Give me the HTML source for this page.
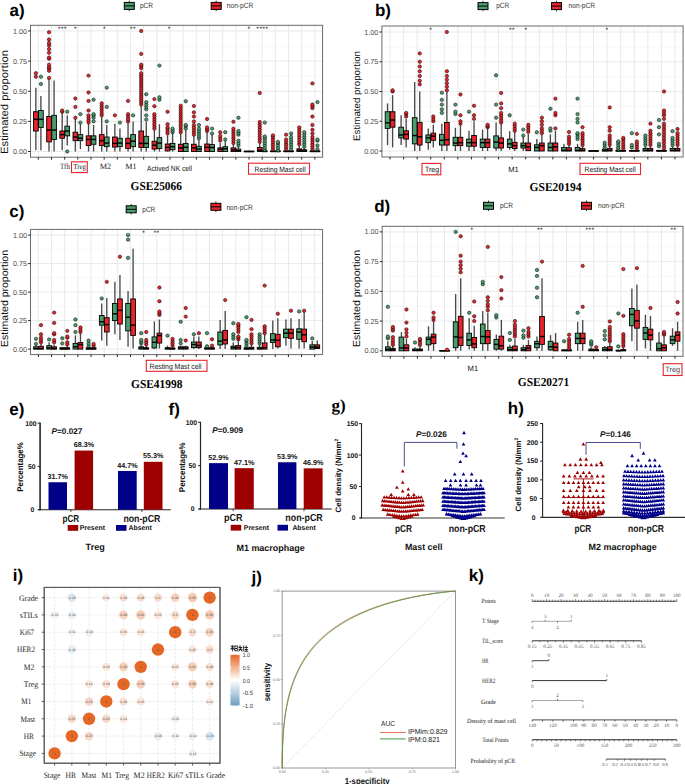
<!DOCTYPE html><html><head><meta charset="utf-8"><style>html,body{margin:0;padding:0;background:#fff;}svg{display:block;}</style></head><body><svg width="685" height="784" viewBox="0 0 685 784" text-rendering="geometricPrecision"><rect x="0" y="0" width="685" height="784" fill="#fff"/>
<rect x="30.5" y="25.3" width="292.1" height="131.9" fill="#fff"/>
<line x1="30.5" y1="136.44" x2="322.6" y2="136.44" stroke="#F2F2F2" stroke-width="0.6" />
<line x1="30.5" y1="106.31" x2="322.6" y2="106.31" stroke="#F2F2F2" stroke-width="0.6" />
<line x1="30.5" y1="76.19" x2="322.6" y2="76.19" stroke="#F2F2F2" stroke-width="0.6" />
<line x1="30.5" y1="46.06" x2="322.6" y2="46.06" stroke="#F2F2F2" stroke-width="0.6" />
<line x1="30.5" y1="151.5" x2="322.6" y2="151.5" stroke="#E6E6E6" stroke-width="0.9" />
<line x1="30.5" y1="121.38" x2="322.6" y2="121.38" stroke="#E6E6E6" stroke-width="0.9" />
<line x1="30.5" y1="91.25" x2="322.6" y2="91.25" stroke="#E6E6E6" stroke-width="0.9" />
<line x1="30.5" y1="61.12" x2="322.6" y2="61.12" stroke="#E6E6E6" stroke-width="0.9" />
<line x1="30.5" y1="31" x2="322.6" y2="31" stroke="#E6E6E6" stroke-width="0.9" />
<line x1="38.3" y1="25.3" x2="38.3" y2="157.2" stroke="#E6E6E6" stroke-width="0.9" />
<line x1="51.47" y1="25.3" x2="51.47" y2="157.2" stroke="#E6E6E6" stroke-width="0.9" />
<line x1="64.64" y1="25.3" x2="64.64" y2="157.2" stroke="#E6E6E6" stroke-width="0.9" />
<line x1="77.81" y1="25.3" x2="77.81" y2="157.2" stroke="#E6E6E6" stroke-width="0.9" />
<line x1="90.98" y1="25.3" x2="90.98" y2="157.2" stroke="#E6E6E6" stroke-width="0.9" />
<line x1="104.15" y1="25.3" x2="104.15" y2="157.2" stroke="#E6E6E6" stroke-width="0.9" />
<line x1="117.32" y1="25.3" x2="117.32" y2="157.2" stroke="#E6E6E6" stroke-width="0.9" />
<line x1="130.49" y1="25.3" x2="130.49" y2="157.2" stroke="#E6E6E6" stroke-width="0.9" />
<line x1="143.66" y1="25.3" x2="143.66" y2="157.2" stroke="#E6E6E6" stroke-width="0.9" />
<line x1="156.83" y1="25.3" x2="156.83" y2="157.2" stroke="#E6E6E6" stroke-width="0.9" />
<line x1="170" y1="25.3" x2="170" y2="157.2" stroke="#E6E6E6" stroke-width="0.9" />
<line x1="183.17" y1="25.3" x2="183.17" y2="157.2" stroke="#E6E6E6" stroke-width="0.9" />
<line x1="196.34" y1="25.3" x2="196.34" y2="157.2" stroke="#E6E6E6" stroke-width="0.9" />
<line x1="209.51" y1="25.3" x2="209.51" y2="157.2" stroke="#E6E6E6" stroke-width="0.9" />
<line x1="222.68" y1="25.3" x2="222.68" y2="157.2" stroke="#E6E6E6" stroke-width="0.9" />
<line x1="235.85" y1="25.3" x2="235.85" y2="157.2" stroke="#E6E6E6" stroke-width="0.9" />
<line x1="249.02" y1="25.3" x2="249.02" y2="157.2" stroke="#E6E6E6" stroke-width="0.9" />
<line x1="262.19" y1="25.3" x2="262.19" y2="157.2" stroke="#E6E6E6" stroke-width="0.9" />
<line x1="275.36" y1="25.3" x2="275.36" y2="157.2" stroke="#E6E6E6" stroke-width="0.9" />
<line x1="288.53" y1="25.3" x2="288.53" y2="157.2" stroke="#E6E6E6" stroke-width="0.9" />
<line x1="301.7" y1="25.3" x2="301.7" y2="157.2" stroke="#E6E6E6" stroke-width="0.9" />
<line x1="314.87" y1="25.3" x2="314.87" y2="157.2" stroke="#E6E6E6" stroke-width="0.9" />
<line x1="35.85" y1="87.63" x2="35.85" y2="111.73" stroke="#484848" stroke-width="1.35" />
<line x1="35.85" y1="131.01" x2="35.85" y2="150.29" stroke="#484848" stroke-width="1.35" />
<rect x="33.5" y="111.73" width="4.7" height="19.28" fill="#E8232A" stroke="#000" stroke-width="0.9" />
<line x1="33.5" y1="119.33" x2="38.2" y2="119.33" stroke="#000" stroke-width="1.45" />
<circle cx="35.85" cy="76.79" r="1.7" fill="#E8232A" stroke="#000" stroke-width="0.5"/>
<circle cx="35.85" cy="73.17" r="1.7" fill="#E8232A" stroke="#000" stroke-width="0.5"/>
<line x1="40.9" y1="96.07" x2="40.9" y2="110.53" stroke="#484848" stroke-width="1.35" />
<line x1="40.9" y1="127.4" x2="40.9" y2="150.29" stroke="#484848" stroke-width="1.35" />
<rect x="38.55" y="110.53" width="4.7" height="16.87" fill="#4A9D6C" stroke="#000" stroke-width="0.9" />
<line x1="38.55" y1="119.33" x2="43.25" y2="119.33" stroke="#000" stroke-width="1.45" />
<circle cx="40.9" cy="84.02" r="1.7" fill="#4A9D6C" stroke="#000" stroke-width="0.5"/>
<circle cx="40.9" cy="76.79" r="1.7" fill="#4A9D6C" stroke="#000" stroke-width="0.5"/>
<line x1="49.02" y1="79.2" x2="49.02" y2="116.56" stroke="#484848" stroke-width="1.35" />
<line x1="49.02" y1="141.86" x2="49.02" y2="151.5" stroke="#484848" stroke-width="1.35" />
<rect x="46.67" y="116.56" width="4.7" height="25.31" fill="#E8232A" stroke="#000" stroke-width="0.9" />
<line x1="46.67" y1="130.05" x2="51.37" y2="130.05" stroke="#000" stroke-width="1.45" />
<circle cx="49.02" cy="78" r="1.7" fill="#E8232A" stroke="#000" stroke-width="0.5"/>
<circle cx="49.02" cy="70.77" r="1.7" fill="#E8232A" stroke="#000" stroke-width="0.5"/>
<circle cx="49.02" cy="68.36" r="1.7" fill="#E8232A" stroke="#000" stroke-width="0.5"/>
<circle cx="49.02" cy="67.15" r="1.7" fill="#E8232A" stroke="#000" stroke-width="0.5"/>
<circle cx="49.02" cy="64.74" r="1.7" fill="#E8232A" stroke="#000" stroke-width="0.5"/>
<circle cx="49.02" cy="58.72" r="1.7" fill="#E8232A" stroke="#000" stroke-width="0.5"/>
<circle cx="49.02" cy="57.51" r="1.7" fill="#E8232A" stroke="#000" stroke-width="0.5"/>
<circle cx="49.02" cy="52.69" r="1.7" fill="#E8232A" stroke="#000" stroke-width="0.5"/>
<circle cx="49.02" cy="49.08" r="1.7" fill="#E8232A" stroke="#000" stroke-width="0.5"/>
<circle cx="49.02" cy="45.46" r="1.7" fill="#E8232A" stroke="#000" stroke-width="0.5"/>
<circle cx="49.02" cy="43.05" r="1.7" fill="#E8232A" stroke="#000" stroke-width="0.5"/>
<circle cx="49.02" cy="39.43" r="1.7" fill="#E8232A" stroke="#000" stroke-width="0.5"/>
<circle cx="49.02" cy="32.2" r="1.7" fill="#E8232A" stroke="#000" stroke-width="0.5"/>
<line x1="54.07" y1="80.41" x2="54.07" y2="115.35" stroke="#484848" stroke-width="1.35" />
<line x1="54.07" y1="139.45" x2="54.07" y2="151.5" stroke="#484848" stroke-width="1.35" />
<rect x="51.72" y="115.35" width="4.7" height="24.1" fill="#4A9D6C" stroke="#000" stroke-width="0.9" />
<line x1="51.72" y1="130.05" x2="56.42" y2="130.05" stroke="#000" stroke-width="1.45" />
<line x1="62.19" y1="112.94" x2="62.19" y2="131.01" stroke="#484848" stroke-width="1.35" />
<line x1="62.19" y1="138.25" x2="62.19" y2="150.29" stroke="#484848" stroke-width="1.35" />
<rect x="59.84" y="131.01" width="4.7" height="7.23" fill="#E8232A" stroke="#000" stroke-width="0.9" />
<line x1="59.84" y1="134.63" x2="64.54" y2="134.63" stroke="#000" stroke-width="1.45" />
<circle cx="62.19" cy="111.73" r="1.7" fill="#E8232A" stroke="#000" stroke-width="0.5"/>
<circle cx="62.19" cy="110.53" r="1.7" fill="#E8232A" stroke="#000" stroke-width="0.5"/>
<line x1="67.24" y1="115.35" x2="67.24" y2="126.19" stroke="#484848" stroke-width="1.35" />
<line x1="67.24" y1="135.84" x2="67.24" y2="145.47" stroke="#484848" stroke-width="1.35" />
<rect x="64.89" y="126.19" width="4.7" height="9.64" fill="#4A9D6C" stroke="#000" stroke-width="0.9" />
<line x1="64.89" y1="131.01" x2="69.59" y2="131.01" stroke="#000" stroke-width="1.45" />
<circle cx="67.24" cy="151.5" r="1.7" fill="#4A9D6C" stroke="#000" stroke-width="0.5"/>
<circle cx="67.24" cy="111.73" r="1.7" fill="#4A9D6C" stroke="#000" stroke-width="0.5"/>
<line x1="75.36" y1="118.97" x2="75.36" y2="132.22" stroke="#484848" stroke-width="1.35" />
<line x1="75.36" y1="140.66" x2="75.36" y2="151.5" stroke="#484848" stroke-width="1.35" />
<rect x="73.01" y="132.22" width="4.7" height="8.44" fill="#E8232A" stroke="#000" stroke-width="0.9" />
<line x1="73.01" y1="137.04" x2="77.71" y2="137.04" stroke="#000" stroke-width="1.45" />
<circle cx="75.36" cy="117.76" r="1.7" fill="#E8232A" stroke="#000" stroke-width="0.5"/>
<circle cx="75.36" cy="106.91" r="1.7" fill="#E8232A" stroke="#000" stroke-width="0.5"/>
<circle cx="75.36" cy="98.48" r="1.7" fill="#E8232A" stroke="#000" stroke-width="0.5"/>
<line x1="80.41" y1="123.78" x2="80.41" y2="134.63" stroke="#484848" stroke-width="1.35" />
<line x1="80.41" y1="140.66" x2="80.41" y2="149.09" stroke="#484848" stroke-width="1.35" />
<rect x="78.06" y="134.63" width="4.7" height="6.03" fill="#4A9D6C" stroke="#000" stroke-width="0.9" />
<line x1="78.06" y1="138.25" x2="82.76" y2="138.25" stroke="#000" stroke-width="1.45" />
<circle cx="80.41" cy="122.58" r="1.7" fill="#4A9D6C" stroke="#000" stroke-width="0.5"/>
<circle cx="80.41" cy="114.15" r="1.7" fill="#4A9D6C" stroke="#000" stroke-width="0.5"/>
<line x1="88.53" y1="123.78" x2="88.53" y2="135.84" stroke="#484848" stroke-width="1.35" />
<line x1="88.53" y1="145.47" x2="88.53" y2="151.5" stroke="#484848" stroke-width="1.35" />
<rect x="86.18" y="135.84" width="4.7" height="9.64" fill="#E8232A" stroke="#000" stroke-width="0.9" />
<line x1="86.18" y1="139.45" x2="90.88" y2="139.45" stroke="#000" stroke-width="1.45" />
<circle cx="88.53" cy="122.58" r="1.7" fill="#E8232A" stroke="#000" stroke-width="0.5"/>
<circle cx="88.53" cy="120.17" r="1.7" fill="#E8232A" stroke="#000" stroke-width="0.5"/>
<circle cx="88.53" cy="117.76" r="1.7" fill="#E8232A" stroke="#000" stroke-width="0.5"/>
<circle cx="88.53" cy="115.35" r="1.7" fill="#E8232A" stroke="#000" stroke-width="0.5"/>
<circle cx="88.53" cy="110.53" r="1.7" fill="#E8232A" stroke="#000" stroke-width="0.5"/>
<circle cx="88.53" cy="100.89" r="1.7" fill="#E8232A" stroke="#000" stroke-width="0.5"/>
<circle cx="88.53" cy="92.45" r="1.7" fill="#E8232A" stroke="#000" stroke-width="0.5"/>
<circle cx="88.53" cy="75.58" r="1.7" fill="#E8232A" stroke="#000" stroke-width="0.5"/>
<line x1="93.58" y1="124.99" x2="93.58" y2="135.84" stroke="#484848" stroke-width="1.35" />
<line x1="93.58" y1="144.27" x2="93.58" y2="151.5" stroke="#484848" stroke-width="1.35" />
<rect x="91.23" y="135.84" width="4.7" height="8.44" fill="#4A9D6C" stroke="#000" stroke-width="0.9" />
<line x1="91.23" y1="139.45" x2="95.93" y2="139.45" stroke="#000" stroke-width="1.45" />
<circle cx="93.58" cy="121.38" r="1.7" fill="#4A9D6C" stroke="#000" stroke-width="0.5"/>
<circle cx="93.58" cy="117.76" r="1.7" fill="#4A9D6C" stroke="#000" stroke-width="0.5"/>
<circle cx="93.58" cy="115.35" r="1.7" fill="#4A9D6C" stroke="#000" stroke-width="0.5"/>
<circle cx="93.58" cy="114.15" r="1.7" fill="#4A9D6C" stroke="#000" stroke-width="0.5"/>
<circle cx="93.58" cy="99.69" r="1.7" fill="#4A9D6C" stroke="#000" stroke-width="0.5"/>
<line x1="101.7" y1="116.56" x2="101.7" y2="134.63" stroke="#484848" stroke-width="1.35" />
<line x1="101.7" y1="145.47" x2="101.7" y2="151.5" stroke="#484848" stroke-width="1.35" />
<rect x="99.35" y="134.63" width="4.7" height="10.84" fill="#E8232A" stroke="#000" stroke-width="0.9" />
<line x1="99.35" y1="140.66" x2="104.05" y2="140.66" stroke="#000" stroke-width="1.45" />
<circle cx="101.7" cy="115.35" r="1.7" fill="#E8232A" stroke="#000" stroke-width="0.5"/>
<circle cx="101.7" cy="112.94" r="1.7" fill="#E8232A" stroke="#000" stroke-width="0.5"/>
<circle cx="101.7" cy="110.53" r="1.7" fill="#E8232A" stroke="#000" stroke-width="0.5"/>
<circle cx="101.7" cy="108.12" r="1.7" fill="#E8232A" stroke="#000" stroke-width="0.5"/>
<circle cx="101.7" cy="105.71" r="1.7" fill="#E8232A" stroke="#000" stroke-width="0.5"/>
<circle cx="101.7" cy="103.3" r="1.7" fill="#E8232A" stroke="#000" stroke-width="0.5"/>
<line x1="106.75" y1="124.99" x2="106.75" y2="137.04" stroke="#484848" stroke-width="1.35" />
<line x1="106.75" y1="146.68" x2="106.75" y2="151.5" stroke="#484848" stroke-width="1.35" />
<rect x="104.4" y="137.04" width="4.7" height="9.64" fill="#4A9D6C" stroke="#000" stroke-width="0.9" />
<line x1="104.4" y1="143.06" x2="109.1" y2="143.06" stroke="#000" stroke-width="1.45" />
<circle cx="106.75" cy="121.38" r="1.7" fill="#4A9D6C" stroke="#000" stroke-width="0.5"/>
<circle cx="106.75" cy="106.91" r="1.7" fill="#4A9D6C" stroke="#000" stroke-width="0.5"/>
<circle cx="106.75" cy="87.63" r="1.7" fill="#4A9D6C" stroke="#000" stroke-width="0.5"/>
<line x1="114.87" y1="123.78" x2="114.87" y2="137.04" stroke="#484848" stroke-width="1.35" />
<line x1="114.87" y1="147.04" x2="114.87" y2="151.5" stroke="#484848" stroke-width="1.35" />
<rect x="112.52" y="137.04" width="4.7" height="10" fill="#E8232A" stroke="#000" stroke-width="0.9" />
<line x1="112.52" y1="143.43" x2="117.22" y2="143.43" stroke="#000" stroke-width="1.45" />
<circle cx="114.87" cy="115.35" r="1.7" fill="#E8232A" stroke="#000" stroke-width="0.5"/>
<line x1="119.92" y1="128.6" x2="119.92" y2="138.25" stroke="#484848" stroke-width="1.35" />
<line x1="119.92" y1="146.68" x2="119.92" y2="151.5" stroke="#484848" stroke-width="1.35" />
<rect x="117.57" y="138.25" width="4.7" height="8.44" fill="#4A9D6C" stroke="#000" stroke-width="0.9" />
<line x1="117.57" y1="143.06" x2="122.27" y2="143.06" stroke="#000" stroke-width="1.45" />
<circle cx="119.92" cy="122.58" r="1.7" fill="#4A9D6C" stroke="#000" stroke-width="0.5"/>
<line x1="128.04" y1="121.98" x2="128.04" y2="138.25" stroke="#484848" stroke-width="1.35" />
<line x1="128.04" y1="148.49" x2="128.04" y2="151.5" stroke="#484848" stroke-width="1.35" />
<rect x="125.69" y="138.25" width="4.7" height="10.24" fill="#E8232A" stroke="#000" stroke-width="0.9" />
<line x1="125.69" y1="143.43" x2="130.39" y2="143.43" stroke="#000" stroke-width="1.45" />
<circle cx="128.04" cy="121.38" r="1.7" fill="#E8232A" stroke="#000" stroke-width="0.5"/>
<circle cx="128.04" cy="118.97" r="1.7" fill="#E8232A" stroke="#000" stroke-width="0.5"/>
<circle cx="128.04" cy="116.56" r="1.7" fill="#E8232A" stroke="#000" stroke-width="0.5"/>
<circle cx="128.04" cy="114.15" r="1.7" fill="#E8232A" stroke="#000" stroke-width="0.5"/>
<circle cx="128.04" cy="100.89" r="1.7" fill="#E8232A" stroke="#000" stroke-width="0.5"/>
<line x1="133.09" y1="121.38" x2="133.09" y2="134.63" stroke="#484848" stroke-width="1.35" />
<line x1="133.09" y1="146.68" x2="133.09" y2="151.5" stroke="#484848" stroke-width="1.35" />
<rect x="130.74" y="134.63" width="4.7" height="12.05" fill="#4A9D6C" stroke="#000" stroke-width="0.9" />
<line x1="130.74" y1="141.26" x2="135.44" y2="141.26" stroke="#000" stroke-width="1.45" />
<circle cx="133.09" cy="115.35" r="1.7" fill="#4A9D6C" stroke="#000" stroke-width="0.5"/>
<line x1="141.21" y1="105.71" x2="141.21" y2="131.01" stroke="#484848" stroke-width="1.35" />
<line x1="141.21" y1="147.4" x2="141.21" y2="151.5" stroke="#484848" stroke-width="1.35" />
<rect x="138.86" y="131.01" width="4.7" height="16.39" fill="#E8232A" stroke="#000" stroke-width="0.9" />
<line x1="138.86" y1="143.43" x2="143.56" y2="143.43" stroke="#000" stroke-width="1.45" />
<circle cx="141.21" cy="104.5" r="1.7" fill="#E8232A" stroke="#000" stroke-width="0.5"/>
<circle cx="141.21" cy="102.42" r="1.7" fill="#E8232A" stroke="#000" stroke-width="0.5"/>
<circle cx="141.21" cy="100.33" r="1.7" fill="#E8232A" stroke="#000" stroke-width="0.5"/>
<circle cx="141.21" cy="98.24" r="1.7" fill="#E8232A" stroke="#000" stroke-width="0.5"/>
<circle cx="141.21" cy="96.15" r="1.7" fill="#E8232A" stroke="#000" stroke-width="0.5"/>
<circle cx="141.21" cy="94.06" r="1.7" fill="#E8232A" stroke="#000" stroke-width="0.5"/>
<circle cx="141.21" cy="91.97" r="1.7" fill="#E8232A" stroke="#000" stroke-width="0.5"/>
<circle cx="141.21" cy="89.88" r="1.7" fill="#E8232A" stroke="#000" stroke-width="0.5"/>
<circle cx="141.21" cy="87.8" r="1.7" fill="#E8232A" stroke="#000" stroke-width="0.5"/>
<circle cx="141.21" cy="85.71" r="1.7" fill="#E8232A" stroke="#000" stroke-width="0.5"/>
<circle cx="141.21" cy="83.62" r="1.7" fill="#E8232A" stroke="#000" stroke-width="0.5"/>
<circle cx="141.21" cy="81.53" r="1.7" fill="#E8232A" stroke="#000" stroke-width="0.5"/>
<circle cx="141.21" cy="79.44" r="1.7" fill="#E8232A" stroke="#000" stroke-width="0.5"/>
<circle cx="141.21" cy="77.35" r="1.7" fill="#E8232A" stroke="#000" stroke-width="0.5"/>
<circle cx="141.21" cy="75.26" r="1.7" fill="#E8232A" stroke="#000" stroke-width="0.5"/>
<circle cx="141.21" cy="73.17" r="1.7" fill="#E8232A" stroke="#000" stroke-width="0.5"/>
<circle cx="141.21" cy="68.36" r="1.7" fill="#E8232A" stroke="#000" stroke-width="0.5"/>
<circle cx="141.21" cy="65.95" r="1.7" fill="#E8232A" stroke="#000" stroke-width="0.5"/>
<circle cx="141.21" cy="64.74" r="1.7" fill="#E8232A" stroke="#000" stroke-width="0.5"/>
<circle cx="141.21" cy="53.89" r="1.7" fill="#E8232A" stroke="#000" stroke-width="0.5"/>
<circle cx="141.21" cy="31" r="1.7" fill="#E8232A" stroke="#000" stroke-width="0.5"/>
<line x1="146.26" y1="121.98" x2="146.26" y2="136.32" stroke="#484848" stroke-width="1.35" />
<line x1="146.26" y1="147.4" x2="146.26" y2="151.5" stroke="#484848" stroke-width="1.35" />
<rect x="143.91" y="136.32" width="4.7" height="11.09" fill="#4A9D6C" stroke="#000" stroke-width="0.9" />
<line x1="143.91" y1="143.43" x2="148.61" y2="143.43" stroke="#000" stroke-width="1.45" />
<circle cx="146.26" cy="119.57" r="1.7" fill="#4A9D6C" stroke="#000" stroke-width="0.5"/>
<circle cx="146.26" cy="115.35" r="1.7" fill="#4A9D6C" stroke="#000" stroke-width="0.5"/>
<circle cx="146.26" cy="109.33" r="1.7" fill="#4A9D6C" stroke="#000" stroke-width="0.5"/>
<circle cx="146.26" cy="106.91" r="1.7" fill="#4A9D6C" stroke="#000" stroke-width="0.5"/>
<circle cx="146.26" cy="104.5" r="1.7" fill="#4A9D6C" stroke="#000" stroke-width="0.5"/>
<circle cx="146.26" cy="102.09" r="1.7" fill="#4A9D6C" stroke="#000" stroke-width="0.5"/>
<circle cx="146.26" cy="94.26" r="1.7" fill="#4A9D6C" stroke="#000" stroke-width="0.5"/>
<line x1="154.38" y1="129.09" x2="154.38" y2="141.26" stroke="#484848" stroke-width="1.35" />
<line x1="154.38" y1="149.09" x2="154.38" y2="151.5" stroke="#484848" stroke-width="1.35" />
<rect x="152.03" y="141.26" width="4.7" height="7.83" fill="#E8232A" stroke="#000" stroke-width="0.9" />
<line x1="152.03" y1="145.23" x2="156.73" y2="145.23" stroke="#000" stroke-width="1.45" />
<circle cx="154.38" cy="128.6" r="1.7" fill="#E8232A" stroke="#000" stroke-width="0.5"/>
<circle cx="154.38" cy="126.19" r="1.7" fill="#E8232A" stroke="#000" stroke-width="0.5"/>
<circle cx="154.38" cy="123.78" r="1.7" fill="#E8232A" stroke="#000" stroke-width="0.5"/>
<circle cx="154.38" cy="121.38" r="1.7" fill="#E8232A" stroke="#000" stroke-width="0.5"/>
<circle cx="154.38" cy="118.97" r="1.7" fill="#E8232A" stroke="#000" stroke-width="0.5"/>
<circle cx="154.38" cy="116.56" r="1.7" fill="#E8232A" stroke="#000" stroke-width="0.5"/>
<circle cx="154.38" cy="114.15" r="1.7" fill="#E8232A" stroke="#000" stroke-width="0.5"/>
<circle cx="154.38" cy="106.19" r="1.7" fill="#E8232A" stroke="#000" stroke-width="0.5"/>
<circle cx="154.38" cy="99.08" r="1.7" fill="#E8232A" stroke="#000" stroke-width="0.5"/>
<line x1="159.43" y1="124.15" x2="159.43" y2="137.64" stroke="#484848" stroke-width="1.35" />
<line x1="159.43" y1="148.49" x2="159.43" y2="151.5" stroke="#484848" stroke-width="1.35" />
<rect x="157.08" y="137.64" width="4.7" height="10.84" fill="#4A9D6C" stroke="#000" stroke-width="0.9" />
<line x1="157.08" y1="143.06" x2="161.78" y2="143.06" stroke="#000" stroke-width="1.45" />
<circle cx="159.43" cy="99.69" r="1.7" fill="#4A9D6C" stroke="#000" stroke-width="0.5"/>
<circle cx="159.43" cy="97.28" r="1.7" fill="#4A9D6C" stroke="#000" stroke-width="0.5"/>
<circle cx="159.43" cy="65.58" r="1.7" fill="#4A9D6C" stroke="#000" stroke-width="0.5"/>
<line x1="167.55" y1="135.35" x2="167.55" y2="144.03" stroke="#484848" stroke-width="1.35" />
<line x1="167.55" y1="150.9" x2="167.55" y2="151.5" stroke="#484848" stroke-width="1.35" />
<rect x="165.2" y="144.03" width="4.7" height="6.87" fill="#E8232A" stroke="#000" stroke-width="0.9" />
<line x1="165.2" y1="147.4" x2="169.9" y2="147.4" stroke="#000" stroke-width="1.45" />
<circle cx="167.55" cy="133.43" r="1.7" fill="#E8232A" stroke="#000" stroke-width="0.5"/>
<circle cx="167.55" cy="131.01" r="1.7" fill="#E8232A" stroke="#000" stroke-width="0.5"/>
<circle cx="167.55" cy="128.6" r="1.7" fill="#E8232A" stroke="#000" stroke-width="0.5"/>
<circle cx="167.55" cy="127.4" r="1.7" fill="#E8232A" stroke="#000" stroke-width="0.5"/>
<circle cx="167.55" cy="124.15" r="1.7" fill="#E8232A" stroke="#000" stroke-width="0.5"/>
<circle cx="167.55" cy="111.73" r="1.7" fill="#E8232A" stroke="#000" stroke-width="0.5"/>
<line x1="172.6" y1="132.7" x2="172.6" y2="143.43" stroke="#484848" stroke-width="1.35" />
<line x1="172.6" y1="149.69" x2="172.6" y2="151.5" stroke="#484848" stroke-width="1.35" />
<rect x="170.25" y="143.43" width="4.7" height="6.27" fill="#4A9D6C" stroke="#000" stroke-width="0.9" />
<line x1="170.25" y1="146.68" x2="174.95" y2="146.68" stroke="#000" stroke-width="1.45" />
<circle cx="172.6" cy="132.22" r="1.7" fill="#4A9D6C" stroke="#000" stroke-width="0.5"/>
<circle cx="172.6" cy="130.41" r="1.7" fill="#4A9D6C" stroke="#000" stroke-width="0.5"/>
<circle cx="172.6" cy="128.6" r="1.7" fill="#4A9D6C" stroke="#000" stroke-width="0.5"/>
<line x1="180.72" y1="133.43" x2="180.72" y2="144.27" stroke="#484848" stroke-width="1.35" />
<line x1="180.72" y1="151.5" x2="180.72" y2="151.5" stroke="#484848" stroke-width="1.35" />
<rect x="178.37" y="144.27" width="4.7" height="7.23" fill="#E8232A" stroke="#000" stroke-width="0.9" />
<line x1="178.37" y1="147.88" x2="183.07" y2="147.88" stroke="#000" stroke-width="1.45" />
<circle cx="180.72" cy="132.22" r="1.7" fill="#E8232A" stroke="#000" stroke-width="0.5"/>
<circle cx="180.72" cy="129.81" r="1.7" fill="#E8232A" stroke="#000" stroke-width="0.5"/>
<circle cx="180.72" cy="127.4" r="1.7" fill="#E8232A" stroke="#000" stroke-width="0.5"/>
<circle cx="180.72" cy="124.99" r="1.7" fill="#E8232A" stroke="#000" stroke-width="0.5"/>
<circle cx="180.72" cy="122.58" r="1.7" fill="#E8232A" stroke="#000" stroke-width="0.5"/>
<circle cx="180.72" cy="120.17" r="1.7" fill="#E8232A" stroke="#000" stroke-width="0.5"/>
<circle cx="180.72" cy="117.76" r="1.7" fill="#E8232A" stroke="#000" stroke-width="0.5"/>
<circle cx="180.72" cy="115.35" r="1.7" fill="#E8232A" stroke="#000" stroke-width="0.5"/>
<circle cx="180.72" cy="112.94" r="1.7" fill="#E8232A" stroke="#000" stroke-width="0.5"/>
<circle cx="180.72" cy="110.53" r="1.7" fill="#E8232A" stroke="#000" stroke-width="0.5"/>
<circle cx="180.72" cy="108.12" r="1.7" fill="#E8232A" stroke="#000" stroke-width="0.5"/>
<circle cx="180.72" cy="105.71" r="1.7" fill="#E8232A" stroke="#000" stroke-width="0.5"/>
<line x1="185.77" y1="129.81" x2="185.77" y2="143.43" stroke="#484848" stroke-width="1.35" />
<line x1="185.77" y1="151.5" x2="185.77" y2="151.5" stroke="#484848" stroke-width="1.35" />
<rect x="183.42" y="143.43" width="4.7" height="8.07" fill="#4A9D6C" stroke="#000" stroke-width="0.9" />
<line x1="183.42" y1="147.28" x2="188.12" y2="147.28" stroke="#000" stroke-width="1.45" />
<circle cx="185.77" cy="128.6" r="1.7" fill="#4A9D6C" stroke="#000" stroke-width="0.5"/>
<circle cx="185.77" cy="126.19" r="1.7" fill="#4A9D6C" stroke="#000" stroke-width="0.5"/>
<circle cx="185.77" cy="124.99" r="1.7" fill="#4A9D6C" stroke="#000" stroke-width="0.5"/>
<circle cx="185.77" cy="101.25" r="1.7" fill="#4A9D6C" stroke="#000" stroke-width="0.5"/>
<line x1="193.89" y1="135.84" x2="193.89" y2="144.27" stroke="#484848" stroke-width="1.35" />
<line x1="193.89" y1="151.5" x2="193.89" y2="151.5" stroke="#484848" stroke-width="1.35" />
<rect x="191.54" y="144.27" width="4.7" height="7.23" fill="#E8232A" stroke="#000" stroke-width="0.9" />
<line x1="191.54" y1="147.88" x2="196.24" y2="147.88" stroke="#000" stroke-width="1.45" />
<circle cx="193.89" cy="134.63" r="1.7" fill="#E8232A" stroke="#000" stroke-width="0.5"/>
<circle cx="193.89" cy="132.22" r="1.7" fill="#E8232A" stroke="#000" stroke-width="0.5"/>
<circle cx="193.89" cy="129.81" r="1.7" fill="#E8232A" stroke="#000" stroke-width="0.5"/>
<circle cx="193.89" cy="127.4" r="1.7" fill="#E8232A" stroke="#000" stroke-width="0.5"/>
<circle cx="193.89" cy="124.99" r="1.7" fill="#E8232A" stroke="#000" stroke-width="0.5"/>
<circle cx="193.89" cy="121.38" r="1.7" fill="#E8232A" stroke="#000" stroke-width="0.5"/>
<circle cx="193.89" cy="116.56" r="1.7" fill="#E8232A" stroke="#000" stroke-width="0.5"/>
<circle cx="193.89" cy="112.34" r="1.7" fill="#E8232A" stroke="#000" stroke-width="0.5"/>
<circle cx="193.89" cy="105.95" r="1.7" fill="#E8232A" stroke="#000" stroke-width="0.5"/>
<line x1="198.94" y1="139.45" x2="198.94" y2="146.32" stroke="#484848" stroke-width="1.35" />
<line x1="198.94" y1="151.5" x2="198.94" y2="151.5" stroke="#484848" stroke-width="1.35" />
<rect x="196.59" y="146.32" width="4.7" height="5.18" fill="#4A9D6C" stroke="#000" stroke-width="0.9" />
<line x1="196.59" y1="149.09" x2="201.29" y2="149.09" stroke="#000" stroke-width="1.45" />
<circle cx="198.94" cy="138.25" r="1.7" fill="#4A9D6C" stroke="#000" stroke-width="0.5"/>
<circle cx="198.94" cy="135.84" r="1.7" fill="#4A9D6C" stroke="#000" stroke-width="0.5"/>
<circle cx="198.94" cy="133.43" r="1.7" fill="#4A9D6C" stroke="#000" stroke-width="0.5"/>
<circle cx="198.94" cy="131.01" r="1.7" fill="#4A9D6C" stroke="#000" stroke-width="0.5"/>
<circle cx="198.94" cy="128.6" r="1.7" fill="#4A9D6C" stroke="#000" stroke-width="0.5"/>
<circle cx="198.94" cy="124.99" r="1.7" fill="#4A9D6C" stroke="#000" stroke-width="0.5"/>
<line x1="207.06" y1="132.22" x2="207.06" y2="144.03" stroke="#484848" stroke-width="1.35" />
<line x1="207.06" y1="151.5" x2="207.06" y2="151.5" stroke="#484848" stroke-width="1.35" />
<rect x="204.71" y="144.03" width="4.7" height="7.47" fill="#E8232A" stroke="#000" stroke-width="0.9" />
<line x1="204.71" y1="147.28" x2="209.41" y2="147.28" stroke="#000" stroke-width="1.45" />
<circle cx="207.06" cy="131.01" r="1.7" fill="#E8232A" stroke="#000" stroke-width="0.5"/>
<circle cx="207.06" cy="129.21" r="1.7" fill="#E8232A" stroke="#000" stroke-width="0.5"/>
<circle cx="207.06" cy="127.4" r="1.7" fill="#E8232A" stroke="#000" stroke-width="0.5"/>
<circle cx="207.06" cy="118.97" r="1.7" fill="#E8232A" stroke="#000" stroke-width="0.5"/>
<line x1="212.11" y1="134.63" x2="212.11" y2="144.63" stroke="#484848" stroke-width="1.35" />
<line x1="212.11" y1="151.5" x2="212.11" y2="151.5" stroke="#484848" stroke-width="1.35" />
<rect x="209.76" y="144.63" width="4.7" height="6.87" fill="#4A9D6C" stroke="#000" stroke-width="0.9" />
<line x1="209.76" y1="147.52" x2="214.46" y2="147.52" stroke="#000" stroke-width="1.45" />
<circle cx="212.11" cy="133.43" r="1.7" fill="#4A9D6C" stroke="#000" stroke-width="0.5"/>
<circle cx="212.11" cy="128.6" r="1.7" fill="#4A9D6C" stroke="#000" stroke-width="0.5"/>
<line x1="220.23" y1="143.06" x2="220.23" y2="147.88" stroke="#484848" stroke-width="1.35" />
<line x1="220.23" y1="151.5" x2="220.23" y2="151.5" stroke="#484848" stroke-width="1.35" />
<rect x="217.88" y="147.88" width="4.7" height="3.62" fill="#E8232A" stroke="#000" stroke-width="0.9" />
<line x1="217.88" y1="149.33" x2="222.58" y2="149.33" stroke="#000" stroke-width="1.45" />
<circle cx="220.23" cy="140.66" r="1.7" fill="#E8232A" stroke="#000" stroke-width="0.5"/>
<circle cx="220.23" cy="138.25" r="1.7" fill="#E8232A" stroke="#000" stroke-width="0.5"/>
<circle cx="220.23" cy="135.84" r="1.7" fill="#E8232A" stroke="#000" stroke-width="0.5"/>
<circle cx="220.23" cy="132.22" r="1.7" fill="#E8232A" stroke="#000" stroke-width="0.5"/>
<line x1="225.28" y1="140.66" x2="225.28" y2="146.68" stroke="#484848" stroke-width="1.35" />
<line x1="225.28" y1="151.5" x2="225.28" y2="151.5" stroke="#484848" stroke-width="1.35" />
<rect x="222.93" y="146.68" width="4.7" height="4.82" fill="#4A9D6C" stroke="#000" stroke-width="0.9" />
<line x1="222.93" y1="148.73" x2="227.63" y2="148.73" stroke="#000" stroke-width="1.45" />
<circle cx="225.28" cy="139.45" r="1.7" fill="#4A9D6C" stroke="#000" stroke-width="0.5"/>
<circle cx="225.28" cy="132.22" r="1.7" fill="#4A9D6C" stroke="#000" stroke-width="0.5"/>
<line x1="233.4" y1="144.27" x2="233.4" y2="147.88" stroke="#484848" stroke-width="1.35" />
<line x1="233.4" y1="151.5" x2="233.4" y2="151.5" stroke="#484848" stroke-width="1.35" />
<rect x="231.05" y="147.88" width="4.7" height="3.62" fill="#E8232A" stroke="#000" stroke-width="0.9" />
<line x1="231.05" y1="149.93" x2="235.75" y2="149.93" stroke="#000" stroke-width="1.45" />
<circle cx="233.4" cy="143.06" r="1.7" fill="#E8232A" stroke="#000" stroke-width="0.5"/>
<circle cx="233.4" cy="140.66" r="1.7" fill="#E8232A" stroke="#000" stroke-width="0.5"/>
<circle cx="233.4" cy="138.25" r="1.7" fill="#E8232A" stroke="#000" stroke-width="0.5"/>
<circle cx="233.4" cy="135.84" r="1.7" fill="#E8232A" stroke="#000" stroke-width="0.5"/>
<circle cx="233.4" cy="133.43" r="1.7" fill="#E8232A" stroke="#000" stroke-width="0.5"/>
<circle cx="233.4" cy="131.01" r="1.7" fill="#E8232A" stroke="#000" stroke-width="0.5"/>
<circle cx="233.4" cy="128.6" r="1.7" fill="#E8232A" stroke="#000" stroke-width="0.5"/>
<circle cx="233.4" cy="121.74" r="1.7" fill="#E8232A" stroke="#000" stroke-width="0.5"/>
<line x1="238.45" y1="146.68" x2="238.45" y2="149.09" stroke="#484848" stroke-width="1.35" />
<line x1="238.45" y1="151.5" x2="238.45" y2="151.5" stroke="#484848" stroke-width="1.35" />
<rect x="236.1" y="149.09" width="4.7" height="2.41" fill="#4A9D6C" stroke="#000" stroke-width="0.9" />
<line x1="236.1" y1="150.66" x2="240.8" y2="150.66" stroke="#000" stroke-width="1.45" />
<circle cx="238.45" cy="145.47" r="1.7" fill="#4A9D6C" stroke="#000" stroke-width="0.5"/>
<circle cx="238.45" cy="143.06" r="1.7" fill="#4A9D6C" stroke="#000" stroke-width="0.5"/>
<circle cx="238.45" cy="140.66" r="1.7" fill="#4A9D6C" stroke="#000" stroke-width="0.5"/>
<circle cx="238.45" cy="134.63" r="1.7" fill="#4A9D6C" stroke="#000" stroke-width="0.5"/>
<circle cx="238.45" cy="132.82" r="1.7" fill="#4A9D6C" stroke="#000" stroke-width="0.5"/>
<circle cx="238.45" cy="131.01" r="1.7" fill="#4A9D6C" stroke="#000" stroke-width="0.5"/>
<circle cx="238.45" cy="117.76" r="1.7" fill="#4A9D6C" stroke="#000" stroke-width="0.5"/>
<line x1="246.57" y1="151.14" x2="246.57" y2="151.14" stroke="#484848" stroke-width="1.35" />
<line x1="246.57" y1="151.5" x2="246.57" y2="151.5" stroke="#484848" stroke-width="1.35" />
<rect x="244.22" y="151.14" width="4.7" height="0.6" fill="#E8232A" stroke="#000" stroke-width="0.9" />
<line x1="244.22" y1="151.5" x2="248.92" y2="151.5" stroke="#000" stroke-width="1.45" />
<line x1="251.62" y1="150.9" x2="251.62" y2="151.14" stroke="#484848" stroke-width="1.35" />
<line x1="251.62" y1="151.5" x2="251.62" y2="151.5" stroke="#484848" stroke-width="1.35" />
<rect x="249.27" y="151.14" width="4.7" height="0.6" fill="#4A9D6C" stroke="#000" stroke-width="0.9" />
<line x1="249.27" y1="151.5" x2="253.97" y2="151.5" stroke="#000" stroke-width="1.45" />
<line x1="259.74" y1="143.06" x2="259.74" y2="147.4" stroke="#484848" stroke-width="1.35" />
<line x1="259.74" y1="151.5" x2="259.74" y2="151.5" stroke="#484848" stroke-width="1.35" />
<rect x="257.39" y="147.4" width="4.7" height="4.1" fill="#E8232A" stroke="#000" stroke-width="0.9" />
<line x1="257.39" y1="150.29" x2="262.09" y2="150.29" stroke="#000" stroke-width="1.45" />
<circle cx="259.74" cy="141.86" r="1.7" fill="#E8232A" stroke="#000" stroke-width="0.5"/>
<circle cx="259.74" cy="139.37" r="1.7" fill="#E8232A" stroke="#000" stroke-width="0.5"/>
<circle cx="259.74" cy="136.89" r="1.7" fill="#E8232A" stroke="#000" stroke-width="0.5"/>
<circle cx="259.74" cy="134.4" r="1.7" fill="#E8232A" stroke="#000" stroke-width="0.5"/>
<circle cx="259.74" cy="131.92" r="1.7" fill="#E8232A" stroke="#000" stroke-width="0.5"/>
<circle cx="259.74" cy="129.43" r="1.7" fill="#E8232A" stroke="#000" stroke-width="0.5"/>
<circle cx="259.74" cy="126.95" r="1.7" fill="#E8232A" stroke="#000" stroke-width="0.5"/>
<circle cx="259.74" cy="124.46" r="1.7" fill="#E8232A" stroke="#000" stroke-width="0.5"/>
<circle cx="259.74" cy="121.98" r="1.7" fill="#E8232A" stroke="#000" stroke-width="0.5"/>
<circle cx="259.74" cy="92.94" r="1.7" fill="#E8232A" stroke="#000" stroke-width="0.5"/>
<line x1="264.79" y1="150.29" x2="264.79" y2="150.9" stroke="#484848" stroke-width="1.35" />
<line x1="264.79" y1="151.5" x2="264.79" y2="151.5" stroke="#484848" stroke-width="1.35" />
<rect x="262.44" y="150.9" width="4.7" height="0.6" fill="#4A9D6C" stroke="#000" stroke-width="0.9" />
<line x1="262.44" y1="151.5" x2="267.14" y2="151.5" stroke="#000" stroke-width="1.45" />
<circle cx="264.79" cy="149.69" r="1.7" fill="#4A9D6C" stroke="#000" stroke-width="0.5"/>
<circle cx="264.79" cy="147.88" r="1.7" fill="#4A9D6C" stroke="#000" stroke-width="0.5"/>
<circle cx="264.79" cy="145.47" r="1.7" fill="#4A9D6C" stroke="#000" stroke-width="0.5"/>
<circle cx="264.79" cy="143.06" r="1.7" fill="#4A9D6C" stroke="#000" stroke-width="0.5"/>
<circle cx="264.79" cy="140.66" r="1.7" fill="#4A9D6C" stroke="#000" stroke-width="0.5"/>
<circle cx="264.79" cy="138.25" r="1.7" fill="#4A9D6C" stroke="#000" stroke-width="0.5"/>
<circle cx="264.79" cy="136.44" r="1.7" fill="#4A9D6C" stroke="#000" stroke-width="0.5"/>
<circle cx="264.79" cy="122.58" r="1.7" fill="#4A9D6C" stroke="#000" stroke-width="0.5"/>
<line x1="272.91" y1="150.29" x2="272.91" y2="150.9" stroke="#484848" stroke-width="1.35" />
<line x1="272.91" y1="151.5" x2="272.91" y2="151.5" stroke="#484848" stroke-width="1.35" />
<rect x="270.56" y="150.9" width="4.7" height="0.6" fill="#E8232A" stroke="#000" stroke-width="0.9" />
<line x1="270.56" y1="151.5" x2="275.26" y2="151.5" stroke="#000" stroke-width="1.45" />
<circle cx="272.91" cy="149.09" r="1.7" fill="#E8232A" stroke="#000" stroke-width="0.5"/>
<circle cx="272.91" cy="146.68" r="1.7" fill="#E8232A" stroke="#000" stroke-width="0.5"/>
<circle cx="272.91" cy="144.27" r="1.7" fill="#E8232A" stroke="#000" stroke-width="0.5"/>
<circle cx="272.91" cy="141.86" r="1.7" fill="#E8232A" stroke="#000" stroke-width="0.5"/>
<circle cx="272.91" cy="139.45" r="1.7" fill="#E8232A" stroke="#000" stroke-width="0.5"/>
<circle cx="272.91" cy="137.04" r="1.7" fill="#E8232A" stroke="#000" stroke-width="0.5"/>
<circle cx="272.91" cy="135.35" r="1.7" fill="#E8232A" stroke="#000" stroke-width="0.5"/>
<line x1="277.96" y1="150.29" x2="277.96" y2="150.9" stroke="#484848" stroke-width="1.35" />
<line x1="277.96" y1="151.5" x2="277.96" y2="151.5" stroke="#484848" stroke-width="1.35" />
<rect x="275.61" y="150.9" width="4.7" height="0.6" fill="#4A9D6C" stroke="#000" stroke-width="0.9" />
<line x1="275.61" y1="151.5" x2="280.31" y2="151.5" stroke="#000" stroke-width="1.45" />
<circle cx="277.96" cy="150.29" r="1.7" fill="#4A9D6C" stroke="#000" stroke-width="0.5"/>
<circle cx="277.96" cy="147.88" r="1.7" fill="#4A9D6C" stroke="#000" stroke-width="0.5"/>
<circle cx="277.96" cy="145.47" r="1.7" fill="#4A9D6C" stroke="#000" stroke-width="0.5"/>
<circle cx="277.96" cy="143.06" r="1.7" fill="#4A9D6C" stroke="#000" stroke-width="0.5"/>
<circle cx="277.96" cy="141.86" r="1.7" fill="#4A9D6C" stroke="#000" stroke-width="0.5"/>
<line x1="286.08" y1="150.29" x2="286.08" y2="150.9" stroke="#484848" stroke-width="1.35" />
<line x1="286.08" y1="151.5" x2="286.08" y2="151.5" stroke="#484848" stroke-width="1.35" />
<rect x="283.73" y="150.9" width="4.7" height="0.6" fill="#E8232A" stroke="#000" stroke-width="0.9" />
<line x1="283.73" y1="151.5" x2="288.43" y2="151.5" stroke="#000" stroke-width="1.45" />
<circle cx="286.08" cy="149.09" r="1.7" fill="#E8232A" stroke="#000" stroke-width="0.5"/>
<circle cx="286.08" cy="146.68" r="1.7" fill="#E8232A" stroke="#000" stroke-width="0.5"/>
<circle cx="286.08" cy="144.27" r="1.7" fill="#E8232A" stroke="#000" stroke-width="0.5"/>
<circle cx="286.08" cy="141.86" r="1.7" fill="#E8232A" stroke="#000" stroke-width="0.5"/>
<circle cx="286.08" cy="139.45" r="1.7" fill="#E8232A" stroke="#000" stroke-width="0.5"/>
<circle cx="286.08" cy="134.63" r="1.7" fill="#E8232A" stroke="#000" stroke-width="0.5"/>
<line x1="291.13" y1="150.29" x2="291.13" y2="150.9" stroke="#484848" stroke-width="1.35" />
<line x1="291.13" y1="151.5" x2="291.13" y2="151.5" stroke="#484848" stroke-width="1.35" />
<rect x="288.78" y="150.9" width="4.7" height="0.6" fill="#4A9D6C" stroke="#000" stroke-width="0.9" />
<line x1="288.78" y1="151.5" x2="293.48" y2="151.5" stroke="#000" stroke-width="1.45" />
<circle cx="291.13" cy="149.09" r="1.7" fill="#4A9D6C" stroke="#000" stroke-width="0.5"/>
<circle cx="291.13" cy="146.68" r="1.7" fill="#4A9D6C" stroke="#000" stroke-width="0.5"/>
<circle cx="291.13" cy="144.27" r="1.7" fill="#4A9D6C" stroke="#000" stroke-width="0.5"/>
<circle cx="291.13" cy="141.86" r="1.7" fill="#4A9D6C" stroke="#000" stroke-width="0.5"/>
<circle cx="291.13" cy="139.45" r="1.7" fill="#4A9D6C" stroke="#000" stroke-width="0.5"/>
<circle cx="291.13" cy="137.04" r="1.7" fill="#4A9D6C" stroke="#000" stroke-width="0.5"/>
<circle cx="291.13" cy="133.43" r="1.7" fill="#4A9D6C" stroke="#000" stroke-width="0.5"/>
<line x1="299.25" y1="145.47" x2="299.25" y2="148.85" stroke="#484848" stroke-width="1.35" />
<line x1="299.25" y1="151.5" x2="299.25" y2="151.5" stroke="#484848" stroke-width="1.35" />
<rect x="296.9" y="148.85" width="4.7" height="2.65" fill="#E8232A" stroke="#000" stroke-width="0.9" />
<line x1="296.9" y1="150.29" x2="301.6" y2="150.29" stroke="#000" stroke-width="1.45" />
<circle cx="299.25" cy="144.27" r="1.7" fill="#E8232A" stroke="#000" stroke-width="0.5"/>
<circle cx="299.25" cy="141.86" r="1.7" fill="#E8232A" stroke="#000" stroke-width="0.5"/>
<circle cx="299.25" cy="139.45" r="1.7" fill="#E8232A" stroke="#000" stroke-width="0.5"/>
<circle cx="299.25" cy="137.04" r="1.7" fill="#E8232A" stroke="#000" stroke-width="0.5"/>
<circle cx="299.25" cy="134.63" r="1.7" fill="#E8232A" stroke="#000" stroke-width="0.5"/>
<circle cx="299.25" cy="132.22" r="1.7" fill="#E8232A" stroke="#000" stroke-width="0.5"/>
<circle cx="299.25" cy="129.81" r="1.7" fill="#E8232A" stroke="#000" stroke-width="0.5"/>
<circle cx="299.25" cy="127.4" r="1.7" fill="#E8232A" stroke="#000" stroke-width="0.5"/>
<line x1="304.3" y1="147.88" x2="304.3" y2="149.69" stroke="#484848" stroke-width="1.35" />
<line x1="304.3" y1="151.5" x2="304.3" y2="151.5" stroke="#484848" stroke-width="1.35" />
<rect x="301.95" y="149.69" width="4.7" height="1.81" fill="#4A9D6C" stroke="#000" stroke-width="0.9" />
<line x1="301.95" y1="150.9" x2="306.65" y2="150.9" stroke="#000" stroke-width="1.45" />
<circle cx="304.3" cy="146.68" r="1.7" fill="#4A9D6C" stroke="#000" stroke-width="0.5"/>
<circle cx="304.3" cy="144.27" r="1.7" fill="#4A9D6C" stroke="#000" stroke-width="0.5"/>
<circle cx="304.3" cy="141.86" r="1.7" fill="#4A9D6C" stroke="#000" stroke-width="0.5"/>
<circle cx="304.3" cy="139.45" r="1.7" fill="#4A9D6C" stroke="#000" stroke-width="0.5"/>
<circle cx="304.3" cy="137.04" r="1.7" fill="#4A9D6C" stroke="#000" stroke-width="0.5"/>
<circle cx="304.3" cy="134.63" r="1.7" fill="#4A9D6C" stroke="#000" stroke-width="0.5"/>
<circle cx="304.3" cy="132.22" r="1.7" fill="#4A9D6C" stroke="#000" stroke-width="0.5"/>
<line x1="312.42" y1="150.29" x2="312.42" y2="150.9" stroke="#484848" stroke-width="1.35" />
<line x1="312.42" y1="151.5" x2="312.42" y2="151.5" stroke="#484848" stroke-width="1.35" />
<rect x="310.07" y="150.9" width="4.7" height="0.6" fill="#E8232A" stroke="#000" stroke-width="0.9" />
<line x1="310.07" y1="151.5" x2="314.77" y2="151.5" stroke="#000" stroke-width="1.45" />
<circle cx="312.42" cy="149.09" r="1.7" fill="#E8232A" stroke="#000" stroke-width="0.5"/>
<circle cx="312.42" cy="146.68" r="1.7" fill="#E8232A" stroke="#000" stroke-width="0.5"/>
<circle cx="312.42" cy="144.27" r="1.7" fill="#E8232A" stroke="#000" stroke-width="0.5"/>
<circle cx="312.42" cy="141.86" r="1.7" fill="#E8232A" stroke="#000" stroke-width="0.5"/>
<circle cx="312.42" cy="139.45" r="1.7" fill="#E8232A" stroke="#000" stroke-width="0.5"/>
<circle cx="312.42" cy="137.04" r="1.7" fill="#E8232A" stroke="#000" stroke-width="0.5"/>
<circle cx="312.42" cy="133.43" r="1.7" fill="#E8232A" stroke="#000" stroke-width="0.5"/>
<circle cx="312.42" cy="129.81" r="1.7" fill="#E8232A" stroke="#000" stroke-width="0.5"/>
<circle cx="312.42" cy="124.99" r="1.7" fill="#E8232A" stroke="#000" stroke-width="0.5"/>
<circle cx="312.42" cy="116.56" r="1.7" fill="#E8232A" stroke="#000" stroke-width="0.5"/>
<circle cx="312.42" cy="108.12" r="1.7" fill="#E8232A" stroke="#000" stroke-width="0.5"/>
<circle cx="312.42" cy="106.31" r="1.7" fill="#E8232A" stroke="#000" stroke-width="0.5"/>
<circle cx="312.42" cy="104.5" r="1.7" fill="#E8232A" stroke="#000" stroke-width="0.5"/>
<circle cx="312.42" cy="83.42" r="1.7" fill="#E8232A" stroke="#000" stroke-width="0.5"/>
<line x1="317.47" y1="150.29" x2="317.47" y2="150.9" stroke="#484848" stroke-width="1.35" />
<line x1="317.47" y1="151.5" x2="317.47" y2="151.5" stroke="#484848" stroke-width="1.35" />
<rect x="315.12" y="150.9" width="4.7" height="0.6" fill="#4A9D6C" stroke="#000" stroke-width="0.9" />
<line x1="315.12" y1="151.5" x2="319.82" y2="151.5" stroke="#000" stroke-width="1.45" />
<circle cx="317.47" cy="149.09" r="1.7" fill="#4A9D6C" stroke="#000" stroke-width="0.5"/>
<circle cx="317.47" cy="145.47" r="1.7" fill="#4A9D6C" stroke="#000" stroke-width="0.5"/>
<circle cx="317.47" cy="140.66" r="1.7" fill="#4A9D6C" stroke="#000" stroke-width="0.5"/>
<circle cx="317.47" cy="139.45" r="1.7" fill="#4A9D6C" stroke="#000" stroke-width="0.5"/>
<circle cx="317.47" cy="102.09" r="1.7" fill="#4A9D6C" stroke="#000" stroke-width="0.5"/>
<rect x="30.5" y="25.3" width="292.1" height="131.9" fill="none" stroke="#6A6A6A" stroke-width="1" />
<line x1="28.1" y1="151.5" x2="30.5" y2="151.5" stroke="#222" stroke-width="1" />
<text x="26.9" y="154" font-family="'Liberation Sans', sans-serif" font-size="7.2" fill="#4D4D4D" text-anchor="end">0.00</text>
<line x1="28.1" y1="121.38" x2="30.5" y2="121.38" stroke="#222" stroke-width="1" />
<text x="26.9" y="123.88" font-family="'Liberation Sans', sans-serif" font-size="7.2" fill="#4D4D4D" text-anchor="end">0.25</text>
<line x1="28.1" y1="91.25" x2="30.5" y2="91.25" stroke="#222" stroke-width="1" />
<text x="26.9" y="93.75" font-family="'Liberation Sans', sans-serif" font-size="7.2" fill="#4D4D4D" text-anchor="end">0.50</text>
<line x1="28.1" y1="61.12" x2="30.5" y2="61.12" stroke="#222" stroke-width="1" />
<text x="26.9" y="63.62" font-family="'Liberation Sans', sans-serif" font-size="7.2" fill="#4D4D4D" text-anchor="end">0.75</text>
<line x1="28.1" y1="31" x2="30.5" y2="31" stroke="#222" stroke-width="1" />
<text x="26.9" y="33.5" font-family="'Liberation Sans', sans-serif" font-size="7.2" fill="#4D4D4D" text-anchor="end">1.00</text>
<line x1="38.3" y1="157.2" x2="38.3" y2="159.6" stroke="#222" stroke-width="1" />
<line x1="51.47" y1="157.2" x2="51.47" y2="159.6" stroke="#222" stroke-width="1" />
<line x1="64.64" y1="157.2" x2="64.64" y2="159.6" stroke="#222" stroke-width="1" />
<line x1="77.81" y1="157.2" x2="77.81" y2="159.6" stroke="#222" stroke-width="1" />
<line x1="90.98" y1="157.2" x2="90.98" y2="159.6" stroke="#222" stroke-width="1" />
<line x1="104.15" y1="157.2" x2="104.15" y2="159.6" stroke="#222" stroke-width="1" />
<line x1="117.32" y1="157.2" x2="117.32" y2="159.6" stroke="#222" stroke-width="1" />
<line x1="130.49" y1="157.2" x2="130.49" y2="159.6" stroke="#222" stroke-width="1" />
<line x1="143.66" y1="157.2" x2="143.66" y2="159.6" stroke="#222" stroke-width="1" />
<line x1="156.83" y1="157.2" x2="156.83" y2="159.6" stroke="#222" stroke-width="1" />
<line x1="170" y1="157.2" x2="170" y2="159.6" stroke="#222" stroke-width="1" />
<line x1="183.17" y1="157.2" x2="183.17" y2="159.6" stroke="#222" stroke-width="1" />
<line x1="196.34" y1="157.2" x2="196.34" y2="159.6" stroke="#222" stroke-width="1" />
<line x1="209.51" y1="157.2" x2="209.51" y2="159.6" stroke="#222" stroke-width="1" />
<line x1="222.68" y1="157.2" x2="222.68" y2="159.6" stroke="#222" stroke-width="1" />
<line x1="235.85" y1="157.2" x2="235.85" y2="159.6" stroke="#222" stroke-width="1" />
<line x1="249.02" y1="157.2" x2="249.02" y2="159.6" stroke="#222" stroke-width="1" />
<line x1="262.19" y1="157.2" x2="262.19" y2="159.6" stroke="#222" stroke-width="1" />
<line x1="275.36" y1="157.2" x2="275.36" y2="159.6" stroke="#222" stroke-width="1" />
<line x1="288.53" y1="157.2" x2="288.53" y2="159.6" stroke="#222" stroke-width="1" />
<line x1="301.7" y1="157.2" x2="301.7" y2="159.6" stroke="#222" stroke-width="1" />
<line x1="314.87" y1="157.2" x2="314.87" y2="159.6" stroke="#222" stroke-width="1" />
<text x="62.5" y="30.9" font-family="'Liberation Sans', sans-serif" font-size="6.6" fill="#111" text-anchor="middle" letter-spacing="0.5">***</text>
<text x="75.6" y="30.9" font-family="'Liberation Sans', sans-serif" font-size="6.6" fill="#111" text-anchor="middle" letter-spacing="0.5">*</text>
<text x="104.5" y="30.9" font-family="'Liberation Sans', sans-serif" font-size="6.6" fill="#111" text-anchor="middle" letter-spacing="0.5">*</text>
<text x="133" y="30.9" font-family="'Liberation Sans', sans-serif" font-size="6.6" fill="#111" text-anchor="middle" letter-spacing="0.5">**</text>
<text x="169.2" y="30.9" font-family="'Liberation Sans', sans-serif" font-size="6.6" fill="#111" text-anchor="middle" letter-spacing="0.5">*</text>
<text x="249" y="30.9" font-family="'Liberation Sans', sans-serif" font-size="6.6" fill="#111" text-anchor="middle" letter-spacing="0.5">*</text>
<text x="262.5" y="30.9" font-family="'Liberation Sans', sans-serif" font-size="6.6" fill="#111" text-anchor="middle" letter-spacing="0.5">****</text>
<text x="8.2" y="102" font-family="'Liberation Sans', sans-serif" font-size="10.6" fill="#111" text-anchor="middle" transform="rotate(-90 8.2 102)" textLength="104" lengthAdjust="spacingAndGlyphs">Estimated proportion</text>
<rect x="381.9" y="26" width="301.2" height="131" fill="#fff"/>
<line x1="381.9" y1="136.12" x2="683.1" y2="136.12" stroke="#F2F2F2" stroke-width="0.6" />
<line x1="381.9" y1="106.38" x2="683.1" y2="106.38" stroke="#F2F2F2" stroke-width="0.6" />
<line x1="381.9" y1="76.62" x2="683.1" y2="76.62" stroke="#F2F2F2" stroke-width="0.6" />
<line x1="381.9" y1="46.88" x2="683.1" y2="46.88" stroke="#F2F2F2" stroke-width="0.6" />
<line x1="381.9" y1="151" x2="683.1" y2="151" stroke="#E6E6E6" stroke-width="0.9" />
<line x1="381.9" y1="121.25" x2="683.1" y2="121.25" stroke="#E6E6E6" stroke-width="0.9" />
<line x1="381.9" y1="91.5" x2="683.1" y2="91.5" stroke="#E6E6E6" stroke-width="0.9" />
<line x1="381.9" y1="61.75" x2="683.1" y2="61.75" stroke="#E6E6E6" stroke-width="0.9" />
<line x1="381.9" y1="32" x2="683.1" y2="32" stroke="#E6E6E6" stroke-width="0.9" />
<line x1="390" y1="26" x2="390" y2="157" stroke="#E6E6E6" stroke-width="0.9" />
<line x1="403.57" y1="26" x2="403.57" y2="157" stroke="#E6E6E6" stroke-width="0.9" />
<line x1="417.14" y1="26" x2="417.14" y2="157" stroke="#E6E6E6" stroke-width="0.9" />
<line x1="430.71" y1="26" x2="430.71" y2="157" stroke="#E6E6E6" stroke-width="0.9" />
<line x1="444.28" y1="26" x2="444.28" y2="157" stroke="#E6E6E6" stroke-width="0.9" />
<line x1="457.85" y1="26" x2="457.85" y2="157" stroke="#E6E6E6" stroke-width="0.9" />
<line x1="471.42" y1="26" x2="471.42" y2="157" stroke="#E6E6E6" stroke-width="0.9" />
<line x1="484.99" y1="26" x2="484.99" y2="157" stroke="#E6E6E6" stroke-width="0.9" />
<line x1="498.56" y1="26" x2="498.56" y2="157" stroke="#E6E6E6" stroke-width="0.9" />
<line x1="512.13" y1="26" x2="512.13" y2="157" stroke="#E6E6E6" stroke-width="0.9" />
<line x1="525.7" y1="26" x2="525.7" y2="157" stroke="#E6E6E6" stroke-width="0.9" />
<line x1="539.27" y1="26" x2="539.27" y2="157" stroke="#E6E6E6" stroke-width="0.9" />
<line x1="552.84" y1="26" x2="552.84" y2="157" stroke="#E6E6E6" stroke-width="0.9" />
<line x1="566.41" y1="26" x2="566.41" y2="157" stroke="#E6E6E6" stroke-width="0.9" />
<line x1="579.98" y1="26" x2="579.98" y2="157" stroke="#E6E6E6" stroke-width="0.9" />
<line x1="593.55" y1="26" x2="593.55" y2="157" stroke="#E6E6E6" stroke-width="0.9" />
<line x1="607.12" y1="26" x2="607.12" y2="157" stroke="#E6E6E6" stroke-width="0.9" />
<line x1="620.69" y1="26" x2="620.69" y2="157" stroke="#E6E6E6" stroke-width="0.9" />
<line x1="634.26" y1="26" x2="634.26" y2="157" stroke="#E6E6E6" stroke-width="0.9" />
<line x1="647.83" y1="26" x2="647.83" y2="157" stroke="#E6E6E6" stroke-width="0.9" />
<line x1="661.4" y1="26" x2="661.4" y2="157" stroke="#E6E6E6" stroke-width="0.9" />
<line x1="674.97" y1="26" x2="674.97" y2="157" stroke="#E6E6E6" stroke-width="0.9" />
<line x1="387.55" y1="103.4" x2="387.55" y2="111.73" stroke="#484848" stroke-width="1.35" />
<line x1="387.55" y1="128.39" x2="387.55" y2="145.05" stroke="#484848" stroke-width="1.35" />
<rect x="385.2" y="111.73" width="4.7" height="16.66" fill="#4A9D6C" stroke="#000" stroke-width="0.9" />
<line x1="385.2" y1="122.8" x2="389.9" y2="122.8" stroke="#000" stroke-width="1.45" />
<line x1="392.6" y1="95.07" x2="392.6" y2="111.73" stroke="#484848" stroke-width="1.35" />
<line x1="392.6" y1="127.2" x2="392.6" y2="147.43" stroke="#484848" stroke-width="1.35" />
<rect x="390.25" y="111.73" width="4.7" height="15.47" fill="#E8232A" stroke="#000" stroke-width="0.9" />
<line x1="390.25" y1="120.06" x2="394.95" y2="120.06" stroke="#000" stroke-width="1.45" />
<circle cx="392.6" cy="91.5" r="1.7" fill="#E8232A" stroke="#000" stroke-width="0.5"/>
<circle cx="392.6" cy="90.31" r="1.7" fill="#E8232A" stroke="#000" stroke-width="0.5"/>
<line x1="401.12" y1="115.3" x2="401.12" y2="127.2" stroke="#484848" stroke-width="1.35" />
<line x1="401.12" y1="137.91" x2="401.12" y2="145.05" stroke="#484848" stroke-width="1.35" />
<rect x="398.77" y="127.2" width="4.7" height="10.71" fill="#4A9D6C" stroke="#000" stroke-width="0.9" />
<line x1="398.77" y1="134.94" x2="403.47" y2="134.94" stroke="#000" stroke-width="1.45" />
<line x1="406.17" y1="118.87" x2="406.17" y2="130.77" stroke="#484848" stroke-width="1.35" />
<line x1="406.17" y1="139.1" x2="406.17" y2="147.43" stroke="#484848" stroke-width="1.35" />
<rect x="403.82" y="130.77" width="4.7" height="8.33" fill="#E8232A" stroke="#000" stroke-width="0.9" />
<line x1="403.82" y1="134.34" x2="408.52" y2="134.34" stroke="#000" stroke-width="1.45" />
<circle cx="406.17" cy="116.49" r="1.7" fill="#E8232A" stroke="#000" stroke-width="0.5"/>
<circle cx="406.17" cy="114.11" r="1.7" fill="#E8232A" stroke="#000" stroke-width="0.5"/>
<circle cx="406.17" cy="112.92" r="1.7" fill="#E8232A" stroke="#000" stroke-width="0.5"/>
<line x1="414.69" y1="81.98" x2="414.69" y2="117.68" stroke="#484848" stroke-width="1.35" />
<line x1="414.69" y1="143.86" x2="414.69" y2="151" stroke="#484848" stroke-width="1.35" />
<rect x="412.34" y="117.68" width="4.7" height="26.18" fill="#4A9D6C" stroke="#000" stroke-width="0.9" />
<line x1="412.34" y1="135.53" x2="417.04" y2="135.53" stroke="#000" stroke-width="1.45" />
<line x1="419.74" y1="91.5" x2="419.74" y2="122.44" stroke="#484848" stroke-width="1.35" />
<line x1="419.74" y1="145.05" x2="419.74" y2="151" stroke="#484848" stroke-width="1.35" />
<rect x="417.39" y="122.44" width="4.7" height="22.61" fill="#E8232A" stroke="#000" stroke-width="0.9" />
<line x1="417.39" y1="136.72" x2="422.09" y2="136.72" stroke="#000" stroke-width="1.45" />
<circle cx="419.74" cy="84.36" r="1.7" fill="#E8232A" stroke="#000" stroke-width="0.5"/>
<circle cx="419.74" cy="80.79" r="1.7" fill="#E8232A" stroke="#000" stroke-width="0.5"/>
<circle cx="419.74" cy="76.03" r="1.7" fill="#E8232A" stroke="#000" stroke-width="0.5"/>
<circle cx="419.74" cy="71.27" r="1.7" fill="#E8232A" stroke="#000" stroke-width="0.5"/>
<circle cx="419.74" cy="66.51" r="1.7" fill="#E8232A" stroke="#000" stroke-width="0.5"/>
<circle cx="419.74" cy="61.75" r="1.7" fill="#E8232A" stroke="#000" stroke-width="0.5"/>
<circle cx="419.74" cy="53.42" r="1.7" fill="#E8232A" stroke="#000" stroke-width="0.5"/>
<line x1="428.26" y1="128.39" x2="428.26" y2="134.94" stroke="#484848" stroke-width="1.35" />
<line x1="428.26" y1="142.67" x2="428.26" y2="149.81" stroke="#484848" stroke-width="1.35" />
<rect x="425.91" y="134.94" width="4.7" height="7.73" fill="#4A9D6C" stroke="#000" stroke-width="0.9" />
<line x1="425.91" y1="137.91" x2="430.61" y2="137.91" stroke="#000" stroke-width="1.45" />
<line x1="433.31" y1="124.82" x2="433.31" y2="133.15" stroke="#484848" stroke-width="1.35" />
<line x1="433.31" y1="140.29" x2="433.31" y2="147.43" stroke="#484848" stroke-width="1.35" />
<rect x="430.96" y="133.15" width="4.7" height="7.14" fill="#E8232A" stroke="#000" stroke-width="0.9" />
<line x1="430.96" y1="136.12" x2="435.66" y2="136.12" stroke="#000" stroke-width="1.45" />
<circle cx="433.31" cy="121.25" r="1.7" fill="#E8232A" stroke="#000" stroke-width="0.5"/>
<circle cx="433.31" cy="118.87" r="1.7" fill="#E8232A" stroke="#000" stroke-width="0.5"/>
<circle cx="433.31" cy="116.49" r="1.7" fill="#E8232A" stroke="#000" stroke-width="0.5"/>
<line x1="441.83" y1="123.63" x2="441.83" y2="134.34" stroke="#484848" stroke-width="1.35" />
<line x1="441.83" y1="145.05" x2="441.83" y2="151" stroke="#484848" stroke-width="1.35" />
<rect x="439.48" y="134.34" width="4.7" height="10.71" fill="#4A9D6C" stroke="#000" stroke-width="0.9" />
<line x1="439.48" y1="140.29" x2="444.18" y2="140.29" stroke="#000" stroke-width="1.45" />
<circle cx="441.83" cy="112.92" r="1.7" fill="#4A9D6C" stroke="#000" stroke-width="0.5"/>
<circle cx="441.83" cy="109.35" r="1.7" fill="#4A9D6C" stroke="#000" stroke-width="0.5"/>
<circle cx="441.83" cy="104.59" r="1.7" fill="#4A9D6C" stroke="#000" stroke-width="0.5"/>
<circle cx="441.83" cy="99.83" r="1.7" fill="#4A9D6C" stroke="#000" stroke-width="0.5"/>
<circle cx="441.83" cy="92.69" r="1.7" fill="#4A9D6C" stroke="#000" stroke-width="0.5"/>
<line x1="446.88" y1="91.5" x2="446.88" y2="122.44" stroke="#484848" stroke-width="1.35" />
<line x1="446.88" y1="145.05" x2="446.88" y2="151" stroke="#484848" stroke-width="1.35" />
<rect x="444.53" y="122.44" width="4.7" height="22.61" fill="#E8232A" stroke="#000" stroke-width="0.9" />
<line x1="444.53" y1="139.69" x2="449.23" y2="139.69" stroke="#000" stroke-width="1.45" />
<circle cx="446.88" cy="90.31" r="1.7" fill="#E8232A" stroke="#000" stroke-width="0.5"/>
<circle cx="446.88" cy="86.74" r="1.7" fill="#E8232A" stroke="#000" stroke-width="0.5"/>
<circle cx="446.88" cy="83.17" r="1.7" fill="#E8232A" stroke="#000" stroke-width="0.5"/>
<circle cx="446.88" cy="79.6" r="1.7" fill="#E8232A" stroke="#000" stroke-width="0.5"/>
<circle cx="446.88" cy="76.03" r="1.7" fill="#E8232A" stroke="#000" stroke-width="0.5"/>
<circle cx="446.88" cy="71.27" r="1.7" fill="#E8232A" stroke="#000" stroke-width="0.5"/>
<circle cx="446.88" cy="32" r="1.7" fill="#E8232A" stroke="#000" stroke-width="0.5"/>
<line x1="455.4" y1="127.8" x2="455.4" y2="137.31" stroke="#484848" stroke-width="1.35" />
<line x1="455.4" y1="145.65" x2="455.4" y2="151" stroke="#484848" stroke-width="1.35" />
<rect x="453.05" y="137.31" width="4.7" height="8.33" fill="#4A9D6C" stroke="#000" stroke-width="0.9" />
<line x1="453.05" y1="143.03" x2="457.75" y2="143.03" stroke="#000" stroke-width="1.45" />
<circle cx="455.4" cy="114.11" r="1.7" fill="#4A9D6C" stroke="#000" stroke-width="0.5"/>
<circle cx="455.4" cy="111.73" r="1.7" fill="#4A9D6C" stroke="#000" stroke-width="0.5"/>
<circle cx="455.4" cy="104.59" r="1.7" fill="#4A9D6C" stroke="#000" stroke-width="0.5"/>
<line x1="460.45" y1="124.82" x2="460.45" y2="137.31" stroke="#484848" stroke-width="1.35" />
<line x1="460.45" y1="145.65" x2="460.45" y2="151" stroke="#484848" stroke-width="1.35" />
<rect x="458.1" y="137.31" width="4.7" height="8.33" fill="#E8232A" stroke="#000" stroke-width="0.9" />
<line x1="458.1" y1="142.67" x2="462.8" y2="142.67" stroke="#000" stroke-width="1.45" />
<circle cx="460.45" cy="123.63" r="1.7" fill="#E8232A" stroke="#000" stroke-width="0.5"/>
<circle cx="460.45" cy="121.25" r="1.7" fill="#E8232A" stroke="#000" stroke-width="0.5"/>
<circle cx="460.45" cy="115.3" r="1.7" fill="#E8232A" stroke="#000" stroke-width="0.5"/>
<circle cx="460.45" cy="94.47" r="1.7" fill="#E8232A" stroke="#000" stroke-width="0.5"/>
<line x1="468.97" y1="130.77" x2="468.97" y2="139.1" stroke="#484848" stroke-width="1.35" />
<line x1="468.97" y1="146.24" x2="468.97" y2="151" stroke="#484848" stroke-width="1.35" />
<rect x="466.62" y="139.1" width="4.7" height="7.14" fill="#4A9D6C" stroke="#000" stroke-width="0.9" />
<line x1="466.62" y1="142.67" x2="471.32" y2="142.67" stroke="#000" stroke-width="1.45" />
<circle cx="468.97" cy="111.73" r="1.7" fill="#4A9D6C" stroke="#000" stroke-width="0.5"/>
<line x1="474.02" y1="121.61" x2="474.02" y2="135.53" stroke="#484848" stroke-width="1.35" />
<line x1="474.02" y1="146.24" x2="474.02" y2="151" stroke="#484848" stroke-width="1.35" />
<rect x="471.67" y="135.53" width="4.7" height="10.71" fill="#E8232A" stroke="#000" stroke-width="0.9" />
<line x1="471.67" y1="142.67" x2="476.37" y2="142.67" stroke="#000" stroke-width="1.45" />
<circle cx="474.02" cy="118.87" r="1.7" fill="#E8232A" stroke="#000" stroke-width="0.5"/>
<circle cx="474.02" cy="115.3" r="1.7" fill="#E8232A" stroke="#000" stroke-width="0.5"/>
<circle cx="474.02" cy="105.78" r="1.7" fill="#E8232A" stroke="#000" stroke-width="0.5"/>
<line x1="482.54" y1="129.58" x2="482.54" y2="139.1" stroke="#484848" stroke-width="1.35" />
<line x1="482.54" y1="147.43" x2="482.54" y2="151" stroke="#484848" stroke-width="1.35" />
<rect x="480.19" y="139.1" width="4.7" height="8.33" fill="#4A9D6C" stroke="#000" stroke-width="0.9" />
<line x1="480.19" y1="142.67" x2="484.89" y2="142.67" stroke="#000" stroke-width="1.45" />
<line x1="487.59" y1="128.39" x2="487.59" y2="139.1" stroke="#484848" stroke-width="1.35" />
<line x1="487.59" y1="147.43" x2="487.59" y2="151" stroke="#484848" stroke-width="1.35" />
<rect x="485.24" y="139.1" width="4.7" height="8.33" fill="#E8232A" stroke="#000" stroke-width="0.9" />
<line x1="485.24" y1="142.67" x2="489.94" y2="142.67" stroke="#000" stroke-width="1.45" />
<circle cx="487.59" cy="127.2" r="1.7" fill="#E8232A" stroke="#000" stroke-width="0.5"/>
<circle cx="487.59" cy="126.01" r="1.7" fill="#E8232A" stroke="#000" stroke-width="0.5"/>
<circle cx="487.59" cy="124.82" r="1.7" fill="#E8232A" stroke="#000" stroke-width="0.5"/>
<line x1="496.11" y1="122.44" x2="496.11" y2="135.89" stroke="#484848" stroke-width="1.35" />
<line x1="496.11" y1="148.03" x2="496.11" y2="151" stroke="#484848" stroke-width="1.35" />
<rect x="493.76" y="135.89" width="4.7" height="12.14" fill="#4A9D6C" stroke="#000" stroke-width="0.9" />
<line x1="493.76" y1="142.07" x2="498.46" y2="142.07" stroke="#000" stroke-width="1.45" />
<circle cx="496.11" cy="117.68" r="1.7" fill="#4A9D6C" stroke="#000" stroke-width="0.5"/>
<circle cx="496.11" cy="104.59" r="1.7" fill="#4A9D6C" stroke="#000" stroke-width="0.5"/>
<circle cx="496.11" cy="75.32" r="1.7" fill="#4A9D6C" stroke="#000" stroke-width="0.5"/>
<line x1="501.16" y1="123.63" x2="501.16" y2="137.91" stroke="#484848" stroke-width="1.35" />
<line x1="501.16" y1="148.03" x2="501.16" y2="151" stroke="#484848" stroke-width="1.35" />
<rect x="498.81" y="137.91" width="4.7" height="10.12" fill="#E8232A" stroke="#000" stroke-width="0.9" />
<line x1="498.81" y1="143.03" x2="503.51" y2="143.03" stroke="#000" stroke-width="1.45" />
<circle cx="501.16" cy="122.44" r="1.7" fill="#E8232A" stroke="#000" stroke-width="0.5"/>
<circle cx="501.16" cy="120.06" r="1.7" fill="#E8232A" stroke="#000" stroke-width="0.5"/>
<circle cx="501.16" cy="117.68" r="1.7" fill="#E8232A" stroke="#000" stroke-width="0.5"/>
<circle cx="501.16" cy="115.3" r="1.7" fill="#E8232A" stroke="#000" stroke-width="0.5"/>
<circle cx="501.16" cy="112.92" r="1.7" fill="#E8232A" stroke="#000" stroke-width="0.5"/>
<circle cx="501.16" cy="108.16" r="1.7" fill="#E8232A" stroke="#000" stroke-width="0.5"/>
<circle cx="501.16" cy="103.4" r="1.7" fill="#E8232A" stroke="#000" stroke-width="0.5"/>
<circle cx="501.16" cy="93.05" r="1.7" fill="#E8232A" stroke="#000" stroke-width="0.5"/>
<line x1="509.68" y1="131.37" x2="509.68" y2="139.1" stroke="#484848" stroke-width="1.35" />
<line x1="509.68" y1="147.43" x2="509.68" y2="149.81" stroke="#484848" stroke-width="1.35" />
<rect x="507.33" y="139.1" width="4.7" height="8.33" fill="#4A9D6C" stroke="#000" stroke-width="0.9" />
<line x1="507.33" y1="143.86" x2="512.03" y2="143.86" stroke="#000" stroke-width="1.45" />
<circle cx="509.68" cy="115.3" r="1.7" fill="#4A9D6C" stroke="#000" stroke-width="0.5"/>
<line x1="514.73" y1="131.96" x2="514.73" y2="142.31" stroke="#484848" stroke-width="1.35" />
<line x1="514.73" y1="148.62" x2="514.73" y2="151" stroke="#484848" stroke-width="1.35" />
<rect x="512.38" y="142.31" width="4.7" height="6.31" fill="#E8232A" stroke="#000" stroke-width="0.9" />
<line x1="512.38" y1="145.65" x2="517.08" y2="145.65" stroke="#000" stroke-width="1.45" />
<circle cx="514.73" cy="130.77" r="1.7" fill="#E8232A" stroke="#000" stroke-width="0.5"/>
<circle cx="514.73" cy="128.39" r="1.7" fill="#E8232A" stroke="#000" stroke-width="0.5"/>
<circle cx="514.73" cy="126.01" r="1.7" fill="#E8232A" stroke="#000" stroke-width="0.5"/>
<circle cx="514.73" cy="123.63" r="1.7" fill="#E8232A" stroke="#000" stroke-width="0.5"/>
<line x1="523.25" y1="136.72" x2="523.25" y2="143.03" stroke="#484848" stroke-width="1.35" />
<line x1="523.25" y1="148.03" x2="523.25" y2="151" stroke="#484848" stroke-width="1.35" />
<rect x="520.9" y="143.03" width="4.7" height="5" fill="#4A9D6C" stroke="#000" stroke-width="0.9" />
<line x1="520.9" y1="145.65" x2="525.6" y2="145.65" stroke="#000" stroke-width="1.45" />
<circle cx="523.25" cy="135.53" r="1.7" fill="#4A9D6C" stroke="#000" stroke-width="0.5"/>
<circle cx="523.25" cy="129.58" r="1.7" fill="#4A9D6C" stroke="#000" stroke-width="0.5"/>
<line x1="528.3" y1="134.34" x2="528.3" y2="143.03" stroke="#484848" stroke-width="1.35" />
<line x1="528.3" y1="150.64" x2="528.3" y2="151" stroke="#484848" stroke-width="1.35" />
<rect x="525.95" y="143.03" width="4.7" height="7.62" fill="#E8232A" stroke="#000" stroke-width="0.9" />
<line x1="525.95" y1="146.84" x2="530.65" y2="146.84" stroke="#000" stroke-width="1.45" />
<circle cx="528.3" cy="131.96" r="1.7" fill="#E8232A" stroke="#000" stroke-width="0.5"/>
<circle cx="528.3" cy="129.58" r="1.7" fill="#E8232A" stroke="#000" stroke-width="0.5"/>
<circle cx="528.3" cy="127.2" r="1.7" fill="#E8232A" stroke="#000" stroke-width="0.5"/>
<circle cx="528.3" cy="124.82" r="1.7" fill="#E8232A" stroke="#000" stroke-width="0.5"/>
<line x1="536.82" y1="139.1" x2="536.82" y2="144.81" stroke="#484848" stroke-width="1.35" />
<line x1="536.82" y1="151" x2="536.82" y2="151" stroke="#484848" stroke-width="1.35" />
<rect x="534.47" y="144.81" width="4.7" height="6.19" fill="#4A9D6C" stroke="#000" stroke-width="0.9" />
<line x1="534.47" y1="147.43" x2="539.17" y2="147.43" stroke="#000" stroke-width="1.45" />
<circle cx="536.82" cy="132.32" r="1.7" fill="#4A9D6C" stroke="#000" stroke-width="0.5"/>
<line x1="541.87" y1="134.34" x2="541.87" y2="143.03" stroke="#484848" stroke-width="1.35" />
<line x1="541.87" y1="151" x2="541.87" y2="151" stroke="#484848" stroke-width="1.35" />
<rect x="539.52" y="143.03" width="4.7" height="7.97" fill="#E8232A" stroke="#000" stroke-width="0.9" />
<line x1="539.52" y1="145.65" x2="544.22" y2="145.65" stroke="#000" stroke-width="1.45" />
<circle cx="541.87" cy="133.15" r="1.7" fill="#E8232A" stroke="#000" stroke-width="0.5"/>
<circle cx="541.87" cy="130.77" r="1.7" fill="#E8232A" stroke="#000" stroke-width="0.5"/>
<circle cx="541.87" cy="128.39" r="1.7" fill="#E8232A" stroke="#000" stroke-width="0.5"/>
<circle cx="541.87" cy="124.82" r="1.7" fill="#E8232A" stroke="#000" stroke-width="0.5"/>
<circle cx="541.87" cy="121.25" r="1.7" fill="#E8232A" stroke="#000" stroke-width="0.5"/>
<circle cx="541.87" cy="117.68" r="1.7" fill="#E8232A" stroke="#000" stroke-width="0.5"/>
<line x1="550.39" y1="134.34" x2="550.39" y2="143.03" stroke="#484848" stroke-width="1.35" />
<line x1="550.39" y1="151" x2="550.39" y2="151" stroke="#484848" stroke-width="1.35" />
<rect x="548.04" y="143.03" width="4.7" height="7.97" fill="#4A9D6C" stroke="#000" stroke-width="0.9" />
<line x1="548.04" y1="147.43" x2="552.74" y2="147.43" stroke="#000" stroke-width="1.45" />
<circle cx="550.39" cy="130.77" r="1.7" fill="#4A9D6C" stroke="#000" stroke-width="0.5"/>
<circle cx="550.39" cy="128.39" r="1.7" fill="#4A9D6C" stroke="#000" stroke-width="0.5"/>
<circle cx="550.39" cy="108.75" r="1.7" fill="#4A9D6C" stroke="#000" stroke-width="0.5"/>
<line x1="555.44" y1="130.77" x2="555.44" y2="143.03" stroke="#484848" stroke-width="1.35" />
<line x1="555.44" y1="151" x2="555.44" y2="151" stroke="#484848" stroke-width="1.35" />
<rect x="553.09" y="143.03" width="4.7" height="7.97" fill="#E8232A" stroke="#000" stroke-width="0.9" />
<line x1="553.09" y1="146.84" x2="557.79" y2="146.84" stroke="#000" stroke-width="1.45" />
<circle cx="555.44" cy="128.39" r="1.7" fill="#E8232A" stroke="#000" stroke-width="0.5"/>
<circle cx="555.44" cy="115.3" r="1.7" fill="#E8232A" stroke="#000" stroke-width="0.5"/>
<circle cx="555.44" cy="112.92" r="1.7" fill="#E8232A" stroke="#000" stroke-width="0.5"/>
<circle cx="555.44" cy="98.64" r="1.7" fill="#E8232A" stroke="#000" stroke-width="0.5"/>
<line x1="563.96" y1="143.86" x2="563.96" y2="147.43" stroke="#484848" stroke-width="1.35" />
<line x1="563.96" y1="151" x2="563.96" y2="151" stroke="#484848" stroke-width="1.35" />
<rect x="561.61" y="147.43" width="4.7" height="3.57" fill="#4A9D6C" stroke="#000" stroke-width="0.9" />
<line x1="561.61" y1="150.41" x2="566.31" y2="150.41" stroke="#000" stroke-width="1.45" />
<line x1="569.01" y1="145.05" x2="569.01" y2="147.79" stroke="#484848" stroke-width="1.35" />
<line x1="569.01" y1="151" x2="569.01" y2="151" stroke="#484848" stroke-width="1.35" />
<rect x="566.66" y="147.79" width="4.7" height="3.21" fill="#E8232A" stroke="#000" stroke-width="0.9" />
<line x1="566.66" y1="150.41" x2="571.36" y2="150.41" stroke="#000" stroke-width="1.45" />
<circle cx="569.01" cy="143.86" r="1.7" fill="#E8232A" stroke="#000" stroke-width="0.5"/>
<circle cx="569.01" cy="141.48" r="1.7" fill="#E8232A" stroke="#000" stroke-width="0.5"/>
<circle cx="569.01" cy="139.1" r="1.7" fill="#E8232A" stroke="#000" stroke-width="0.5"/>
<circle cx="569.01" cy="136.72" r="1.7" fill="#E8232A" stroke="#000" stroke-width="0.5"/>
<circle cx="569.01" cy="131.96" r="1.7" fill="#E8232A" stroke="#000" stroke-width="0.5"/>
<line x1="577.53" y1="143.86" x2="577.53" y2="147.43" stroke="#484848" stroke-width="1.35" />
<line x1="577.53" y1="151" x2="577.53" y2="151" stroke="#484848" stroke-width="1.35" />
<rect x="575.18" y="147.43" width="4.7" height="3.57" fill="#4A9D6C" stroke="#000" stroke-width="0.9" />
<line x1="575.18" y1="150.41" x2="579.88" y2="150.41" stroke="#000" stroke-width="1.45" />
<circle cx="577.53" cy="139.1" r="1.7" fill="#4A9D6C" stroke="#000" stroke-width="0.5"/>
<circle cx="577.53" cy="136.72" r="1.7" fill="#4A9D6C" stroke="#000" stroke-width="0.5"/>
<circle cx="577.53" cy="134.34" r="1.7" fill="#4A9D6C" stroke="#000" stroke-width="0.5"/>
<circle cx="577.53" cy="133.15" r="1.7" fill="#4A9D6C" stroke="#000" stroke-width="0.5"/>
<circle cx="577.53" cy="122.44" r="1.7" fill="#4A9D6C" stroke="#000" stroke-width="0.5"/>
<circle cx="577.53" cy="118.87" r="1.7" fill="#4A9D6C" stroke="#000" stroke-width="0.5"/>
<circle cx="577.53" cy="114.11" r="1.7" fill="#4A9D6C" stroke="#000" stroke-width="0.5"/>
<circle cx="577.53" cy="98.64" r="1.7" fill="#4A9D6C" stroke="#000" stroke-width="0.5"/>
<line x1="582.58" y1="146.24" x2="582.58" y2="148.62" stroke="#484848" stroke-width="1.35" />
<line x1="582.58" y1="151" x2="582.58" y2="151" stroke="#484848" stroke-width="1.35" />
<rect x="580.23" y="148.62" width="4.7" height="2.38" fill="#E8232A" stroke="#000" stroke-width="0.9" />
<line x1="580.23" y1="150.41" x2="584.93" y2="150.41" stroke="#000" stroke-width="1.45" />
<circle cx="582.58" cy="145.05" r="1.7" fill="#E8232A" stroke="#000" stroke-width="0.5"/>
<circle cx="582.58" cy="142.67" r="1.7" fill="#E8232A" stroke="#000" stroke-width="0.5"/>
<circle cx="582.58" cy="140.29" r="1.7" fill="#E8232A" stroke="#000" stroke-width="0.5"/>
<circle cx="582.58" cy="137.91" r="1.7" fill="#E8232A" stroke="#000" stroke-width="0.5"/>
<circle cx="582.58" cy="135.53" r="1.7" fill="#E8232A" stroke="#000" stroke-width="0.5"/>
<circle cx="582.58" cy="133.15" r="1.7" fill="#E8232A" stroke="#000" stroke-width="0.5"/>
<circle cx="582.58" cy="127.2" r="1.7" fill="#E8232A" stroke="#000" stroke-width="0.5"/>
<line x1="591.1" y1="150.64" x2="591.1" y2="150.64" stroke="#484848" stroke-width="1.35" />
<line x1="591.1" y1="151" x2="591.1" y2="151" stroke="#484848" stroke-width="1.35" />
<rect x="588.75" y="150.64" width="4.7" height="0.6" fill="#4A9D6C" stroke="#000" stroke-width="0.9" />
<line x1="588.75" y1="151" x2="593.45" y2="151" stroke="#000" stroke-width="1.45" />
<line x1="596.15" y1="150.64" x2="596.15" y2="150.64" stroke="#484848" stroke-width="1.35" />
<line x1="596.15" y1="151" x2="596.15" y2="151" stroke="#484848" stroke-width="1.35" />
<rect x="593.8" y="150.64" width="4.7" height="0.6" fill="#E8232A" stroke="#000" stroke-width="0.9" />
<line x1="593.8" y1="151" x2="598.5" y2="151" stroke="#000" stroke-width="1.45" />
<line x1="604.67" y1="148.62" x2="604.67" y2="149.22" stroke="#484848" stroke-width="1.35" />
<line x1="604.67" y1="151" x2="604.67" y2="151" stroke="#484848" stroke-width="1.35" />
<rect x="602.32" y="149.22" width="4.7" height="1.78" fill="#4A9D6C" stroke="#000" stroke-width="0.9" />
<line x1="602.32" y1="150.64" x2="607.02" y2="150.64" stroke="#000" stroke-width="1.45" />
<circle cx="604.67" cy="147.43" r="1.7" fill="#4A9D6C" stroke="#000" stroke-width="0.5"/>
<circle cx="604.67" cy="145.05" r="1.7" fill="#4A9D6C" stroke="#000" stroke-width="0.5"/>
<circle cx="604.67" cy="142.67" r="1.7" fill="#4A9D6C" stroke="#000" stroke-width="0.5"/>
<line x1="609.72" y1="146.24" x2="609.72" y2="148.38" stroke="#484848" stroke-width="1.35" />
<line x1="609.72" y1="151" x2="609.72" y2="151" stroke="#484848" stroke-width="1.35" />
<rect x="607.37" y="148.38" width="4.7" height="2.62" fill="#E8232A" stroke="#000" stroke-width="0.9" />
<line x1="607.37" y1="150.41" x2="612.07" y2="150.41" stroke="#000" stroke-width="1.45" />
<circle cx="609.72" cy="145.05" r="1.7" fill="#E8232A" stroke="#000" stroke-width="0.5"/>
<circle cx="609.72" cy="142.67" r="1.7" fill="#E8232A" stroke="#000" stroke-width="0.5"/>
<circle cx="609.72" cy="140.29" r="1.7" fill="#E8232A" stroke="#000" stroke-width="0.5"/>
<circle cx="609.72" cy="137.91" r="1.7" fill="#E8232A" stroke="#000" stroke-width="0.5"/>
<circle cx="609.72" cy="135.53" r="1.7" fill="#E8232A" stroke="#000" stroke-width="0.5"/>
<circle cx="609.72" cy="130.77" r="1.7" fill="#E8232A" stroke="#000" stroke-width="0.5"/>
<circle cx="609.72" cy="127.2" r="1.7" fill="#E8232A" stroke="#000" stroke-width="0.5"/>
<circle cx="609.72" cy="107.45" r="1.7" fill="#E8232A" stroke="#000" stroke-width="0.5"/>
<line x1="618.24" y1="149.81" x2="618.24" y2="150.41" stroke="#484848" stroke-width="1.35" />
<line x1="618.24" y1="151" x2="618.24" y2="151" stroke="#484848" stroke-width="1.35" />
<rect x="615.89" y="150.41" width="4.7" height="0.6" fill="#4A9D6C" stroke="#000" stroke-width="0.9" />
<line x1="615.89" y1="151" x2="620.59" y2="151" stroke="#000" stroke-width="1.45" />
<circle cx="618.24" cy="149.22" r="1.7" fill="#4A9D6C" stroke="#000" stroke-width="0.5"/>
<circle cx="618.24" cy="147.43" r="1.7" fill="#4A9D6C" stroke="#000" stroke-width="0.5"/>
<circle cx="618.24" cy="145.05" r="1.7" fill="#4A9D6C" stroke="#000" stroke-width="0.5"/>
<circle cx="618.24" cy="142.67" r="1.7" fill="#4A9D6C" stroke="#000" stroke-width="0.5"/>
<circle cx="618.24" cy="141.48" r="1.7" fill="#4A9D6C" stroke="#000" stroke-width="0.5"/>
<line x1="623.29" y1="149.81" x2="623.29" y2="150.41" stroke="#484848" stroke-width="1.35" />
<line x1="623.29" y1="151" x2="623.29" y2="151" stroke="#484848" stroke-width="1.35" />
<rect x="620.94" y="150.41" width="4.7" height="0.6" fill="#E8232A" stroke="#000" stroke-width="0.9" />
<line x1="620.94" y1="151" x2="625.64" y2="151" stroke="#000" stroke-width="1.45" />
<circle cx="623.29" cy="148.62" r="1.7" fill="#E8232A" stroke="#000" stroke-width="0.5"/>
<circle cx="623.29" cy="146.24" r="1.7" fill="#E8232A" stroke="#000" stroke-width="0.5"/>
<circle cx="623.29" cy="143.86" r="1.7" fill="#E8232A" stroke="#000" stroke-width="0.5"/>
<circle cx="623.29" cy="141.48" r="1.7" fill="#E8232A" stroke="#000" stroke-width="0.5"/>
<circle cx="623.29" cy="139.1" r="1.7" fill="#E8232A" stroke="#000" stroke-width="0.5"/>
<circle cx="623.29" cy="137.91" r="1.7" fill="#E8232A" stroke="#000" stroke-width="0.5"/>
<line x1="631.81" y1="149.81" x2="631.81" y2="150.41" stroke="#484848" stroke-width="1.35" />
<line x1="631.81" y1="151" x2="631.81" y2="151" stroke="#484848" stroke-width="1.35" />
<rect x="629.46" y="150.41" width="4.7" height="0.6" fill="#4A9D6C" stroke="#000" stroke-width="0.9" />
<line x1="629.46" y1="151" x2="634.16" y2="151" stroke="#000" stroke-width="1.45" />
<circle cx="631.81" cy="147.43" r="1.7" fill="#4A9D6C" stroke="#000" stroke-width="0.5"/>
<circle cx="631.81" cy="145.05" r="1.7" fill="#4A9D6C" stroke="#000" stroke-width="0.5"/>
<circle cx="631.81" cy="133.15" r="1.7" fill="#4A9D6C" stroke="#000" stroke-width="0.5"/>
<line x1="636.86" y1="149.81" x2="636.86" y2="150.41" stroke="#484848" stroke-width="1.35" />
<line x1="636.86" y1="151" x2="636.86" y2="151" stroke="#484848" stroke-width="1.35" />
<rect x="634.51" y="150.41" width="4.7" height="0.6" fill="#E8232A" stroke="#000" stroke-width="0.9" />
<line x1="634.51" y1="151" x2="639.21" y2="151" stroke="#000" stroke-width="1.45" />
<circle cx="636.86" cy="148.62" r="1.7" fill="#E8232A" stroke="#000" stroke-width="0.5"/>
<circle cx="636.86" cy="146.24" r="1.7" fill="#E8232A" stroke="#000" stroke-width="0.5"/>
<circle cx="636.86" cy="143.86" r="1.7" fill="#E8232A" stroke="#000" stroke-width="0.5"/>
<circle cx="636.86" cy="141.48" r="1.7" fill="#E8232A" stroke="#000" stroke-width="0.5"/>
<circle cx="636.86" cy="133.86" r="1.7" fill="#E8232A" stroke="#000" stroke-width="0.5"/>
<line x1="645.38" y1="146.24" x2="645.38" y2="148.38" stroke="#484848" stroke-width="1.35" />
<line x1="645.38" y1="151" x2="645.38" y2="151" stroke="#484848" stroke-width="1.35" />
<rect x="643.03" y="148.38" width="4.7" height="2.62" fill="#4A9D6C" stroke="#000" stroke-width="0.9" />
<line x1="643.03" y1="150.41" x2="647.73" y2="150.41" stroke="#000" stroke-width="1.45" />
<circle cx="645.38" cy="145.05" r="1.7" fill="#4A9D6C" stroke="#000" stroke-width="0.5"/>
<circle cx="645.38" cy="142.67" r="1.7" fill="#4A9D6C" stroke="#000" stroke-width="0.5"/>
<circle cx="645.38" cy="140.29" r="1.7" fill="#4A9D6C" stroke="#000" stroke-width="0.5"/>
<circle cx="645.38" cy="137.91" r="1.7" fill="#4A9D6C" stroke="#000" stroke-width="0.5"/>
<circle cx="645.38" cy="135.53" r="1.7" fill="#4A9D6C" stroke="#000" stroke-width="0.5"/>
<line x1="650.43" y1="146.24" x2="650.43" y2="148.38" stroke="#484848" stroke-width="1.35" />
<line x1="650.43" y1="151" x2="650.43" y2="151" stroke="#484848" stroke-width="1.35" />
<rect x="648.08" y="148.38" width="4.7" height="2.62" fill="#E8232A" stroke="#000" stroke-width="0.9" />
<line x1="648.08" y1="150.41" x2="652.78" y2="150.41" stroke="#000" stroke-width="1.45" />
<circle cx="650.43" cy="145.05" r="1.7" fill="#E8232A" stroke="#000" stroke-width="0.5"/>
<circle cx="650.43" cy="142.67" r="1.7" fill="#E8232A" stroke="#000" stroke-width="0.5"/>
<circle cx="650.43" cy="140.29" r="1.7" fill="#E8232A" stroke="#000" stroke-width="0.5"/>
<circle cx="650.43" cy="137.91" r="1.7" fill="#E8232A" stroke="#000" stroke-width="0.5"/>
<circle cx="650.43" cy="135.53" r="1.7" fill="#E8232A" stroke="#000" stroke-width="0.5"/>
<circle cx="650.43" cy="133.15" r="1.7" fill="#E8232A" stroke="#000" stroke-width="0.5"/>
<circle cx="650.43" cy="130.77" r="1.7" fill="#E8232A" stroke="#000" stroke-width="0.5"/>
<circle cx="650.43" cy="123.63" r="1.7" fill="#E8232A" stroke="#000" stroke-width="0.5"/>
<line x1="658.95" y1="149.81" x2="658.95" y2="150.41" stroke="#484848" stroke-width="1.35" />
<line x1="658.95" y1="151" x2="658.95" y2="151" stroke="#484848" stroke-width="1.35" />
<rect x="656.6" y="150.41" width="4.7" height="0.6" fill="#4A9D6C" stroke="#000" stroke-width="0.9" />
<line x1="656.6" y1="151" x2="661.3" y2="151" stroke="#000" stroke-width="1.45" />
<circle cx="658.95" cy="146.24" r="1.7" fill="#4A9D6C" stroke="#000" stroke-width="0.5"/>
<circle cx="658.95" cy="143.86" r="1.7" fill="#4A9D6C" stroke="#000" stroke-width="0.5"/>
<circle cx="658.95" cy="134.34" r="1.7" fill="#4A9D6C" stroke="#000" stroke-width="0.5"/>
<circle cx="658.95" cy="127.2" r="1.7" fill="#4A9D6C" stroke="#000" stroke-width="0.5"/>
<circle cx="658.95" cy="120.06" r="1.7" fill="#4A9D6C" stroke="#000" stroke-width="0.5"/>
<line x1="664" y1="149.81" x2="664" y2="150.41" stroke="#484848" stroke-width="1.35" />
<line x1="664" y1="151" x2="664" y2="151" stroke="#484848" stroke-width="1.35" />
<rect x="661.65" y="150.41" width="4.7" height="0.6" fill="#E8232A" stroke="#000" stroke-width="0.9" />
<line x1="661.65" y1="151" x2="666.35" y2="151" stroke="#000" stroke-width="1.45" />
<circle cx="664" cy="148.62" r="1.7" fill="#E8232A" stroke="#000" stroke-width="0.5"/>
<circle cx="664" cy="145.84" r="1.7" fill="#E8232A" stroke="#000" stroke-width="0.5"/>
<circle cx="664" cy="143.07" r="1.7" fill="#E8232A" stroke="#000" stroke-width="0.5"/>
<circle cx="664" cy="140.29" r="1.7" fill="#E8232A" stroke="#000" stroke-width="0.5"/>
<circle cx="664" cy="137.51" r="1.7" fill="#E8232A" stroke="#000" stroke-width="0.5"/>
<circle cx="664" cy="134.74" r="1.7" fill="#E8232A" stroke="#000" stroke-width="0.5"/>
<circle cx="664" cy="131.96" r="1.7" fill="#E8232A" stroke="#000" stroke-width="0.5"/>
<circle cx="664" cy="129.18" r="1.7" fill="#E8232A" stroke="#000" stroke-width="0.5"/>
<circle cx="664" cy="126.41" r="1.7" fill="#E8232A" stroke="#000" stroke-width="0.5"/>
<circle cx="664" cy="123.63" r="1.7" fill="#E8232A" stroke="#000" stroke-width="0.5"/>
<circle cx="664" cy="118.87" r="1.7" fill="#E8232A" stroke="#000" stroke-width="0.5"/>
<circle cx="664" cy="115.3" r="1.7" fill="#E8232A" stroke="#000" stroke-width="0.5"/>
<circle cx="664" cy="112.92" r="1.7" fill="#E8232A" stroke="#000" stroke-width="0.5"/>
<circle cx="664" cy="110.54" r="1.7" fill="#E8232A" stroke="#000" stroke-width="0.5"/>
<circle cx="664" cy="91.5" r="1.7" fill="#E8232A" stroke="#000" stroke-width="0.5"/>
<line x1="672.52" y1="146.24" x2="672.52" y2="148.38" stroke="#484848" stroke-width="1.35" />
<line x1="672.52" y1="151" x2="672.52" y2="151" stroke="#484848" stroke-width="1.35" />
<rect x="670.17" y="148.38" width="4.7" height="2.62" fill="#4A9D6C" stroke="#000" stroke-width="0.9" />
<line x1="670.17" y1="150.41" x2="674.87" y2="150.41" stroke="#000" stroke-width="1.45" />
<circle cx="672.52" cy="145.05" r="1.7" fill="#4A9D6C" stroke="#000" stroke-width="0.5"/>
<circle cx="672.52" cy="142.67" r="1.7" fill="#4A9D6C" stroke="#000" stroke-width="0.5"/>
<circle cx="672.52" cy="140.29" r="1.7" fill="#4A9D6C" stroke="#000" stroke-width="0.5"/>
<circle cx="672.52" cy="137.91" r="1.7" fill="#4A9D6C" stroke="#000" stroke-width="0.5"/>
<circle cx="672.52" cy="131.13" r="1.7" fill="#4A9D6C" stroke="#000" stroke-width="0.5"/>
<line x1="677.57" y1="146.24" x2="677.57" y2="148.38" stroke="#484848" stroke-width="1.35" />
<line x1="677.57" y1="151" x2="677.57" y2="151" stroke="#484848" stroke-width="1.35" />
<rect x="675.22" y="148.38" width="4.7" height="2.62" fill="#E8232A" stroke="#000" stroke-width="0.9" />
<line x1="675.22" y1="150.41" x2="679.92" y2="150.41" stroke="#000" stroke-width="1.45" />
<circle cx="677.57" cy="145.05" r="1.7" fill="#E8232A" stroke="#000" stroke-width="0.5"/>
<circle cx="677.57" cy="142.67" r="1.7" fill="#E8232A" stroke="#000" stroke-width="0.5"/>
<circle cx="677.57" cy="140.29" r="1.7" fill="#E8232A" stroke="#000" stroke-width="0.5"/>
<circle cx="677.57" cy="137.91" r="1.7" fill="#E8232A" stroke="#000" stroke-width="0.5"/>
<circle cx="677.57" cy="135.53" r="1.7" fill="#E8232A" stroke="#000" stroke-width="0.5"/>
<circle cx="677.57" cy="133.15" r="1.7" fill="#E8232A" stroke="#000" stroke-width="0.5"/>
<circle cx="677.57" cy="128.99" r="1.7" fill="#E8232A" stroke="#000" stroke-width="0.5"/>
<rect x="381.9" y="26" width="301.2" height="131" fill="none" stroke="#6A6A6A" stroke-width="1" />
<line x1="379.5" y1="151" x2="381.9" y2="151" stroke="#222" stroke-width="1" />
<text x="378.3" y="153.5" font-family="'Liberation Sans', sans-serif" font-size="7.2" fill="#4D4D4D" text-anchor="end">0.00</text>
<line x1="379.5" y1="121.25" x2="381.9" y2="121.25" stroke="#222" stroke-width="1" />
<text x="378.3" y="123.75" font-family="'Liberation Sans', sans-serif" font-size="7.2" fill="#4D4D4D" text-anchor="end">0.25</text>
<line x1="379.5" y1="91.5" x2="381.9" y2="91.5" stroke="#222" stroke-width="1" />
<text x="378.3" y="94" font-family="'Liberation Sans', sans-serif" font-size="7.2" fill="#4D4D4D" text-anchor="end">0.50</text>
<line x1="379.5" y1="61.75" x2="381.9" y2="61.75" stroke="#222" stroke-width="1" />
<text x="378.3" y="64.25" font-family="'Liberation Sans', sans-serif" font-size="7.2" fill="#4D4D4D" text-anchor="end">0.75</text>
<line x1="379.5" y1="32" x2="381.9" y2="32" stroke="#222" stroke-width="1" />
<text x="378.3" y="34.5" font-family="'Liberation Sans', sans-serif" font-size="7.2" fill="#4D4D4D" text-anchor="end">1.00</text>
<line x1="390" y1="157" x2="390" y2="159.4" stroke="#222" stroke-width="1" />
<line x1="403.57" y1="157" x2="403.57" y2="159.4" stroke="#222" stroke-width="1" />
<line x1="417.14" y1="157" x2="417.14" y2="159.4" stroke="#222" stroke-width="1" />
<line x1="430.71" y1="157" x2="430.71" y2="159.4" stroke="#222" stroke-width="1" />
<line x1="444.28" y1="157" x2="444.28" y2="159.4" stroke="#222" stroke-width="1" />
<line x1="457.85" y1="157" x2="457.85" y2="159.4" stroke="#222" stroke-width="1" />
<line x1="471.42" y1="157" x2="471.42" y2="159.4" stroke="#222" stroke-width="1" />
<line x1="484.99" y1="157" x2="484.99" y2="159.4" stroke="#222" stroke-width="1" />
<line x1="498.56" y1="157" x2="498.56" y2="159.4" stroke="#222" stroke-width="1" />
<line x1="512.13" y1="157" x2="512.13" y2="159.4" stroke="#222" stroke-width="1" />
<line x1="525.7" y1="157" x2="525.7" y2="159.4" stroke="#222" stroke-width="1" />
<line x1="539.27" y1="157" x2="539.27" y2="159.4" stroke="#222" stroke-width="1" />
<line x1="552.84" y1="157" x2="552.84" y2="159.4" stroke="#222" stroke-width="1" />
<line x1="566.41" y1="157" x2="566.41" y2="159.4" stroke="#222" stroke-width="1" />
<line x1="579.98" y1="157" x2="579.98" y2="159.4" stroke="#222" stroke-width="1" />
<line x1="593.55" y1="157" x2="593.55" y2="159.4" stroke="#222" stroke-width="1" />
<line x1="607.12" y1="157" x2="607.12" y2="159.4" stroke="#222" stroke-width="1" />
<line x1="620.69" y1="157" x2="620.69" y2="159.4" stroke="#222" stroke-width="1" />
<line x1="634.26" y1="157" x2="634.26" y2="159.4" stroke="#222" stroke-width="1" />
<line x1="647.83" y1="157" x2="647.83" y2="159.4" stroke="#222" stroke-width="1" />
<line x1="661.4" y1="157" x2="661.4" y2="159.4" stroke="#222" stroke-width="1" />
<line x1="674.97" y1="157" x2="674.97" y2="159.4" stroke="#222" stroke-width="1" />
<text x="430.8" y="31.6" font-family="'Liberation Sans', sans-serif" font-size="6.6" fill="#111" text-anchor="middle" letter-spacing="0.5">*</text>
<text x="512" y="31.6" font-family="'Liberation Sans', sans-serif" font-size="6.6" fill="#111" text-anchor="middle" letter-spacing="0.5">**</text>
<text x="526" y="31.6" font-family="'Liberation Sans', sans-serif" font-size="6.6" fill="#111" text-anchor="middle" letter-spacing="0.5">*</text>
<text x="607" y="31.6" font-family="'Liberation Sans', sans-serif" font-size="6.6" fill="#111" text-anchor="middle" letter-spacing="0.5">*</text>
<text x="359.5" y="96" font-family="'Liberation Sans', sans-serif" font-size="9.6" fill="#111" text-anchor="middle" transform="rotate(-90 359.5 96)" textLength="90" lengthAdjust="spacingAndGlyphs">Estimated proportion</text>
<rect x="30.5" y="229.4" width="292.1" height="125.2" fill="#fff"/>
<line x1="30.5" y1="334.85" x2="322.6" y2="334.85" stroke="#F2F2F2" stroke-width="0.6" />
<line x1="30.5" y1="306.35" x2="322.6" y2="306.35" stroke="#F2F2F2" stroke-width="0.6" />
<line x1="30.5" y1="277.85" x2="322.6" y2="277.85" stroke="#F2F2F2" stroke-width="0.6" />
<line x1="30.5" y1="249.35" x2="322.6" y2="249.35" stroke="#F2F2F2" stroke-width="0.6" />
<line x1="30.5" y1="349.1" x2="322.6" y2="349.1" stroke="#E6E6E6" stroke-width="0.9" />
<line x1="30.5" y1="320.6" x2="322.6" y2="320.6" stroke="#E6E6E6" stroke-width="0.9" />
<line x1="30.5" y1="292.1" x2="322.6" y2="292.1" stroke="#E6E6E6" stroke-width="0.9" />
<line x1="30.5" y1="263.6" x2="322.6" y2="263.6" stroke="#E6E6E6" stroke-width="0.9" />
<line x1="30.5" y1="235.1" x2="322.6" y2="235.1" stroke="#E6E6E6" stroke-width="0.9" />
<line x1="38.4" y1="229.4" x2="38.4" y2="354.6" stroke="#E6E6E6" stroke-width="0.9" />
<line x1="51.56" y1="229.4" x2="51.56" y2="354.6" stroke="#E6E6E6" stroke-width="0.9" />
<line x1="64.71" y1="229.4" x2="64.71" y2="354.6" stroke="#E6E6E6" stroke-width="0.9" />
<line x1="77.87" y1="229.4" x2="77.87" y2="354.6" stroke="#E6E6E6" stroke-width="0.9" />
<line x1="91.03" y1="229.4" x2="91.03" y2="354.6" stroke="#E6E6E6" stroke-width="0.9" />
<line x1="104.19" y1="229.4" x2="104.19" y2="354.6" stroke="#E6E6E6" stroke-width="0.9" />
<line x1="117.34" y1="229.4" x2="117.34" y2="354.6" stroke="#E6E6E6" stroke-width="0.9" />
<line x1="130.5" y1="229.4" x2="130.5" y2="354.6" stroke="#E6E6E6" stroke-width="0.9" />
<line x1="143.66" y1="229.4" x2="143.66" y2="354.6" stroke="#E6E6E6" stroke-width="0.9" />
<line x1="156.81" y1="229.4" x2="156.81" y2="354.6" stroke="#E6E6E6" stroke-width="0.9" />
<line x1="169.97" y1="229.4" x2="169.97" y2="354.6" stroke="#E6E6E6" stroke-width="0.9" />
<line x1="183.13" y1="229.4" x2="183.13" y2="354.6" stroke="#E6E6E6" stroke-width="0.9" />
<line x1="196.28" y1="229.4" x2="196.28" y2="354.6" stroke="#E6E6E6" stroke-width="0.9" />
<line x1="209.44" y1="229.4" x2="209.44" y2="354.6" stroke="#E6E6E6" stroke-width="0.9" />
<line x1="222.6" y1="229.4" x2="222.6" y2="354.6" stroke="#E6E6E6" stroke-width="0.9" />
<line x1="235.75" y1="229.4" x2="235.75" y2="354.6" stroke="#E6E6E6" stroke-width="0.9" />
<line x1="248.91" y1="229.4" x2="248.91" y2="354.6" stroke="#E6E6E6" stroke-width="0.9" />
<line x1="262.07" y1="229.4" x2="262.07" y2="354.6" stroke="#E6E6E6" stroke-width="0.9" />
<line x1="275.23" y1="229.4" x2="275.23" y2="354.6" stroke="#E6E6E6" stroke-width="0.9" />
<line x1="288.38" y1="229.4" x2="288.38" y2="354.6" stroke="#E6E6E6" stroke-width="0.9" />
<line x1="301.54" y1="229.4" x2="301.54" y2="354.6" stroke="#E6E6E6" stroke-width="0.9" />
<line x1="314.7" y1="229.4" x2="314.7" y2="354.6" stroke="#E6E6E6" stroke-width="0.9" />
<line x1="35.95" y1="344.54" x2="35.95" y2="346.82" stroke="#484848" stroke-width="1.35" />
<line x1="35.95" y1="349.1" x2="35.95" y2="349.1" stroke="#484848" stroke-width="1.35" />
<rect x="33.6" y="346.82" width="4.7" height="2.28" fill="#4A9D6C" stroke="#000" stroke-width="0.9" />
<line x1="33.6" y1="348.53" x2="38.3" y2="348.53" stroke="#000" stroke-width="1.45" />
<circle cx="35.95" cy="343.86" r="1.7" fill="#4A9D6C" stroke="#000" stroke-width="0.5"/>
<circle cx="35.95" cy="338.84" r="1.7" fill="#4A9D6C" stroke="#000" stroke-width="0.5"/>
<line x1="41" y1="343.4" x2="41" y2="346.25" stroke="#484848" stroke-width="1.35" />
<line x1="41" y1="349.1" x2="41" y2="349.1" stroke="#484848" stroke-width="1.35" />
<rect x="38.65" y="346.25" width="4.7" height="2.85" fill="#E8232A" stroke="#000" stroke-width="0.9" />
<line x1="38.65" y1="348.53" x2="43.35" y2="348.53" stroke="#000" stroke-width="1.45" />
<circle cx="41" cy="342.26" r="1.7" fill="#E8232A" stroke="#000" stroke-width="0.5"/>
<circle cx="41" cy="339.98" r="1.7" fill="#E8232A" stroke="#000" stroke-width="0.5"/>
<circle cx="41" cy="337.7" r="1.7" fill="#E8232A" stroke="#000" stroke-width="0.5"/>
<circle cx="41" cy="334.28" r="1.7" fill="#E8232A" stroke="#000" stroke-width="0.5"/>
<circle cx="41" cy="325.16" r="1.7" fill="#E8232A" stroke="#000" stroke-width="0.5"/>
<line x1="49.11" y1="342.26" x2="49.11" y2="345.68" stroke="#484848" stroke-width="1.35" />
<line x1="49.11" y1="349.1" x2="49.11" y2="349.1" stroke="#484848" stroke-width="1.35" />
<rect x="46.76" y="345.68" width="4.7" height="3.42" fill="#4A9D6C" stroke="#000" stroke-width="0.9" />
<line x1="46.76" y1="347.96" x2="51.46" y2="347.96" stroke="#000" stroke-width="1.45" />
<circle cx="49.11" cy="339.41" r="1.7" fill="#4A9D6C" stroke="#000" stroke-width="0.5"/>
<line x1="54.16" y1="344.54" x2="54.16" y2="346.82" stroke="#484848" stroke-width="1.35" />
<line x1="54.16" y1="349.1" x2="54.16" y2="349.1" stroke="#484848" stroke-width="1.35" />
<rect x="51.81" y="346.82" width="4.7" height="2.28" fill="#E8232A" stroke="#000" stroke-width="0.9" />
<line x1="51.81" y1="348.53" x2="56.51" y2="348.53" stroke="#000" stroke-width="1.45" />
<circle cx="54.16" cy="342.26" r="1.7" fill="#E8232A" stroke="#000" stroke-width="0.5"/>
<circle cx="54.16" cy="339.98" r="1.7" fill="#E8232A" stroke="#000" stroke-width="0.5"/>
<circle cx="54.16" cy="334.28" r="1.7" fill="#E8232A" stroke="#000" stroke-width="0.5"/>
<circle cx="54.16" cy="333.14" r="1.7" fill="#E8232A" stroke="#000" stroke-width="0.5"/>
<circle cx="54.16" cy="322.88" r="1.7" fill="#E8232A" stroke="#000" stroke-width="0.5"/>
<circle cx="54.16" cy="312.62" r="1.7" fill="#E8232A" stroke="#000" stroke-width="0.5"/>
<line x1="62.26" y1="346.82" x2="62.26" y2="347.73" stroke="#484848" stroke-width="1.35" />
<line x1="62.26" y1="349.1" x2="62.26" y2="349.1" stroke="#484848" stroke-width="1.35" />
<rect x="59.91" y="347.73" width="4.7" height="1.37" fill="#4A9D6C" stroke="#000" stroke-width="0.9" />
<line x1="59.91" y1="348.76" x2="64.61" y2="348.76" stroke="#000" stroke-width="1.45" />
<circle cx="62.26" cy="343.4" r="1.7" fill="#4A9D6C" stroke="#000" stroke-width="0.5"/>
<circle cx="62.26" cy="338.27" r="1.7" fill="#4A9D6C" stroke="#000" stroke-width="0.5"/>
<line x1="67.31" y1="345.68" x2="67.31" y2="347.73" stroke="#484848" stroke-width="1.35" />
<line x1="67.31" y1="349.1" x2="67.31" y2="349.1" stroke="#484848" stroke-width="1.35" />
<rect x="64.96" y="347.73" width="4.7" height="1.37" fill="#E8232A" stroke="#000" stroke-width="0.9" />
<line x1="64.96" y1="348.76" x2="69.66" y2="348.76" stroke="#000" stroke-width="1.45" />
<circle cx="67.31" cy="344.54" r="1.7" fill="#E8232A" stroke="#000" stroke-width="0.5"/>
<circle cx="67.31" cy="342.26" r="1.7" fill="#E8232A" stroke="#000" stroke-width="0.5"/>
<circle cx="67.31" cy="337.7" r="1.7" fill="#E8232A" stroke="#000" stroke-width="0.5"/>
<circle cx="67.31" cy="336.56" r="1.7" fill="#E8232A" stroke="#000" stroke-width="0.5"/>
<circle cx="67.31" cy="330.86" r="1.7" fill="#E8232A" stroke="#000" stroke-width="0.5"/>
<line x1="75.42" y1="335.42" x2="75.42" y2="343.4" stroke="#484848" stroke-width="1.35" />
<line x1="75.42" y1="349.1" x2="75.42" y2="349.1" stroke="#484848" stroke-width="1.35" />
<rect x="73.07" y="343.4" width="4.7" height="5.7" fill="#4A9D6C" stroke="#000" stroke-width="0.9" />
<line x1="73.07" y1="346.82" x2="77.77" y2="346.82" stroke="#000" stroke-width="1.45" />
<circle cx="75.42" cy="332" r="1.7" fill="#4A9D6C" stroke="#000" stroke-width="0.5"/>
<circle cx="75.42" cy="325.16" r="1.7" fill="#4A9D6C" stroke="#000" stroke-width="0.5"/>
<circle cx="75.42" cy="319.46" r="1.7" fill="#4A9D6C" stroke="#000" stroke-width="0.5"/>
<line x1="80.47" y1="333.14" x2="80.47" y2="342.6" stroke="#484848" stroke-width="1.35" />
<line x1="80.47" y1="349.1" x2="80.47" y2="349.1" stroke="#484848" stroke-width="1.35" />
<rect x="78.12" y="342.6" width="4.7" height="6.5" fill="#E8232A" stroke="#000" stroke-width="0.9" />
<line x1="78.12" y1="344.54" x2="82.82" y2="344.54" stroke="#000" stroke-width="1.45" />
<circle cx="80.47" cy="332" r="1.7" fill="#E8232A" stroke="#000" stroke-width="0.5"/>
<circle cx="80.47" cy="329.72" r="1.7" fill="#E8232A" stroke="#000" stroke-width="0.5"/>
<circle cx="80.47" cy="327.44" r="1.7" fill="#E8232A" stroke="#000" stroke-width="0.5"/>
<line x1="88.58" y1="346.82" x2="88.58" y2="347.73" stroke="#484848" stroke-width="1.35" />
<line x1="88.58" y1="349.1" x2="88.58" y2="349.1" stroke="#484848" stroke-width="1.35" />
<rect x="86.23" y="347.73" width="4.7" height="1.37" fill="#4A9D6C" stroke="#000" stroke-width="0.9" />
<line x1="86.23" y1="348.76" x2="90.93" y2="348.76" stroke="#000" stroke-width="1.45" />
<circle cx="88.58" cy="345.68" r="1.7" fill="#4A9D6C" stroke="#000" stroke-width="0.5"/>
<circle cx="88.58" cy="343.4" r="1.7" fill="#4A9D6C" stroke="#000" stroke-width="0.5"/>
<circle cx="88.58" cy="340.55" r="1.7" fill="#4A9D6C" stroke="#000" stroke-width="0.5"/>
<line x1="93.63" y1="346.82" x2="93.63" y2="347.73" stroke="#484848" stroke-width="1.35" />
<line x1="93.63" y1="349.1" x2="93.63" y2="349.1" stroke="#484848" stroke-width="1.35" />
<rect x="91.28" y="347.73" width="4.7" height="1.37" fill="#E8232A" stroke="#000" stroke-width="0.9" />
<line x1="91.28" y1="348.76" x2="95.98" y2="348.76" stroke="#000" stroke-width="1.45" />
<circle cx="93.63" cy="345.68" r="1.7" fill="#E8232A" stroke="#000" stroke-width="0.5"/>
<circle cx="93.63" cy="343.97" r="1.7" fill="#E8232A" stroke="#000" stroke-width="0.5"/>
<line x1="101.73" y1="303.5" x2="101.73" y2="315.47" stroke="#484848" stroke-width="1.35" />
<line x1="101.73" y1="325.16" x2="101.73" y2="340.44" stroke="#484848" stroke-width="1.35" />
<rect x="99.39" y="315.47" width="4.7" height="9.69" fill="#4A9D6C" stroke="#000" stroke-width="0.9" />
<line x1="99.39" y1="321.74" x2="104.08" y2="321.74" stroke="#000" stroke-width="1.45" />
<circle cx="101.73" cy="298.48" r="1.7" fill="#4A9D6C" stroke="#000" stroke-width="0.5"/>
<line x1="106.78" y1="298.03" x2="106.78" y2="317.64" stroke="#484848" stroke-width="1.35" />
<line x1="106.78" y1="332" x2="106.78" y2="345.68" stroke="#484848" stroke-width="1.35" />
<rect x="104.44" y="317.64" width="4.7" height="14.36" fill="#E8232A" stroke="#000" stroke-width="0.9" />
<line x1="104.44" y1="324.59" x2="109.13" y2="324.59" stroke="#000" stroke-width="1.45" />
<circle cx="106.78" cy="281.84" r="1.7" fill="#E8232A" stroke="#000" stroke-width="0.5"/>
<line x1="114.89" y1="281.84" x2="114.89" y2="303.5" stroke="#484848" stroke-width="1.35" />
<line x1="114.89" y1="320.6" x2="114.89" y2="334.28" stroke="#484848" stroke-width="1.35" />
<rect x="112.54" y="303.5" width="4.7" height="17.1" fill="#4A9D6C" stroke="#000" stroke-width="0.9" />
<line x1="112.54" y1="313.76" x2="117.24" y2="313.76" stroke="#000" stroke-width="1.45" />
<line x1="119.94" y1="275" x2="119.94" y2="298.94" stroke="#484848" stroke-width="1.35" />
<line x1="119.94" y1="324.02" x2="119.94" y2="339.98" stroke="#484848" stroke-width="1.35" />
<rect x="117.59" y="298.94" width="4.7" height="25.08" fill="#E8232A" stroke="#000" stroke-width="0.9" />
<line x1="117.59" y1="310.34" x2="122.29" y2="310.34" stroke="#000" stroke-width="1.45" />
<circle cx="119.94" cy="256.76" r="1.7" fill="#E8232A" stroke="#000" stroke-width="0.5"/>
<line x1="128.05" y1="290.96" x2="128.05" y2="303.5" stroke="#484848" stroke-width="1.35" />
<line x1="128.05" y1="330.86" x2="128.05" y2="346.82" stroke="#484848" stroke-width="1.35" />
<rect x="125.7" y="303.5" width="4.7" height="27.36" fill="#4A9D6C" stroke="#000" stroke-width="0.9" />
<line x1="125.7" y1="317.18" x2="130.4" y2="317.18" stroke="#000" stroke-width="1.45" />
<circle cx="128.05" cy="257.9" r="1.7" fill="#4A9D6C" stroke="#000" stroke-width="0.5"/>
<circle cx="128.05" cy="239.66" r="1.7" fill="#4A9D6C" stroke="#000" stroke-width="0.5"/>
<circle cx="128.05" cy="235.1" r="1.7" fill="#4A9D6C" stroke="#000" stroke-width="0.5"/>
<line x1="133.1" y1="248.78" x2="133.1" y2="298.94" stroke="#484848" stroke-width="1.35" />
<line x1="133.1" y1="335.42" x2="133.1" y2="348.53" stroke="#484848" stroke-width="1.35" />
<rect x="130.75" y="298.94" width="4.7" height="36.48" fill="#E8232A" stroke="#000" stroke-width="0.9" />
<line x1="130.75" y1="325.16" x2="135.45" y2="325.16" stroke="#000" stroke-width="1.45" />
<line x1="141.21" y1="343.97" x2="141.21" y2="346.82" stroke="#484848" stroke-width="1.35" />
<line x1="141.21" y1="349.1" x2="141.21" y2="349.1" stroke="#484848" stroke-width="1.35" />
<rect x="138.86" y="346.82" width="4.7" height="2.28" fill="#4A9D6C" stroke="#000" stroke-width="0.9" />
<line x1="138.86" y1="347.96" x2="143.56" y2="347.96" stroke="#000" stroke-width="1.45" />
<circle cx="141.21" cy="343.4" r="1.7" fill="#4A9D6C" stroke="#000" stroke-width="0.5"/>
<circle cx="141.21" cy="341.69" r="1.7" fill="#4A9D6C" stroke="#000" stroke-width="0.5"/>
<circle cx="141.21" cy="339.98" r="1.7" fill="#4A9D6C" stroke="#000" stroke-width="0.5"/>
<circle cx="141.21" cy="333.14" r="1.7" fill="#4A9D6C" stroke="#000" stroke-width="0.5"/>
<line x1="146.26" y1="345.68" x2="146.26" y2="347.73" stroke="#484848" stroke-width="1.35" />
<line x1="146.26" y1="349.1" x2="146.26" y2="349.1" stroke="#484848" stroke-width="1.35" />
<rect x="143.91" y="347.73" width="4.7" height="1.37" fill="#E8232A" stroke="#000" stroke-width="0.9" />
<line x1="143.91" y1="348.53" x2="148.61" y2="348.53" stroke="#000" stroke-width="1.45" />
<circle cx="146.26" cy="344.54" r="1.7" fill="#E8232A" stroke="#000" stroke-width="0.5"/>
<circle cx="146.26" cy="342.26" r="1.7" fill="#E8232A" stroke="#000" stroke-width="0.5"/>
<circle cx="146.26" cy="339.98" r="1.7" fill="#E8232A" stroke="#000" stroke-width="0.5"/>
<circle cx="146.26" cy="332" r="1.7" fill="#E8232A" stroke="#000" stroke-width="0.5"/>
<line x1="154.36" y1="321.4" x2="154.36" y2="336.9" stroke="#484848" stroke-width="1.35" />
<line x1="154.36" y1="347.96" x2="154.36" y2="349.1" stroke="#484848" stroke-width="1.35" />
<rect x="152.01" y="336.9" width="4.7" height="11.06" fill="#4A9D6C" stroke="#000" stroke-width="0.9" />
<line x1="152.01" y1="342.26" x2="156.71" y2="342.26" stroke="#000" stroke-width="1.45" />
<line x1="159.41" y1="319.46" x2="159.41" y2="333.14" stroke="#484848" stroke-width="1.35" />
<line x1="159.41" y1="343.06" x2="159.41" y2="348.53" stroke="#484848" stroke-width="1.35" />
<rect x="157.06" y="333.14" width="4.7" height="9.92" fill="#E8232A" stroke="#000" stroke-width="0.9" />
<line x1="157.06" y1="335.65" x2="161.76" y2="335.65" stroke="#000" stroke-width="1.45" />
<circle cx="159.41" cy="314.9" r="1.7" fill="#E8232A" stroke="#000" stroke-width="0.5"/>
<circle cx="159.41" cy="313.19" r="1.7" fill="#E8232A" stroke="#000" stroke-width="0.5"/>
<circle cx="159.41" cy="311.48" r="1.7" fill="#E8232A" stroke="#000" stroke-width="0.5"/>
<circle cx="159.41" cy="301.22" r="1.7" fill="#E8232A" stroke="#000" stroke-width="0.5"/>
<circle cx="159.41" cy="287.54" r="1.7" fill="#E8232A" stroke="#000" stroke-width="0.5"/>
<line x1="167.52" y1="345.68" x2="167.52" y2="347.73" stroke="#484848" stroke-width="1.35" />
<line x1="167.52" y1="349.1" x2="167.52" y2="349.1" stroke="#484848" stroke-width="1.35" />
<rect x="165.17" y="347.73" width="4.7" height="1.37" fill="#4A9D6C" stroke="#000" stroke-width="0.9" />
<line x1="165.17" y1="348.53" x2="169.87" y2="348.53" stroke="#000" stroke-width="1.45" />
<circle cx="167.52" cy="335.65" r="1.7" fill="#4A9D6C" stroke="#000" stroke-width="0.5"/>
<line x1="172.57" y1="345.68" x2="172.57" y2="347.96" stroke="#484848" stroke-width="1.35" />
<line x1="172.57" y1="349.1" x2="172.57" y2="349.1" stroke="#484848" stroke-width="1.35" />
<rect x="170.22" y="347.96" width="4.7" height="1.14" fill="#E8232A" stroke="#000" stroke-width="0.9" />
<line x1="170.22" y1="348.76" x2="174.92" y2="348.76" stroke="#000" stroke-width="1.45" />
<circle cx="172.57" cy="345.68" r="1.7" fill="#E8232A" stroke="#000" stroke-width="0.5"/>
<circle cx="172.57" cy="343.4" r="1.7" fill="#E8232A" stroke="#000" stroke-width="0.5"/>
<circle cx="172.57" cy="341.12" r="1.7" fill="#E8232A" stroke="#000" stroke-width="0.5"/>
<circle cx="172.57" cy="338.84" r="1.7" fill="#E8232A" stroke="#000" stroke-width="0.5"/>
<line x1="180.68" y1="345.68" x2="180.68" y2="346.82" stroke="#484848" stroke-width="1.35" />
<line x1="180.68" y1="349.1" x2="180.68" y2="349.1" stroke="#484848" stroke-width="1.35" />
<rect x="178.33" y="346.82" width="4.7" height="2.28" fill="#4A9D6C" stroke="#000" stroke-width="0.9" />
<line x1="178.33" y1="347.96" x2="183.03" y2="347.96" stroke="#000" stroke-width="1.45" />
<circle cx="180.68" cy="343.4" r="1.7" fill="#4A9D6C" stroke="#000" stroke-width="0.5"/>
<circle cx="180.68" cy="339.98" r="1.7" fill="#4A9D6C" stroke="#000" stroke-width="0.5"/>
<circle cx="180.68" cy="321.74" r="1.7" fill="#4A9D6C" stroke="#000" stroke-width="0.5"/>
<line x1="185.73" y1="345.68" x2="185.73" y2="346.82" stroke="#484848" stroke-width="1.35" />
<line x1="185.73" y1="349.1" x2="185.73" y2="349.1" stroke="#484848" stroke-width="1.35" />
<rect x="183.38" y="346.82" width="4.7" height="2.28" fill="#E8232A" stroke="#000" stroke-width="0.9" />
<line x1="183.38" y1="347.96" x2="188.08" y2="347.96" stroke="#000" stroke-width="1.45" />
<circle cx="185.73" cy="340.55" r="1.7" fill="#E8232A" stroke="#000" stroke-width="0.5"/>
<circle cx="185.73" cy="316.61" r="1.7" fill="#E8232A" stroke="#000" stroke-width="0.5"/>
<circle cx="185.73" cy="308.06" r="1.7" fill="#E8232A" stroke="#000" stroke-width="0.5"/>
<line x1="193.83" y1="336.56" x2="193.83" y2="342.03" stroke="#484848" stroke-width="1.35" />
<line x1="193.83" y1="347.62" x2="193.83" y2="349.1" stroke="#484848" stroke-width="1.35" />
<rect x="191.48" y="342.03" width="4.7" height="5.59" fill="#4A9D6C" stroke="#000" stroke-width="0.9" />
<line x1="191.48" y1="344.54" x2="196.18" y2="344.54" stroke="#000" stroke-width="1.45" />
<circle cx="193.83" cy="334.28" r="1.7" fill="#4A9D6C" stroke="#000" stroke-width="0.5"/>
<line x1="198.88" y1="336.56" x2="198.88" y2="342.03" stroke="#484848" stroke-width="1.35" />
<line x1="198.88" y1="347.62" x2="198.88" y2="349.1" stroke="#484848" stroke-width="1.35" />
<rect x="196.53" y="342.03" width="4.7" height="5.59" fill="#E8232A" stroke="#000" stroke-width="0.9" />
<line x1="196.53" y1="345.45" x2="201.23" y2="345.45" stroke="#000" stroke-width="1.45" />
<circle cx="198.88" cy="333.14" r="1.7" fill="#E8232A" stroke="#000" stroke-width="0.5"/>
<line x1="206.99" y1="346.82" x2="206.99" y2="347.73" stroke="#484848" stroke-width="1.35" />
<line x1="206.99" y1="349.1" x2="206.99" y2="349.1" stroke="#484848" stroke-width="1.35" />
<rect x="204.64" y="347.73" width="4.7" height="1.37" fill="#4A9D6C" stroke="#000" stroke-width="0.9" />
<line x1="204.64" y1="348.53" x2="209.34" y2="348.53" stroke="#000" stroke-width="1.45" />
<circle cx="206.99" cy="346.25" r="1.7" fill="#4A9D6C" stroke="#000" stroke-width="0.5"/>
<circle cx="206.99" cy="333.14" r="1.7" fill="#4A9D6C" stroke="#000" stroke-width="0.5"/>
<line x1="212.04" y1="346.82" x2="212.04" y2="347.73" stroke="#484848" stroke-width="1.35" />
<line x1="212.04" y1="349.1" x2="212.04" y2="349.1" stroke="#484848" stroke-width="1.35" />
<rect x="209.69" y="347.73" width="4.7" height="1.37" fill="#E8232A" stroke="#000" stroke-width="0.9" />
<line x1="209.69" y1="348.53" x2="214.39" y2="348.53" stroke="#000" stroke-width="1.45" />
<circle cx="212.04" cy="345.68" r="1.7" fill="#E8232A" stroke="#000" stroke-width="0.5"/>
<circle cx="212.04" cy="339.3" r="1.7" fill="#E8232A" stroke="#000" stroke-width="0.5"/>
<line x1="220.15" y1="319.92" x2="220.15" y2="332" stroke="#484848" stroke-width="1.35" />
<line x1="220.15" y1="344.88" x2="220.15" y2="349.1" stroke="#484848" stroke-width="1.35" />
<rect x="217.8" y="332" width="4.7" height="12.88" fill="#4A9D6C" stroke="#000" stroke-width="0.9" />
<line x1="217.8" y1="341.12" x2="222.5" y2="341.12" stroke="#000" stroke-width="1.45" />
<line x1="225.2" y1="311.02" x2="225.2" y2="330.4" stroke="#484848" stroke-width="1.35" />
<line x1="225.2" y1="343.97" x2="225.2" y2="349.1" stroke="#484848" stroke-width="1.35" />
<rect x="222.85" y="330.4" width="4.7" height="13.57" fill="#E8232A" stroke="#000" stroke-width="0.9" />
<line x1="222.85" y1="339.98" x2="227.55" y2="339.98" stroke="#000" stroke-width="1.45" />
<circle cx="225.2" cy="300.08" r="1.7" fill="#E8232A" stroke="#000" stroke-width="0.5"/>
<line x1="233.31" y1="342.26" x2="233.31" y2="346.14" stroke="#484848" stroke-width="1.35" />
<line x1="233.31" y1="349.1" x2="233.31" y2="349.1" stroke="#484848" stroke-width="1.35" />
<rect x="230.96" y="346.14" width="4.7" height="2.96" fill="#4A9D6C" stroke="#000" stroke-width="0.9" />
<line x1="230.96" y1="347.62" x2="235.66" y2="347.62" stroke="#000" stroke-width="1.45" />
<circle cx="233.31" cy="338.84" r="1.7" fill="#4A9D6C" stroke="#000" stroke-width="0.5"/>
<circle cx="233.31" cy="336.56" r="1.7" fill="#4A9D6C" stroke="#000" stroke-width="0.5"/>
<circle cx="233.31" cy="334.28" r="1.7" fill="#4A9D6C" stroke="#000" stroke-width="0.5"/>
<circle cx="233.31" cy="323.22" r="1.7" fill="#4A9D6C" stroke="#000" stroke-width="0.5"/>
<line x1="238.35" y1="341.12" x2="238.35" y2="345.45" stroke="#484848" stroke-width="1.35" />
<line x1="238.35" y1="349.1" x2="238.35" y2="349.1" stroke="#484848" stroke-width="1.35" />
<rect x="236" y="345.45" width="4.7" height="3.65" fill="#E8232A" stroke="#000" stroke-width="0.9" />
<line x1="236" y1="347.62" x2="240.7" y2="347.62" stroke="#000" stroke-width="1.45" />
<circle cx="238.35" cy="339.41" r="1.7" fill="#E8232A" stroke="#000" stroke-width="0.5"/>
<circle cx="238.35" cy="337.7" r="1.7" fill="#E8232A" stroke="#000" stroke-width="0.5"/>
<circle cx="238.35" cy="336.56" r="1.7" fill="#E8232A" stroke="#000" stroke-width="0.5"/>
<circle cx="238.35" cy="332" r="1.7" fill="#E8232A" stroke="#000" stroke-width="0.5"/>
<circle cx="238.35" cy="329.72" r="1.7" fill="#E8232A" stroke="#000" stroke-width="0.5"/>
<circle cx="238.35" cy="327.44" r="1.7" fill="#E8232A" stroke="#000" stroke-width="0.5"/>
<circle cx="238.35" cy="325.16" r="1.7" fill="#E8232A" stroke="#000" stroke-width="0.5"/>
<circle cx="238.35" cy="324.02" r="1.7" fill="#E8232A" stroke="#000" stroke-width="0.5"/>
<line x1="246.46" y1="346.82" x2="246.46" y2="347.73" stroke="#484848" stroke-width="1.35" />
<line x1="246.46" y1="349.1" x2="246.46" y2="349.1" stroke="#484848" stroke-width="1.35" />
<rect x="244.11" y="347.73" width="4.7" height="1.37" fill="#4A9D6C" stroke="#000" stroke-width="0.9" />
<line x1="244.11" y1="348.76" x2="248.81" y2="348.76" stroke="#000" stroke-width="1.45" />
<circle cx="246.46" cy="345.68" r="1.7" fill="#4A9D6C" stroke="#000" stroke-width="0.5"/>
<circle cx="246.46" cy="343.4" r="1.7" fill="#4A9D6C" stroke="#000" stroke-width="0.5"/>
<circle cx="246.46" cy="341.12" r="1.7" fill="#4A9D6C" stroke="#000" stroke-width="0.5"/>
<circle cx="246.46" cy="339.98" r="1.7" fill="#4A9D6C" stroke="#000" stroke-width="0.5"/>
<circle cx="246.46" cy="317.18" r="1.7" fill="#4A9D6C" stroke="#000" stroke-width="0.5"/>
<line x1="251.51" y1="344.54" x2="251.51" y2="347.28" stroke="#484848" stroke-width="1.35" />
<line x1="251.51" y1="349.1" x2="251.51" y2="349.1" stroke="#484848" stroke-width="1.35" />
<rect x="249.16" y="347.28" width="4.7" height="1.82" fill="#E8232A" stroke="#000" stroke-width="0.9" />
<line x1="249.16" y1="348.53" x2="253.86" y2="348.53" stroke="#000" stroke-width="1.45" />
<circle cx="251.51" cy="343.4" r="1.7" fill="#E8232A" stroke="#000" stroke-width="0.5"/>
<circle cx="251.51" cy="341.12" r="1.7" fill="#E8232A" stroke="#000" stroke-width="0.5"/>
<circle cx="251.51" cy="338.84" r="1.7" fill="#E8232A" stroke="#000" stroke-width="0.5"/>
<circle cx="251.51" cy="336.56" r="1.7" fill="#E8232A" stroke="#000" stroke-width="0.5"/>
<circle cx="251.51" cy="334.28" r="1.7" fill="#E8232A" stroke="#000" stroke-width="0.5"/>
<circle cx="251.51" cy="329.15" r="1.7" fill="#E8232A" stroke="#000" stroke-width="0.5"/>
<circle cx="251.51" cy="319.92" r="1.7" fill="#E8232A" stroke="#000" stroke-width="0.5"/>
<line x1="259.62" y1="344.54" x2="259.62" y2="347.28" stroke="#484848" stroke-width="1.35" />
<line x1="259.62" y1="349.1" x2="259.62" y2="349.1" stroke="#484848" stroke-width="1.35" />
<rect x="257.27" y="347.28" width="4.7" height="1.82" fill="#4A9D6C" stroke="#000" stroke-width="0.9" />
<line x1="257.27" y1="348.53" x2="261.97" y2="348.53" stroke="#000" stroke-width="1.45" />
<circle cx="259.62" cy="343.4" r="1.7" fill="#4A9D6C" stroke="#000" stroke-width="0.5"/>
<circle cx="259.62" cy="341.12" r="1.7" fill="#4A9D6C" stroke="#000" stroke-width="0.5"/>
<circle cx="259.62" cy="338.84" r="1.7" fill="#4A9D6C" stroke="#000" stroke-width="0.5"/>
<circle cx="259.62" cy="336.56" r="1.7" fill="#4A9D6C" stroke="#000" stroke-width="0.5"/>
<circle cx="259.62" cy="334.28" r="1.7" fill="#4A9D6C" stroke="#000" stroke-width="0.5"/>
<line x1="264.67" y1="334.28" x2="264.67" y2="342.94" stroke="#484848" stroke-width="1.35" />
<line x1="264.67" y1="349.1" x2="264.67" y2="349.1" stroke="#484848" stroke-width="1.35" />
<rect x="262.32" y="342.94" width="4.7" height="6.16" fill="#E8232A" stroke="#000" stroke-width="0.9" />
<line x1="262.32" y1="347.62" x2="267.02" y2="347.62" stroke="#000" stroke-width="1.45" />
<circle cx="264.67" cy="333.14" r="1.7" fill="#E8232A" stroke="#000" stroke-width="0.5"/>
<circle cx="264.67" cy="330.86" r="1.7" fill="#E8232A" stroke="#000" stroke-width="0.5"/>
<circle cx="264.67" cy="328.58" r="1.7" fill="#E8232A" stroke="#000" stroke-width="0.5"/>
<circle cx="264.67" cy="326.3" r="1.7" fill="#E8232A" stroke="#000" stroke-width="0.5"/>
<circle cx="264.67" cy="285.6" r="1.7" fill="#E8232A" stroke="#000" stroke-width="0.5"/>
<line x1="272.78" y1="320.6" x2="272.78" y2="333.71" stroke="#484848" stroke-width="1.35" />
<line x1="272.78" y1="342.49" x2="272.78" y2="349.1" stroke="#484848" stroke-width="1.35" />
<rect x="270.43" y="333.71" width="4.7" height="8.78" fill="#4A9D6C" stroke="#000" stroke-width="0.9" />
<line x1="270.43" y1="339.98" x2="275.13" y2="339.98" stroke="#000" stroke-width="1.45" />
<line x1="277.83" y1="318.32" x2="277.83" y2="334.28" stroke="#484848" stroke-width="1.35" />
<line x1="277.83" y1="346.82" x2="277.83" y2="348.53" stroke="#484848" stroke-width="1.35" />
<rect x="275.48" y="334.28" width="4.7" height="12.54" fill="#E8232A" stroke="#000" stroke-width="0.9" />
<line x1="275.48" y1="340.21" x2="280.18" y2="340.21" stroke="#000" stroke-width="1.45" />
<circle cx="277.83" cy="313.76" r="1.7" fill="#E8232A" stroke="#000" stroke-width="0.5"/>
<line x1="285.93" y1="319.46" x2="285.93" y2="329.15" stroke="#484848" stroke-width="1.35" />
<line x1="285.93" y1="337.7" x2="285.93" y2="345.68" stroke="#484848" stroke-width="1.35" />
<rect x="283.58" y="329.15" width="4.7" height="8.55" fill="#4A9D6C" stroke="#000" stroke-width="0.9" />
<line x1="283.58" y1="333.14" x2="288.28" y2="333.14" stroke="#000" stroke-width="1.45" />
<line x1="290.98" y1="318.32" x2="290.98" y2="329.15" stroke="#484848" stroke-width="1.35" />
<line x1="290.98" y1="338.38" x2="290.98" y2="348.53" stroke="#484848" stroke-width="1.35" />
<rect x="288.63" y="329.15" width="4.7" height="9.23" fill="#E8232A" stroke="#000" stroke-width="0.9" />
<line x1="288.63" y1="333.14" x2="293.33" y2="333.14" stroke="#000" stroke-width="1.45" />
<circle cx="290.98" cy="310.68" r="1.7" fill="#E8232A" stroke="#000" stroke-width="0.5"/>
<line x1="299.09" y1="318.89" x2="299.09" y2="328.81" stroke="#484848" stroke-width="1.35" />
<line x1="299.09" y1="339.3" x2="299.09" y2="348.53" stroke="#484848" stroke-width="1.35" />
<rect x="296.74" y="328.81" width="4.7" height="10.49" fill="#4A9D6C" stroke="#000" stroke-width="0.9" />
<line x1="296.74" y1="332" x2="301.44" y2="332" stroke="#000" stroke-width="1.45" />
<circle cx="299.09" cy="311.48" r="1.7" fill="#4A9D6C" stroke="#000" stroke-width="0.5"/>
<line x1="304.14" y1="312.05" x2="304.14" y2="329.15" stroke="#484848" stroke-width="1.35" />
<line x1="304.14" y1="341.69" x2="304.14" y2="348.53" stroke="#484848" stroke-width="1.35" />
<rect x="301.79" y="329.15" width="4.7" height="12.54" fill="#E8232A" stroke="#000" stroke-width="0.9" />
<line x1="301.79" y1="334.74" x2="306.49" y2="334.74" stroke="#000" stroke-width="1.45" />
<circle cx="304.14" cy="310.68" r="1.7" fill="#E8232A" stroke="#000" stroke-width="0.5"/>
<line x1="312.25" y1="341.12" x2="312.25" y2="344.88" stroke="#484848" stroke-width="1.35" />
<line x1="312.25" y1="349.1" x2="312.25" y2="349.1" stroke="#484848" stroke-width="1.35" />
<rect x="309.9" y="344.88" width="4.7" height="4.22" fill="#4A9D6C" stroke="#000" stroke-width="0.9" />
<line x1="309.9" y1="347.16" x2="314.6" y2="347.16" stroke="#000" stroke-width="1.45" />
<circle cx="312.25" cy="338.38" r="1.7" fill="#4A9D6C" stroke="#000" stroke-width="0.5"/>
<line x1="317.3" y1="340.55" x2="317.3" y2="344.88" stroke="#484848" stroke-width="1.35" />
<line x1="317.3" y1="348.53" x2="317.3" y2="349.1" stroke="#484848" stroke-width="1.35" />
<rect x="314.95" y="344.88" width="4.7" height="3.65" fill="#E8232A" stroke="#000" stroke-width="0.9" />
<line x1="314.95" y1="347.16" x2="319.65" y2="347.16" stroke="#000" stroke-width="1.45" />
<rect x="30.5" y="229.4" width="292.1" height="125.2" fill="none" stroke="#6A6A6A" stroke-width="1" />
<line x1="28.1" y1="349.1" x2="30.5" y2="349.1" stroke="#222" stroke-width="1" />
<text x="26.9" y="351.6" font-family="'Liberation Sans', sans-serif" font-size="7.2" fill="#4D4D4D" text-anchor="end">0.00</text>
<line x1="28.1" y1="320.6" x2="30.5" y2="320.6" stroke="#222" stroke-width="1" />
<text x="26.9" y="323.1" font-family="'Liberation Sans', sans-serif" font-size="7.2" fill="#4D4D4D" text-anchor="end">0.25</text>
<line x1="28.1" y1="292.1" x2="30.5" y2="292.1" stroke="#222" stroke-width="1" />
<text x="26.9" y="294.6" font-family="'Liberation Sans', sans-serif" font-size="7.2" fill="#4D4D4D" text-anchor="end">0.50</text>
<line x1="28.1" y1="263.6" x2="30.5" y2="263.6" stroke="#222" stroke-width="1" />
<text x="26.9" y="266.1" font-family="'Liberation Sans', sans-serif" font-size="7.2" fill="#4D4D4D" text-anchor="end">0.75</text>
<line x1="28.1" y1="235.1" x2="30.5" y2="235.1" stroke="#222" stroke-width="1" />
<text x="26.9" y="237.6" font-family="'Liberation Sans', sans-serif" font-size="7.2" fill="#4D4D4D" text-anchor="end">1.00</text>
<line x1="38.4" y1="354.6" x2="38.4" y2="357" stroke="#222" stroke-width="1" />
<line x1="51.56" y1="354.6" x2="51.56" y2="357" stroke="#222" stroke-width="1" />
<line x1="64.71" y1="354.6" x2="64.71" y2="357" stroke="#222" stroke-width="1" />
<line x1="77.87" y1="354.6" x2="77.87" y2="357" stroke="#222" stroke-width="1" />
<line x1="91.03" y1="354.6" x2="91.03" y2="357" stroke="#222" stroke-width="1" />
<line x1="104.19" y1="354.6" x2="104.19" y2="357" stroke="#222" stroke-width="1" />
<line x1="117.34" y1="354.6" x2="117.34" y2="357" stroke="#222" stroke-width="1" />
<line x1="130.5" y1="354.6" x2="130.5" y2="357" stroke="#222" stroke-width="1" />
<line x1="143.66" y1="354.6" x2="143.66" y2="357" stroke="#222" stroke-width="1" />
<line x1="156.81" y1="354.6" x2="156.81" y2="357" stroke="#222" stroke-width="1" />
<line x1="169.97" y1="354.6" x2="169.97" y2="357" stroke="#222" stroke-width="1" />
<line x1="183.13" y1="354.6" x2="183.13" y2="357" stroke="#222" stroke-width="1" />
<line x1="196.28" y1="354.6" x2="196.28" y2="357" stroke="#222" stroke-width="1" />
<line x1="209.44" y1="354.6" x2="209.44" y2="357" stroke="#222" stroke-width="1" />
<line x1="222.6" y1="354.6" x2="222.6" y2="357" stroke="#222" stroke-width="1" />
<line x1="235.75" y1="354.6" x2="235.75" y2="357" stroke="#222" stroke-width="1" />
<line x1="248.91" y1="354.6" x2="248.91" y2="357" stroke="#222" stroke-width="1" />
<line x1="262.07" y1="354.6" x2="262.07" y2="357" stroke="#222" stroke-width="1" />
<line x1="275.23" y1="354.6" x2="275.23" y2="357" stroke="#222" stroke-width="1" />
<line x1="288.38" y1="354.6" x2="288.38" y2="357" stroke="#222" stroke-width="1" />
<line x1="301.54" y1="354.6" x2="301.54" y2="357" stroke="#222" stroke-width="1" />
<line x1="314.7" y1="354.6" x2="314.7" y2="357" stroke="#222" stroke-width="1" />
<text x="143.7" y="235" font-family="'Liberation Sans', sans-serif" font-size="6.6" fill="#111" text-anchor="middle" letter-spacing="0.5">*</text>
<text x="156.6" y="235" font-family="'Liberation Sans', sans-serif" font-size="6.6" fill="#111" text-anchor="middle" letter-spacing="0.5">**</text>
<text x="8.2" y="298.5" font-family="'Liberation Sans', sans-serif" font-size="10.2" fill="#111" text-anchor="middle" transform="rotate(-90 8.2 298.5)" textLength="97" lengthAdjust="spacingAndGlyphs">Estimated proportion</text>
<rect x="382.2" y="226.3" width="300.8" height="130" fill="#fff"/>
<line x1="382.2" y1="335.94" x2="683" y2="335.94" stroke="#F2F2F2" stroke-width="0.6" />
<line x1="382.2" y1="306.21" x2="683" y2="306.21" stroke="#F2F2F2" stroke-width="0.6" />
<line x1="382.2" y1="276.49" x2="683" y2="276.49" stroke="#F2F2F2" stroke-width="0.6" />
<line x1="382.2" y1="246.76" x2="683" y2="246.76" stroke="#F2F2F2" stroke-width="0.6" />
<line x1="382.2" y1="350.8" x2="683" y2="350.8" stroke="#E6E6E6" stroke-width="0.9" />
<line x1="382.2" y1="321.07" x2="683" y2="321.07" stroke="#E6E6E6" stroke-width="0.9" />
<line x1="382.2" y1="291.35" x2="683" y2="291.35" stroke="#E6E6E6" stroke-width="0.9" />
<line x1="382.2" y1="261.62" x2="683" y2="261.62" stroke="#E6E6E6" stroke-width="0.9" />
<line x1="382.2" y1="231.9" x2="683" y2="231.9" stroke="#E6E6E6" stroke-width="0.9" />
<line x1="390.3" y1="226.3" x2="390.3" y2="356.3" stroke="#E6E6E6" stroke-width="0.9" />
<line x1="403.86" y1="226.3" x2="403.86" y2="356.3" stroke="#E6E6E6" stroke-width="0.9" />
<line x1="417.41" y1="226.3" x2="417.41" y2="356.3" stroke="#E6E6E6" stroke-width="0.9" />
<line x1="430.97" y1="226.3" x2="430.97" y2="356.3" stroke="#E6E6E6" stroke-width="0.9" />
<line x1="444.53" y1="226.3" x2="444.53" y2="356.3" stroke="#E6E6E6" stroke-width="0.9" />
<line x1="458.09" y1="226.3" x2="458.09" y2="356.3" stroke="#E6E6E6" stroke-width="0.9" />
<line x1="471.64" y1="226.3" x2="471.64" y2="356.3" stroke="#E6E6E6" stroke-width="0.9" />
<line x1="485.2" y1="226.3" x2="485.2" y2="356.3" stroke="#E6E6E6" stroke-width="0.9" />
<line x1="498.76" y1="226.3" x2="498.76" y2="356.3" stroke="#E6E6E6" stroke-width="0.9" />
<line x1="512.31" y1="226.3" x2="512.31" y2="356.3" stroke="#E6E6E6" stroke-width="0.9" />
<line x1="525.87" y1="226.3" x2="525.87" y2="356.3" stroke="#E6E6E6" stroke-width="0.9" />
<line x1="539.43" y1="226.3" x2="539.43" y2="356.3" stroke="#E6E6E6" stroke-width="0.9" />
<line x1="552.98" y1="226.3" x2="552.98" y2="356.3" stroke="#E6E6E6" stroke-width="0.9" />
<line x1="566.54" y1="226.3" x2="566.54" y2="356.3" stroke="#E6E6E6" stroke-width="0.9" />
<line x1="580.1" y1="226.3" x2="580.1" y2="356.3" stroke="#E6E6E6" stroke-width="0.9" />
<line x1="593.65" y1="226.3" x2="593.65" y2="356.3" stroke="#E6E6E6" stroke-width="0.9" />
<line x1="607.21" y1="226.3" x2="607.21" y2="356.3" stroke="#E6E6E6" stroke-width="0.9" />
<line x1="620.77" y1="226.3" x2="620.77" y2="356.3" stroke="#E6E6E6" stroke-width="0.9" />
<line x1="634.33" y1="226.3" x2="634.33" y2="356.3" stroke="#E6E6E6" stroke-width="0.9" />
<line x1="647.88" y1="226.3" x2="647.88" y2="356.3" stroke="#E6E6E6" stroke-width="0.9" />
<line x1="661.44" y1="226.3" x2="661.44" y2="356.3" stroke="#E6E6E6" stroke-width="0.9" />
<line x1="675" y1="226.3" x2="675" y2="356.3" stroke="#E6E6E6" stroke-width="0.9" />
<line x1="387.85" y1="341.29" x2="387.85" y2="346.88" stroke="#484848" stroke-width="1.35" />
<line x1="387.85" y1="350.8" x2="387.85" y2="350.8" stroke="#484848" stroke-width="1.35" />
<rect x="385.5" y="346.88" width="4.7" height="3.92" fill="#4A9D6C" stroke="#000" stroke-width="0.9" />
<line x1="385.5" y1="349.37" x2="390.2" y2="349.37" stroke="#000" stroke-width="1.45" />
<circle cx="387.85" cy="338.32" r="1.7" fill="#4A9D6C" stroke="#000" stroke-width="0.5"/>
<circle cx="387.85" cy="336.53" r="1.7" fill="#4A9D6C" stroke="#000" stroke-width="0.5"/>
<circle cx="387.85" cy="306.81" r="1.7" fill="#4A9D6C" stroke="#000" stroke-width="0.5"/>
<line x1="392.9" y1="346.04" x2="392.9" y2="348.42" stroke="#484848" stroke-width="1.35" />
<line x1="392.9" y1="350.8" x2="392.9" y2="350.8" stroke="#484848" stroke-width="1.35" />
<rect x="390.55" y="348.42" width="4.7" height="2.38" fill="#E8232A" stroke="#000" stroke-width="0.9" />
<line x1="390.55" y1="349.85" x2="395.25" y2="349.85" stroke="#000" stroke-width="1.45" />
<circle cx="392.9" cy="344.86" r="1.7" fill="#E8232A" stroke="#000" stroke-width="0.5"/>
<circle cx="392.9" cy="342.48" r="1.7" fill="#E8232A" stroke="#000" stroke-width="0.5"/>
<circle cx="392.9" cy="340.1" r="1.7" fill="#E8232A" stroke="#000" stroke-width="0.5"/>
<circle cx="392.9" cy="337.13" r="1.7" fill="#E8232A" stroke="#000" stroke-width="0.5"/>
<circle cx="392.9" cy="330.59" r="1.7" fill="#E8232A" stroke="#000" stroke-width="0.5"/>
<circle cx="392.9" cy="328.8" r="1.7" fill="#E8232A" stroke="#000" stroke-width="0.5"/>
<circle cx="392.9" cy="327.02" r="1.7" fill="#E8232A" stroke="#000" stroke-width="0.5"/>
<line x1="401.41" y1="332.13" x2="401.41" y2="337.13" stroke="#484848" stroke-width="1.35" />
<line x1="401.41" y1="350.8" x2="401.41" y2="350.8" stroke="#484848" stroke-width="1.35" />
<rect x="399.06" y="337.13" width="4.7" height="13.67" fill="#4A9D6C" stroke="#000" stroke-width="0.9" />
<line x1="399.06" y1="347.95" x2="403.76" y2="347.95" stroke="#000" stroke-width="1.45" />
<line x1="406.46" y1="338.91" x2="406.46" y2="344.86" stroke="#484848" stroke-width="1.35" />
<line x1="406.46" y1="350.8" x2="406.46" y2="350.8" stroke="#484848" stroke-width="1.35" />
<rect x="404.11" y="344.86" width="4.7" height="5.94" fill="#E8232A" stroke="#000" stroke-width="0.9" />
<line x1="404.11" y1="347.95" x2="408.81" y2="347.95" stroke="#000" stroke-width="1.45" />
<circle cx="406.46" cy="336.53" r="1.7" fill="#E8232A" stroke="#000" stroke-width="0.5"/>
<circle cx="406.46" cy="332.97" r="1.7" fill="#E8232A" stroke="#000" stroke-width="0.5"/>
<circle cx="406.46" cy="329.4" r="1.7" fill="#E8232A" stroke="#000" stroke-width="0.5"/>
<circle cx="406.46" cy="322.62" r="1.7" fill="#E8232A" stroke="#000" stroke-width="0.5"/>
<circle cx="406.46" cy="309.54" r="1.7" fill="#E8232A" stroke="#000" stroke-width="0.5"/>
<line x1="414.96" y1="347.23" x2="414.96" y2="349.02" stroke="#484848" stroke-width="1.35" />
<line x1="414.96" y1="350.8" x2="414.96" y2="350.8" stroke="#484848" stroke-width="1.35" />
<rect x="412.61" y="349.02" width="4.7" height="1.78" fill="#4A9D6C" stroke="#000" stroke-width="0.9" />
<line x1="412.61" y1="350.21" x2="417.31" y2="350.21" stroke="#000" stroke-width="1.45" />
<circle cx="414.96" cy="342.48" r="1.7" fill="#4A9D6C" stroke="#000" stroke-width="0.5"/>
<line x1="420.01" y1="346.04" x2="420.01" y2="349.02" stroke="#484848" stroke-width="1.35" />
<line x1="420.01" y1="350.8" x2="420.01" y2="350.8" stroke="#484848" stroke-width="1.35" />
<rect x="417.66" y="349.02" width="4.7" height="1.78" fill="#E8232A" stroke="#000" stroke-width="0.9" />
<line x1="417.66" y1="350.21" x2="422.36" y2="350.21" stroke="#000" stroke-width="1.45" />
<circle cx="420.01" cy="344.86" r="1.7" fill="#E8232A" stroke="#000" stroke-width="0.5"/>
<circle cx="420.01" cy="342.48" r="1.7" fill="#E8232A" stroke="#000" stroke-width="0.5"/>
<circle cx="420.01" cy="340.1" r="1.7" fill="#E8232A" stroke="#000" stroke-width="0.5"/>
<circle cx="420.01" cy="338.91" r="1.7" fill="#E8232A" stroke="#000" stroke-width="0.5"/>
<line x1="428.52" y1="326.31" x2="428.52" y2="337.13" stroke="#484848" stroke-width="1.35" />
<line x1="428.52" y1="344.86" x2="428.52" y2="350.8" stroke="#484848" stroke-width="1.35" />
<rect x="426.17" y="337.13" width="4.7" height="7.73" fill="#4A9D6C" stroke="#000" stroke-width="0.9" />
<line x1="426.17" y1="339.27" x2="430.87" y2="339.27" stroke="#000" stroke-width="1.45" />
<line x1="433.57" y1="321.07" x2="433.57" y2="334.15" stroke="#484848" stroke-width="1.35" />
<line x1="433.57" y1="343.67" x2="433.57" y2="350.8" stroke="#484848" stroke-width="1.35" />
<rect x="431.22" y="334.15" width="4.7" height="9.51" fill="#E8232A" stroke="#000" stroke-width="0.9" />
<line x1="431.22" y1="337.13" x2="435.92" y2="337.13" stroke="#000" stroke-width="1.45" />
<circle cx="433.57" cy="319.89" r="1.7" fill="#E8232A" stroke="#000" stroke-width="0.5"/>
<circle cx="433.57" cy="317.51" r="1.7" fill="#E8232A" stroke="#000" stroke-width="0.5"/>
<circle cx="433.57" cy="312.75" r="1.7" fill="#E8232A" stroke="#000" stroke-width="0.5"/>
<line x1="442.08" y1="350.21" x2="442.08" y2="350.44" stroke="#484848" stroke-width="1.35" />
<line x1="442.08" y1="350.8" x2="442.08" y2="350.8" stroke="#484848" stroke-width="1.35" />
<rect x="439.73" y="350.44" width="4.7" height="0.6" fill="#4A9D6C" stroke="#000" stroke-width="0.9" />
<line x1="439.73" y1="350.8" x2="444.43" y2="350.8" stroke="#000" stroke-width="1.45" />
<line x1="447.13" y1="350.21" x2="447.13" y2="350.44" stroke="#484848" stroke-width="1.35" />
<line x1="447.13" y1="350.8" x2="447.13" y2="350.8" stroke="#484848" stroke-width="1.35" />
<rect x="444.78" y="350.44" width="4.7" height="0.6" fill="#E8232A" stroke="#000" stroke-width="0.9" />
<line x1="444.78" y1="350.8" x2="449.48" y2="350.8" stroke="#000" stroke-width="1.45" />
<circle cx="447.13" cy="349.61" r="1.7" fill="#E8232A" stroke="#000" stroke-width="0.5"/>
<line x1="455.64" y1="294.08" x2="455.64" y2="321.79" stroke="#484848" stroke-width="1.35" />
<line x1="455.64" y1="347.71" x2="455.64" y2="350.8" stroke="#484848" stroke-width="1.35" />
<rect x="453.29" y="321.79" width="4.7" height="25.92" fill="#4A9D6C" stroke="#000" stroke-width="0.9" />
<line x1="453.29" y1="336.89" x2="457.99" y2="336.89" stroke="#000" stroke-width="1.45" />
<circle cx="455.64" cy="231.9" r="1.7" fill="#4A9D6C" stroke="#000" stroke-width="0.5"/>
<line x1="460.69" y1="278.27" x2="460.69" y2="316.32" stroke="#484848" stroke-width="1.35" />
<line x1="460.69" y1="345.45" x2="460.69" y2="350.8" stroke="#484848" stroke-width="1.35" />
<rect x="458.34" y="316.32" width="4.7" height="29.13" fill="#E8232A" stroke="#000" stroke-width="0.9" />
<line x1="458.34" y1="337.48" x2="463.04" y2="337.48" stroke="#000" stroke-width="1.45" />
<circle cx="460.69" cy="272.33" r="1.7" fill="#E8232A" stroke="#000" stroke-width="0.5"/>
<circle cx="460.69" cy="268.76" r="1.7" fill="#E8232A" stroke="#000" stroke-width="0.5"/>
<circle cx="460.69" cy="265.19" r="1.7" fill="#E8232A" stroke="#000" stroke-width="0.5"/>
<circle cx="460.69" cy="261.62" r="1.7" fill="#E8232A" stroke="#000" stroke-width="0.5"/>
<circle cx="460.69" cy="255.68" r="1.7" fill="#E8232A" stroke="#000" stroke-width="0.5"/>
<circle cx="460.69" cy="236.3" r="1.7" fill="#E8232A" stroke="#000" stroke-width="0.5"/>
<line x1="469.19" y1="318.1" x2="469.19" y2="333.2" stroke="#484848" stroke-width="1.35" />
<line x1="469.19" y1="345.45" x2="469.19" y2="349.61" stroke="#484848" stroke-width="1.35" />
<rect x="466.84" y="333.2" width="4.7" height="12.25" fill="#4A9D6C" stroke="#000" stroke-width="0.9" />
<line x1="466.84" y1="339.86" x2="471.54" y2="339.86" stroke="#000" stroke-width="1.45" />
<circle cx="469.19" cy="312.75" r="1.7" fill="#4A9D6C" stroke="#000" stroke-width="0.5"/>
<line x1="474.24" y1="325.83" x2="474.24" y2="337.48" stroke="#484848" stroke-width="1.35" />
<line x1="474.24" y1="347.71" x2="474.24" y2="350.8" stroke="#484848" stroke-width="1.35" />
<rect x="471.89" y="337.48" width="4.7" height="10.23" fill="#E8232A" stroke="#000" stroke-width="0.9" />
<line x1="471.89" y1="343.9" x2="476.59" y2="343.9" stroke="#000" stroke-width="1.45" />
<circle cx="474.24" cy="321.07" r="1.7" fill="#E8232A" stroke="#000" stroke-width="0.5"/>
<circle cx="474.24" cy="316.32" r="1.7" fill="#E8232A" stroke="#000" stroke-width="0.5"/>
<circle cx="474.24" cy="301.46" r="1.7" fill="#E8232A" stroke="#000" stroke-width="0.5"/>
<line x1="482.75" y1="311.09" x2="482.75" y2="324.05" stroke="#484848" stroke-width="1.35" />
<line x1="482.75" y1="343.67" x2="482.75" y2="350.8" stroke="#484848" stroke-width="1.35" />
<rect x="480.4" y="324.05" width="4.7" height="19.62" fill="#4A9D6C" stroke="#000" stroke-width="0.9" />
<line x1="480.4" y1="336.53" x2="485.1" y2="336.53" stroke="#000" stroke-width="1.45" />
<circle cx="482.75" cy="284.22" r="1.7" fill="#4A9D6C" stroke="#000" stroke-width="0.5"/>
<circle cx="482.75" cy="281.84" r="1.7" fill="#4A9D6C" stroke="#000" stroke-width="0.5"/>
<line x1="487.8" y1="312.75" x2="487.8" y2="330.59" stroke="#484848" stroke-width="1.35" />
<line x1="487.8" y1="343.67" x2="487.8" y2="350.8" stroke="#484848" stroke-width="1.35" />
<rect x="485.45" y="330.59" width="4.7" height="13.08" fill="#E8232A" stroke="#000" stroke-width="0.9" />
<line x1="485.45" y1="336.89" x2="490.15" y2="336.89" stroke="#000" stroke-width="1.45" />
<circle cx="487.8" cy="310.37" r="1.7" fill="#E8232A" stroke="#000" stroke-width="0.5"/>
<circle cx="487.8" cy="306.81" r="1.7" fill="#E8232A" stroke="#000" stroke-width="0.5"/>
<circle cx="487.8" cy="304.43" r="1.7" fill="#E8232A" stroke="#000" stroke-width="0.5"/>
<circle cx="487.8" cy="300.86" r="1.7" fill="#E8232A" stroke="#000" stroke-width="0.5"/>
<circle cx="487.8" cy="297.3" r="1.7" fill="#E8232A" stroke="#000" stroke-width="0.5"/>
<circle cx="487.8" cy="246.88" r="1.7" fill="#E8232A" stroke="#000" stroke-width="0.5"/>
<line x1="496.31" y1="334.39" x2="496.31" y2="339.39" stroke="#484848" stroke-width="1.35" />
<line x1="496.31" y1="349.14" x2="496.31" y2="350.8" stroke="#484848" stroke-width="1.35" />
<rect x="493.96" y="339.39" width="4.7" height="9.75" fill="#4A9D6C" stroke="#000" stroke-width="0.9" />
<line x1="493.96" y1="344.38" x2="498.66" y2="344.38" stroke="#000" stroke-width="1.45" />
<circle cx="496.31" cy="317.51" r="1.7" fill="#4A9D6C" stroke="#000" stroke-width="0.5"/>
<circle cx="496.31" cy="315.13" r="1.7" fill="#4A9D6C" stroke="#000" stroke-width="0.5"/>
<line x1="501.36" y1="319.89" x2="501.36" y2="336.18" stroke="#484848" stroke-width="1.35" />
<line x1="501.36" y1="349.14" x2="501.36" y2="350.8" stroke="#484848" stroke-width="1.35" />
<rect x="499.01" y="336.18" width="4.7" height="12.96" fill="#E8232A" stroke="#000" stroke-width="0.9" />
<line x1="499.01" y1="345.81" x2="503.71" y2="345.81" stroke="#000" stroke-width="1.45" />
<circle cx="501.36" cy="298.48" r="1.7" fill="#E8232A" stroke="#000" stroke-width="0.5"/>
<circle cx="501.36" cy="290.16" r="1.7" fill="#E8232A" stroke="#000" stroke-width="0.5"/>
<circle cx="501.36" cy="277.08" r="1.7" fill="#E8232A" stroke="#000" stroke-width="0.5"/>
<line x1="509.86" y1="344.86" x2="509.86" y2="347.23" stroke="#484848" stroke-width="1.35" />
<line x1="509.86" y1="350.8" x2="509.86" y2="350.8" stroke="#484848" stroke-width="1.35" />
<rect x="507.51" y="347.23" width="4.7" height="3.57" fill="#4A9D6C" stroke="#000" stroke-width="0.9" />
<line x1="507.51" y1="349.61" x2="512.21" y2="349.61" stroke="#000" stroke-width="1.45" />
<circle cx="509.86" cy="339.86" r="1.7" fill="#4A9D6C" stroke="#000" stroke-width="0.5"/>
<circle cx="509.86" cy="332.97" r="1.7" fill="#4A9D6C" stroke="#000" stroke-width="0.5"/>
<line x1="514.91" y1="338.91" x2="514.91" y2="346.04" stroke="#484848" stroke-width="1.35" />
<line x1="514.91" y1="350.8" x2="514.91" y2="350.8" stroke="#484848" stroke-width="1.35" />
<rect x="512.56" y="346.04" width="4.7" height="4.76" fill="#E8232A" stroke="#000" stroke-width="0.9" />
<line x1="512.56" y1="349.61" x2="517.26" y2="349.61" stroke="#000" stroke-width="1.45" />
<circle cx="514.91" cy="336.53" r="1.7" fill="#E8232A" stroke="#000" stroke-width="0.5"/>
<circle cx="514.91" cy="334.15" r="1.7" fill="#E8232A" stroke="#000" stroke-width="0.5"/>
<circle cx="514.91" cy="331.78" r="1.7" fill="#E8232A" stroke="#000" stroke-width="0.5"/>
<circle cx="514.91" cy="329.4" r="1.7" fill="#E8232A" stroke="#000" stroke-width="0.5"/>
<circle cx="514.91" cy="327.02" r="1.7" fill="#E8232A" stroke="#000" stroke-width="0.5"/>
<circle cx="514.91" cy="324.64" r="1.7" fill="#E8232A" stroke="#000" stroke-width="0.5"/>
<circle cx="514.91" cy="321.07" r="1.7" fill="#E8232A" stroke="#000" stroke-width="0.5"/>
<line x1="523.42" y1="344.86" x2="523.42" y2="347.71" stroke="#484848" stroke-width="1.35" />
<line x1="523.42" y1="350.8" x2="523.42" y2="350.8" stroke="#484848" stroke-width="1.35" />
<rect x="521.07" y="347.71" width="4.7" height="3.09" fill="#4A9D6C" stroke="#000" stroke-width="0.9" />
<line x1="521.07" y1="349.61" x2="525.77" y2="349.61" stroke="#000" stroke-width="1.45" />
<circle cx="523.42" cy="337.72" r="1.7" fill="#4A9D6C" stroke="#000" stroke-width="0.5"/>
<circle cx="523.42" cy="335.34" r="1.7" fill="#4A9D6C" stroke="#000" stroke-width="0.5"/>
<circle cx="523.42" cy="330.59" r="1.7" fill="#4A9D6C" stroke="#000" stroke-width="0.5"/>
<line x1="528.47" y1="340.1" x2="528.47" y2="345.45" stroke="#484848" stroke-width="1.35" />
<line x1="528.47" y1="350.8" x2="528.47" y2="350.8" stroke="#484848" stroke-width="1.35" />
<rect x="526.12" y="345.45" width="4.7" height="5.35" fill="#E8232A" stroke="#000" stroke-width="0.9" />
<line x1="526.12" y1="348.07" x2="530.82" y2="348.07" stroke="#000" stroke-width="1.45" />
<circle cx="528.47" cy="336.53" r="1.7" fill="#E8232A" stroke="#000" stroke-width="0.5"/>
<circle cx="528.47" cy="334.15" r="1.7" fill="#E8232A" stroke="#000" stroke-width="0.5"/>
<circle cx="528.47" cy="331.78" r="1.7" fill="#E8232A" stroke="#000" stroke-width="0.5"/>
<circle cx="528.47" cy="328.21" r="1.7" fill="#E8232A" stroke="#000" stroke-width="0.5"/>
<line x1="536.98" y1="336.53" x2="536.98" y2="341.29" stroke="#484848" stroke-width="1.35" />
<line x1="536.98" y1="347.71" x2="536.98" y2="350.8" stroke="#484848" stroke-width="1.35" />
<rect x="534.63" y="341.29" width="4.7" height="6.42" fill="#4A9D6C" stroke="#000" stroke-width="0.9" />
<line x1="534.63" y1="343.67" x2="539.33" y2="343.67" stroke="#000" stroke-width="1.45" />
<circle cx="536.98" cy="297.3" r="1.7" fill="#4A9D6C" stroke="#000" stroke-width="0.5"/>
<circle cx="536.98" cy="287.78" r="1.7" fill="#4A9D6C" stroke="#000" stroke-width="0.5"/>
<circle cx="536.98" cy="275.89" r="1.7" fill="#4A9D6C" stroke="#000" stroke-width="0.5"/>
<circle cx="536.98" cy="269.95" r="1.7" fill="#4A9D6C" stroke="#000" stroke-width="0.5"/>
<line x1="542.03" y1="278.27" x2="542.03" y2="316.56" stroke="#484848" stroke-width="1.35" />
<line x1="542.03" y1="344.38" x2="542.03" y2="350.8" stroke="#484848" stroke-width="1.35" />
<rect x="539.68" y="316.56" width="4.7" height="27.82" fill="#E8232A" stroke="#000" stroke-width="0.9" />
<line x1="539.68" y1="336.53" x2="544.38" y2="336.53" stroke="#000" stroke-width="1.45" />
<circle cx="542.03" cy="261.62" r="1.7" fill="#E8232A" stroke="#000" stroke-width="0.5"/>
<line x1="550.53" y1="335.11" x2="550.53" y2="341.29" stroke="#484848" stroke-width="1.35" />
<line x1="550.53" y1="349.85" x2="550.53" y2="350.8" stroke="#484848" stroke-width="1.35" />
<rect x="548.18" y="341.29" width="4.7" height="8.56" fill="#4A9D6C" stroke="#000" stroke-width="0.9" />
<line x1="548.18" y1="346.76" x2="552.88" y2="346.76" stroke="#000" stroke-width="1.45" />
<line x1="555.58" y1="332.97" x2="555.58" y2="343.07" stroke="#484848" stroke-width="1.35" />
<line x1="555.58" y1="350.8" x2="555.58" y2="350.8" stroke="#484848" stroke-width="1.35" />
<rect x="553.23" y="343.07" width="4.7" height="7.73" fill="#E8232A" stroke="#000" stroke-width="0.9" />
<line x1="553.23" y1="347.23" x2="557.93" y2="347.23" stroke="#000" stroke-width="1.45" />
<line x1="564.09" y1="349.61" x2="564.09" y2="349.85" stroke="#484848" stroke-width="1.35" />
<line x1="564.09" y1="350.8" x2="564.09" y2="350.8" stroke="#484848" stroke-width="1.35" />
<rect x="561.74" y="349.85" width="4.7" height="0.95" fill="#4A9D6C" stroke="#000" stroke-width="0.9" />
<line x1="561.74" y1="350.44" x2="566.44" y2="350.44" stroke="#000" stroke-width="1.45" />
<circle cx="564.09" cy="341.29" r="1.7" fill="#4A9D6C" stroke="#000" stroke-width="0.5"/>
<line x1="569.14" y1="349.61" x2="569.14" y2="349.85" stroke="#484848" stroke-width="1.35" />
<line x1="569.14" y1="350.8" x2="569.14" y2="350.8" stroke="#484848" stroke-width="1.35" />
<rect x="566.79" y="349.85" width="4.7" height="0.95" fill="#E8232A" stroke="#000" stroke-width="0.9" />
<line x1="566.79" y1="350.44" x2="571.49" y2="350.44" stroke="#000" stroke-width="1.45" />
<circle cx="569.14" cy="348.42" r="1.7" fill="#E8232A" stroke="#000" stroke-width="0.5"/>
<circle cx="569.14" cy="346.04" r="1.7" fill="#E8232A" stroke="#000" stroke-width="0.5"/>
<circle cx="569.14" cy="343.67" r="1.7" fill="#E8232A" stroke="#000" stroke-width="0.5"/>
<circle cx="569.14" cy="341.29" r="1.7" fill="#E8232A" stroke="#000" stroke-width="0.5"/>
<circle cx="569.14" cy="338.91" r="1.7" fill="#E8232A" stroke="#000" stroke-width="0.5"/>
<circle cx="569.14" cy="334.75" r="1.7" fill="#E8232A" stroke="#000" stroke-width="0.5"/>
<line x1="577.65" y1="321.79" x2="577.65" y2="333.2" stroke="#484848" stroke-width="1.35" />
<line x1="577.65" y1="343.67" x2="577.65" y2="350.8" stroke="#484848" stroke-width="1.35" />
<rect x="575.3" y="333.2" width="4.7" height="10.46" fill="#4A9D6C" stroke="#000" stroke-width="0.9" />
<line x1="575.3" y1="338.43" x2="580" y2="338.43" stroke="#000" stroke-width="1.45" />
<circle cx="577.65" cy="312.75" r="1.7" fill="#4A9D6C" stroke="#000" stroke-width="0.5"/>
<line x1="582.7" y1="319.89" x2="582.7" y2="333.2" stroke="#484848" stroke-width="1.35" />
<line x1="582.7" y1="343.67" x2="582.7" y2="350.8" stroke="#484848" stroke-width="1.35" />
<rect x="580.35" y="333.2" width="4.7" height="10.46" fill="#E8232A" stroke="#000" stroke-width="0.9" />
<line x1="580.35" y1="338.43" x2="585.05" y2="338.43" stroke="#000" stroke-width="1.45" />
<circle cx="582.7" cy="306.81" r="1.7" fill="#E8232A" stroke="#000" stroke-width="0.5"/>
<circle cx="582.7" cy="265.91" r="1.7" fill="#E8232A" stroke="#000" stroke-width="0.5"/>
<line x1="591.2" y1="347.23" x2="591.2" y2="349.02" stroke="#484848" stroke-width="1.35" />
<line x1="591.2" y1="350.8" x2="591.2" y2="350.8" stroke="#484848" stroke-width="1.35" />
<rect x="588.85" y="349.02" width="4.7" height="1.78" fill="#4A9D6C" stroke="#000" stroke-width="0.9" />
<line x1="588.85" y1="350.21" x2="593.55" y2="350.21" stroke="#000" stroke-width="1.45" />
<circle cx="591.2" cy="344.86" r="1.7" fill="#4A9D6C" stroke="#000" stroke-width="0.5"/>
<circle cx="591.2" cy="343.07" r="1.7" fill="#4A9D6C" stroke="#000" stroke-width="0.5"/>
<circle cx="591.2" cy="341.29" r="1.7" fill="#4A9D6C" stroke="#000" stroke-width="0.5"/>
<line x1="596.25" y1="348.42" x2="596.25" y2="349.61" stroke="#484848" stroke-width="1.35" />
<line x1="596.25" y1="350.8" x2="596.25" y2="350.8" stroke="#484848" stroke-width="1.35" />
<rect x="593.9" y="349.61" width="4.7" height="1.19" fill="#E8232A" stroke="#000" stroke-width="0.9" />
<line x1="593.9" y1="350.21" x2="598.61" y2="350.21" stroke="#000" stroke-width="1.45" />
<circle cx="596.25" cy="347.23" r="1.7" fill="#E8232A" stroke="#000" stroke-width="0.5"/>
<line x1="604.76" y1="346.04" x2="604.76" y2="347.71" stroke="#484848" stroke-width="1.35" />
<line x1="604.76" y1="350.8" x2="604.76" y2="350.8" stroke="#484848" stroke-width="1.35" />
<rect x="602.41" y="347.71" width="4.7" height="3.09" fill="#4A9D6C" stroke="#000" stroke-width="0.9" />
<line x1="602.41" y1="349.61" x2="607.11" y2="349.61" stroke="#000" stroke-width="1.45" />
<circle cx="604.76" cy="339.39" r="1.7" fill="#4A9D6C" stroke="#000" stroke-width="0.5"/>
<circle cx="604.76" cy="335.34" r="1.7" fill="#4A9D6C" stroke="#000" stroke-width="0.5"/>
<circle cx="604.76" cy="331.06" r="1.7" fill="#4A9D6C" stroke="#000" stroke-width="0.5"/>
<line x1="609.81" y1="342.48" x2="609.81" y2="346.76" stroke="#484848" stroke-width="1.35" />
<line x1="609.81" y1="350.8" x2="609.81" y2="350.8" stroke="#484848" stroke-width="1.35" />
<rect x="607.46" y="346.76" width="4.7" height="4.04" fill="#E8232A" stroke="#000" stroke-width="0.9" />
<line x1="607.46" y1="349.61" x2="612.16" y2="349.61" stroke="#000" stroke-width="1.45" />
<circle cx="609.81" cy="341.29" r="1.7" fill="#E8232A" stroke="#000" stroke-width="0.5"/>
<circle cx="609.81" cy="338.91" r="1.7" fill="#E8232A" stroke="#000" stroke-width="0.5"/>
<circle cx="609.81" cy="336.53" r="1.7" fill="#E8232A" stroke="#000" stroke-width="0.5"/>
<circle cx="609.81" cy="334.15" r="1.7" fill="#E8232A" stroke="#000" stroke-width="0.5"/>
<circle cx="609.81" cy="331.78" r="1.7" fill="#E8232A" stroke="#000" stroke-width="0.5"/>
<circle cx="609.81" cy="329.4" r="1.7" fill="#E8232A" stroke="#000" stroke-width="0.5"/>
<circle cx="609.81" cy="327.02" r="1.7" fill="#E8232A" stroke="#000" stroke-width="0.5"/>
<circle cx="609.81" cy="321.43" r="1.7" fill="#E8232A" stroke="#000" stroke-width="0.5"/>
<line x1="618.32" y1="349.61" x2="618.32" y2="350.21" stroke="#484848" stroke-width="1.35" />
<line x1="618.32" y1="350.8" x2="618.32" y2="350.8" stroke="#484848" stroke-width="1.35" />
<rect x="615.97" y="350.21" width="4.7" height="0.6" fill="#4A9D6C" stroke="#000" stroke-width="0.9" />
<line x1="615.97" y1="350.8" x2="620.67" y2="350.8" stroke="#000" stroke-width="1.45" />
<circle cx="618.32" cy="346.4" r="1.7" fill="#4A9D6C" stroke="#000" stroke-width="0.5"/>
<circle cx="618.32" cy="313.47" r="1.7" fill="#4A9D6C" stroke="#000" stroke-width="0.5"/>
<line x1="623.37" y1="347.23" x2="623.37" y2="349.61" stroke="#484848" stroke-width="1.35" />
<line x1="623.37" y1="350.8" x2="623.37" y2="350.8" stroke="#484848" stroke-width="1.35" />
<rect x="621.02" y="349.61" width="4.7" height="1.19" fill="#E8232A" stroke="#000" stroke-width="0.9" />
<line x1="621.02" y1="350.44" x2="625.72" y2="350.44" stroke="#000" stroke-width="1.45" />
<circle cx="623.37" cy="346.04" r="1.7" fill="#E8232A" stroke="#000" stroke-width="0.5"/>
<circle cx="623.37" cy="343.67" r="1.7" fill="#E8232A" stroke="#000" stroke-width="0.5"/>
<circle cx="623.37" cy="341.29" r="1.7" fill="#E8232A" stroke="#000" stroke-width="0.5"/>
<circle cx="623.37" cy="338.91" r="1.7" fill="#E8232A" stroke="#000" stroke-width="0.5"/>
<circle cx="623.37" cy="336.53" r="1.7" fill="#E8232A" stroke="#000" stroke-width="0.5"/>
<circle cx="623.37" cy="334.15" r="1.7" fill="#E8232A" stroke="#000" stroke-width="0.5"/>
<circle cx="623.37" cy="315.84" r="1.7" fill="#E8232A" stroke="#000" stroke-width="0.5"/>
<circle cx="623.37" cy="269.12" r="1.7" fill="#E8232A" stroke="#000" stroke-width="0.5"/>
<line x1="631.88" y1="288.5" x2="631.88" y2="308.47" stroke="#484848" stroke-width="1.35" />
<line x1="631.88" y1="325.83" x2="631.88" y2="341.29" stroke="#484848" stroke-width="1.35" />
<rect x="629.53" y="308.47" width="4.7" height="17.36" fill="#4A9D6C" stroke="#000" stroke-width="0.9" />
<line x1="629.53" y1="314.42" x2="634.23" y2="314.42" stroke="#000" stroke-width="1.45" />
<line x1="636.93" y1="284.45" x2="636.93" y2="310.37" stroke="#484848" stroke-width="1.35" />
<line x1="636.93" y1="328.21" x2="636.93" y2="350.8" stroke="#484848" stroke-width="1.35" />
<rect x="634.58" y="310.37" width="4.7" height="17.83" fill="#E8232A" stroke="#000" stroke-width="0.9" />
<line x1="634.58" y1="320.84" x2="639.28" y2="320.84" stroke="#000" stroke-width="1.45" />
<circle cx="636.93" cy="268.16" r="1.7" fill="#E8232A" stroke="#000" stroke-width="0.5"/>
<line x1="645.43" y1="314.77" x2="645.43" y2="327.38" stroke="#484848" stroke-width="1.35" />
<line x1="645.43" y1="339.39" x2="645.43" y2="348.42" stroke="#484848" stroke-width="1.35" />
<rect x="643.08" y="327.38" width="4.7" height="12.01" fill="#4A9D6C" stroke="#000" stroke-width="0.9" />
<line x1="643.08" y1="332.97" x2="647.78" y2="332.97" stroke="#000" stroke-width="1.45" />
<line x1="650.48" y1="315.84" x2="650.48" y2="329.16" stroke="#484848" stroke-width="1.35" />
<line x1="650.48" y1="339.86" x2="650.48" y2="350.8" stroke="#484848" stroke-width="1.35" />
<rect x="648.13" y="329.16" width="4.7" height="10.7" fill="#E8232A" stroke="#000" stroke-width="0.9" />
<line x1="648.13" y1="335.11" x2="652.83" y2="335.11" stroke="#000" stroke-width="1.45" />
<circle cx="650.48" cy="308" r="1.7" fill="#E8232A" stroke="#000" stroke-width="0.5"/>
<line x1="658.99" y1="331.89" x2="658.99" y2="343.07" stroke="#484848" stroke-width="1.35" />
<line x1="658.99" y1="350.8" x2="658.99" y2="350.8" stroke="#484848" stroke-width="1.35" />
<rect x="656.64" y="343.07" width="4.7" height="7.73" fill="#4A9D6C" stroke="#000" stroke-width="0.9" />
<line x1="656.64" y1="348.66" x2="661.34" y2="348.66" stroke="#000" stroke-width="1.45" />
<line x1="664.04" y1="336.53" x2="664.04" y2="344.86" stroke="#484848" stroke-width="1.35" />
<line x1="664.04" y1="350.8" x2="664.04" y2="350.8" stroke="#484848" stroke-width="1.35" />
<rect x="661.69" y="344.86" width="4.7" height="5.94" fill="#E8232A" stroke="#000" stroke-width="0.9" />
<line x1="661.69" y1="347.71" x2="666.39" y2="347.71" stroke="#000" stroke-width="1.45" />
<circle cx="664.04" cy="334.75" r="1.7" fill="#E8232A" stroke="#000" stroke-width="0.5"/>
<circle cx="664.04" cy="333.32" r="1.7" fill="#E8232A" stroke="#000" stroke-width="0.5"/>
<circle cx="664.04" cy="331.89" r="1.7" fill="#E8232A" stroke="#000" stroke-width="0.5"/>
<line x1="672.55" y1="328.21" x2="672.55" y2="336.18" stroke="#484848" stroke-width="1.35" />
<line x1="672.55" y1="343.67" x2="672.55" y2="345.81" stroke="#484848" stroke-width="1.35" />
<rect x="670.2" y="336.18" width="4.7" height="7.49" fill="#4A9D6C" stroke="#000" stroke-width="0.9" />
<line x1="670.2" y1="339.86" x2="674.9" y2="339.86" stroke="#000" stroke-width="1.45" />
<line x1="677.6" y1="321.79" x2="677.6" y2="331.89" stroke="#484848" stroke-width="1.35" />
<line x1="677.6" y1="341.17" x2="677.6" y2="350.8" stroke="#484848" stroke-width="1.35" />
<rect x="675.25" y="331.89" width="4.7" height="9.27" fill="#E8232A" stroke="#000" stroke-width="0.9" />
<line x1="675.25" y1="335.11" x2="679.95" y2="335.11" stroke="#000" stroke-width="1.45" />
<circle cx="677.6" cy="313.47" r="1.7" fill="#E8232A" stroke="#000" stroke-width="0.5"/>
<circle cx="677.6" cy="302.05" r="1.7" fill="#E8232A" stroke="#000" stroke-width="0.5"/>
<rect x="382.2" y="226.3" width="300.8" height="130" fill="none" stroke="#6A6A6A" stroke-width="1" />
<line x1="379.8" y1="350.8" x2="382.2" y2="350.8" stroke="#222" stroke-width="1" />
<text x="378.6" y="353.3" font-family="'Liberation Sans', sans-serif" font-size="7.2" fill="#4D4D4D" text-anchor="end">0.00</text>
<line x1="379.8" y1="321.07" x2="382.2" y2="321.07" stroke="#222" stroke-width="1" />
<text x="378.6" y="323.57" font-family="'Liberation Sans', sans-serif" font-size="7.2" fill="#4D4D4D" text-anchor="end">0.25</text>
<line x1="379.8" y1="291.35" x2="382.2" y2="291.35" stroke="#222" stroke-width="1" />
<text x="378.6" y="293.85" font-family="'Liberation Sans', sans-serif" font-size="7.2" fill="#4D4D4D" text-anchor="end">0.50</text>
<line x1="379.8" y1="261.62" x2="382.2" y2="261.62" stroke="#222" stroke-width="1" />
<text x="378.6" y="264.12" font-family="'Liberation Sans', sans-serif" font-size="7.2" fill="#4D4D4D" text-anchor="end">0.75</text>
<line x1="379.8" y1="231.9" x2="382.2" y2="231.9" stroke="#222" stroke-width="1" />
<text x="378.6" y="234.4" font-family="'Liberation Sans', sans-serif" font-size="7.2" fill="#4D4D4D" text-anchor="end">1.00</text>
<line x1="390.3" y1="356.3" x2="390.3" y2="358.7" stroke="#222" stroke-width="1" />
<line x1="403.86" y1="356.3" x2="403.86" y2="358.7" stroke="#222" stroke-width="1" />
<line x1="417.41" y1="356.3" x2="417.41" y2="358.7" stroke="#222" stroke-width="1" />
<line x1="430.97" y1="356.3" x2="430.97" y2="358.7" stroke="#222" stroke-width="1" />
<line x1="444.53" y1="356.3" x2="444.53" y2="358.7" stroke="#222" stroke-width="1" />
<line x1="458.09" y1="356.3" x2="458.09" y2="358.7" stroke="#222" stroke-width="1" />
<line x1="471.64" y1="356.3" x2="471.64" y2="358.7" stroke="#222" stroke-width="1" />
<line x1="485.2" y1="356.3" x2="485.2" y2="358.7" stroke="#222" stroke-width="1" />
<line x1="498.76" y1="356.3" x2="498.76" y2="358.7" stroke="#222" stroke-width="1" />
<line x1="512.31" y1="356.3" x2="512.31" y2="358.7" stroke="#222" stroke-width="1" />
<line x1="525.87" y1="356.3" x2="525.87" y2="358.7" stroke="#222" stroke-width="1" />
<line x1="539.43" y1="356.3" x2="539.43" y2="358.7" stroke="#222" stroke-width="1" />
<line x1="552.98" y1="356.3" x2="552.98" y2="358.7" stroke="#222" stroke-width="1" />
<line x1="566.54" y1="356.3" x2="566.54" y2="358.7" stroke="#222" stroke-width="1" />
<line x1="580.1" y1="356.3" x2="580.1" y2="358.7" stroke="#222" stroke-width="1" />
<line x1="593.65" y1="356.3" x2="593.65" y2="358.7" stroke="#222" stroke-width="1" />
<line x1="607.21" y1="356.3" x2="607.21" y2="358.7" stroke="#222" stroke-width="1" />
<line x1="620.77" y1="356.3" x2="620.77" y2="358.7" stroke="#222" stroke-width="1" />
<line x1="634.33" y1="356.3" x2="634.33" y2="358.7" stroke="#222" stroke-width="1" />
<line x1="647.88" y1="356.3" x2="647.88" y2="358.7" stroke="#222" stroke-width="1" />
<line x1="661.44" y1="356.3" x2="661.44" y2="358.7" stroke="#222" stroke-width="1" />
<line x1="675" y1="356.3" x2="675" y2="358.7" stroke="#222" stroke-width="1" />
<text x="472" y="231.9" font-family="'Liberation Sans', sans-serif" font-size="6.6" fill="#111" text-anchor="middle" letter-spacing="0.5">*</text>
<text x="540" y="231.9" font-family="'Liberation Sans', sans-serif" font-size="6.6" fill="#111" text-anchor="middle" letter-spacing="0.5">**</text>
<text x="590" y="231.9" font-family="'Liberation Sans', sans-serif" font-size="6.6" fill="#111" text-anchor="middle" letter-spacing="0.5">***</text>
<text x="673.5" y="231.9" font-family="'Liberation Sans', sans-serif" font-size="6.6" fill="#111" text-anchor="middle" letter-spacing="0.5">**</text>
<text x="359.5" y="298.5" font-family="'Liberation Sans', sans-serif" font-size="10.2" fill="#111" text-anchor="middle" transform="rotate(-90 359.5 298.5)" textLength="97" lengthAdjust="spacingAndGlyphs">Estimated proportion</text>
<text x="9.6" y="15.8" font-family="'Liberation Sans', sans-serif" font-size="17" fill="#000" font-weight="bold">a)</text>
<text x="374.9" y="15.8" font-family="'Liberation Sans', sans-serif" font-size="17" fill="#000" font-weight="bold">b)</text>
<text x="9.3" y="216.6" font-family="'Liberation Sans', sans-serif" font-size="17" fill="#000" font-weight="bold">c)</text>
<text x="374.2" y="211.6" font-family="'Liberation Sans', sans-serif" font-size="17" fill="#000" font-weight="bold">d)</text>
<text x="9.3" y="415" font-family="'Liberation Sans', sans-serif" font-size="17" fill="#000" font-weight="bold">e)</text>
<text x="168.6" y="414.6" font-family="'Liberation Sans', sans-serif" font-size="17" fill="#000" font-weight="bold">f)</text>
<text x="507.8" y="413.6" font-family="'Liberation Sans', sans-serif" font-size="17" fill="#000" font-weight="bold">h)</text>
<text x="12.8" y="580.7" font-family="'Liberation Sans', sans-serif" font-size="17" fill="#000" font-weight="bold">i)</text>
<text x="251.6" y="583.4" font-family="'Liberation Sans', sans-serif" font-size="17" fill="#000" font-weight="bold">j)</text>
<text x="468.7" y="580.9" font-family="'Liberation Sans', sans-serif" font-size="17" fill="#000" font-weight="bold">k)</text>
<text x="331.6" y="411" font-family="'Liberation Serif', serif" font-size="17" fill="#000" font-weight="bold">g)</text>
<line x1="129.3" y1="0.6" x2="129.3" y2="11.1" stroke="#000" stroke-width="0.8" />
<rect x="124.3" y="2.4" width="10" height="7" fill="#4A9D6C" stroke="#000" stroke-width="1" />
<line x1="124.3" y1="5.9" x2="134.3" y2="5.9" stroke="#000" stroke-width="1" />
<text x="140" y="8.2" font-family="'Liberation Sans', sans-serif" font-size="7.6" fill="#333" textLength="13" lengthAdjust="spacingAndGlyphs">pCR</text>
<line x1="216.2" y1="0.6" x2="216.2" y2="11.1" stroke="#000" stroke-width="0.8" />
<rect x="211.2" y="2.4" width="10" height="7" fill="#E8232A" stroke="#000" stroke-width="1" />
<line x1="211.2" y1="5.9" x2="221.2" y2="5.9" stroke="#000" stroke-width="1" />
<text x="226.8" y="8.2" font-family="'Liberation Sans', sans-serif" font-size="7.6" fill="#333" textLength="26.5" lengthAdjust="spacingAndGlyphs">non-pCR</text>
<line x1="483" y1="0.8" x2="483" y2="11.3" stroke="#000" stroke-width="0.8" />
<rect x="478" y="2.6" width="10" height="7" fill="#4A9D6C" stroke="#000" stroke-width="1" />
<line x1="478" y1="6.1" x2="488" y2="6.1" stroke="#000" stroke-width="1" />
<text x="496.2" y="8.4" font-family="'Liberation Sans', sans-serif" font-size="7.6" fill="#333" textLength="13" lengthAdjust="spacingAndGlyphs">pCR</text>
<line x1="556.5" y1="0.8" x2="556.5" y2="11.3" stroke="#000" stroke-width="0.8" />
<rect x="551.5" y="2.6" width="10" height="7" fill="#E8232A" stroke="#000" stroke-width="1" />
<line x1="551.5" y1="6.1" x2="561.5" y2="6.1" stroke="#000" stroke-width="1" />
<text x="568.6" y="8.4" font-family="'Liberation Sans', sans-serif" font-size="7.6" fill="#333" textLength="26.5" lengthAdjust="spacingAndGlyphs">non-pCR</text>
<line x1="131.2" y1="204" x2="131.2" y2="214.5" stroke="#000" stroke-width="0.8" />
<rect x="126.2" y="205.8" width="10" height="7" fill="#4A9D6C" stroke="#000" stroke-width="1" />
<line x1="126.2" y1="209.3" x2="136.2" y2="209.3" stroke="#000" stroke-width="1" />
<text x="142.3" y="211.6" font-family="'Liberation Sans', sans-serif" font-size="7.6" fill="#333" textLength="13" lengthAdjust="spacingAndGlyphs">pCR</text>
<line x1="215.9" y1="201.5" x2="215.9" y2="212" stroke="#000" stroke-width="0.8" />
<rect x="210.9" y="203.3" width="10" height="7" fill="#E8232A" stroke="#000" stroke-width="1" />
<line x1="210.9" y1="206.8" x2="220.9" y2="206.8" stroke="#000" stroke-width="1" />
<text x="226.4" y="210.3" font-family="'Liberation Sans', sans-serif" font-size="7.6" fill="#333" textLength="26.5" lengthAdjust="spacingAndGlyphs">non-pCR</text>
<line x1="488.5" y1="200.5" x2="488.5" y2="211" stroke="#000" stroke-width="0.8" />
<rect x="483.5" y="202.3" width="10" height="7" fill="#4A9D6C" stroke="#000" stroke-width="1" />
<line x1="483.5" y1="205.8" x2="493.5" y2="205.8" stroke="#000" stroke-width="1" />
<text x="500" y="208.1" font-family="'Liberation Sans', sans-serif" font-size="7.6" fill="#333" textLength="13" lengthAdjust="spacingAndGlyphs">pCR</text>
<line x1="586.5" y1="200.5" x2="586.5" y2="211" stroke="#000" stroke-width="0.8" />
<rect x="581.5" y="202.3" width="10" height="7" fill="#E8232A" stroke="#000" stroke-width="1" />
<line x1="581.5" y1="205.8" x2="591.5" y2="205.8" stroke="#000" stroke-width="1" />
<text x="598" y="208.1" font-family="'Liberation Sans', sans-serif" font-size="7.6" fill="#333" textLength="26.5" lengthAdjust="spacingAndGlyphs">non-pCR</text>
<text x="59.9" y="168.6" font-family="'Liberation Serif', serif" font-size="8.2" fill="#222" textLength="10" lengthAdjust="spacingAndGlyphs">Tfh</text>
<rect x="71.5" y="161.8" width="15.8" height="10.8" fill="none" stroke="#E8232A" stroke-width="1.1" />
<text x="73.2" y="169.3" font-family="'Liberation Serif', serif" font-size="7.6" fill="#222" textLength="12.8" lengthAdjust="spacingAndGlyphs">Treg</text>
<text x="99.8" y="169.3" font-family="'Liberation Serif', serif" font-size="8.2" fill="#222">M2</text>
<text x="125.2" y="169.3" font-family="'Liberation Serif', serif" font-size="8.2" fill="#222">M1</text>
<text x="147" y="171" font-family="'Liberation Sans', sans-serif" font-size="7.6" fill="#111" textLength="45" lengthAdjust="spacingAndGlyphs">Actived NK cell</text>
<rect x="248.5" y="163.2" width="61" height="11" fill="none" stroke="#E8232A" stroke-width="1.1" />
<text x="254.6" y="171.5" font-family="'Liberation Sans', sans-serif" font-size="7.6" fill="#111" textLength="51.2" lengthAdjust="spacingAndGlyphs">Resting Mast cell</text>
<text x="156.3" y="190" font-family="'Liberation Serif', serif" font-size="12" fill="#000" font-weight="bold" text-anchor="middle" textLength="51.4" lengthAdjust="spacingAndGlyphs">GSE25066</text>
<rect x="422" y="163.4" width="18.8" height="11.4" fill="none" stroke="#E8232A" stroke-width="1.1" />
<text x="425" y="171.5" font-family="'Liberation Sans', sans-serif" font-size="7.6" fill="#111" textLength="14" lengthAdjust="spacingAndGlyphs">Treg</text>
<text x="508.3" y="171.8" font-family="'Liberation Sans', sans-serif" font-size="7.6" fill="#111">M1</text>
<rect x="580" y="163.3" width="60.5" height="11.2" fill="none" stroke="#E8232A" stroke-width="1.1" />
<text x="584.6" y="171.8" font-family="'Liberation Sans', sans-serif" font-size="7.6" fill="#111" textLength="51.1" lengthAdjust="spacingAndGlyphs">Resting Mast cell</text>
<text x="555.5" y="190.8" font-family="'Liberation Serif', serif" font-size="12" fill="#000" font-weight="bold" text-anchor="middle" textLength="51.8" lengthAdjust="spacingAndGlyphs">GSE20194</text>
<rect x="146.3" y="360.3" width="60.7" height="11" fill="none" stroke="#E8232A" stroke-width="1.1" />
<text x="149.5" y="368.7" font-family="'Liberation Sans', sans-serif" font-size="7.6" fill="#111" textLength="52.1" lengthAdjust="spacingAndGlyphs">Resting Mast cell</text>
<text x="156.7" y="387.5" font-family="'Liberation Serif', serif" font-size="12" fill="#000" font-weight="bold" text-anchor="middle" textLength="51.4" lengthAdjust="spacingAndGlyphs">GSE41998</text>
<text x="467.6" y="370.5" font-family="'Liberation Sans', sans-serif" font-size="7.6" fill="#111">M1</text>
<rect x="663.2" y="363.7" width="18.8" height="11.8" fill="none" stroke="#E8232A" stroke-width="1.1" />
<text x="665.3" y="372.3" font-family="'Liberation Sans', sans-serif" font-size="7.6" fill="#444" textLength="14.7" lengthAdjust="spacingAndGlyphs">Treg</text>
<text x="543.5" y="385.8" font-family="'Liberation Serif', serif" font-size="12" fill="#000" font-weight="bold" text-anchor="middle" textLength="51.5" lengthAdjust="spacingAndGlyphs">GSE20271</text>
<line x1="40.1" y1="423" x2="40.1" y2="510.2" stroke="#222" stroke-width="1.1" />
<line x1="38.3" y1="509.7" x2="170.7" y2="509.7" stroke="#222" stroke-width="1.1" />
<line x1="40.1" y1="422.6" x2="40.1" y2="510.2" stroke="#222" stroke-width="1.1" />
<line x1="37.6" y1="509.7" x2="40.1" y2="509.7" stroke="#222" stroke-width="1" />
<text x="34.2" y="512.1" font-family="'Liberation Sans', sans-serif" font-size="6.8" fill="#111" font-weight="bold" text-anchor="end">0</text>
<line x1="37.6" y1="466.4" x2="40.1" y2="466.4" stroke="#222" stroke-width="1" />
<text x="35.6" y="468.8" font-family="'Liberation Sans', sans-serif" font-size="6.8" fill="#111" font-weight="bold" text-anchor="end">50</text>
<line x1="37.6" y1="423.1" x2="40.1" y2="423.1" stroke="#222" stroke-width="1" />
<text x="36.6" y="425.5" font-family="'Liberation Sans', sans-serif" font-size="6.8" fill="#111" font-weight="bold" text-anchor="end">100</text>
<rect x="48.5" y="482.25" width="18.5" height="27.45" fill="#000088" stroke="none" stroke-width="1" />
<text x="57.75" y="478.85" font-family="'Liberation Sans', sans-serif" font-size="7.2" fill="#111" font-weight="bold" text-anchor="middle">31.7%</text>
<rect x="74.6" y="450.55" width="18.5" height="59.15" fill="#9E0000" stroke="none" stroke-width="1" />
<text x="83.85" y="447.15" font-family="'Liberation Sans', sans-serif" font-size="7.2" fill="#111" font-weight="bold" text-anchor="middle">68.3%</text>
<rect x="118" y="470.99" width="18.7" height="38.71" fill="#000088" stroke="none" stroke-width="1" />
<text x="127.35" y="467.59" font-family="'Liberation Sans', sans-serif" font-size="7.2" fill="#111" font-weight="bold" text-anchor="middle">44.7%</text>
<rect x="143.8" y="461.81" width="18.7" height="47.89" fill="#9E0000" stroke="none" stroke-width="1" />
<text x="153.15" y="458.41" font-family="'Liberation Sans', sans-serif" font-size="7.2" fill="#111" font-weight="bold" text-anchor="middle">55.3%</text>
<text x="51.6" y="433.6" font-family="'Liberation Sans', sans-serif" font-size="8.2" fill="#111" font-weight="bold"><tspan font-style="italic">P</tspan>=0.027</text>
<text x="70.9" y="522" font-family="'Liberation Sans', sans-serif" font-size="10.2" fill="#111" font-weight="bold" text-anchor="middle" textLength="16.6" lengthAdjust="spacingAndGlyphs">pCR</text>
<line x1="70.9" y1="509.7" x2="70.9" y2="511.9" stroke="#222" stroke-width="0.9" />
<text x="141.9" y="522" font-family="'Liberation Sans', sans-serif" font-size="10.2" fill="#111" font-weight="bold" text-anchor="middle" textLength="37" lengthAdjust="spacingAndGlyphs">non-pCR</text>
<line x1="141.9" y1="509.7" x2="141.9" y2="511.9" stroke="#222" stroke-width="0.9" />
<rect x="67.7" y="525" width="10.5" height="5.8" fill="#9E0000" stroke="none" stroke-width="1" />
<text x="79.7" y="529.9" font-family="'Liberation Sans', sans-serif" font-size="6.9" fill="#111" font-weight="bold">Present</text>
<rect x="116" y="525" width="10.5" height="5.8" fill="#000088" stroke="none" stroke-width="1" />
<text x="128.5" y="529.9" font-family="'Liberation Sans', sans-serif" font-size="6.9" fill="#111" font-weight="bold">Absent</text>
<text x="95.2" y="549.7" font-family="'Liberation Sans', sans-serif" font-size="9" fill="#111" font-weight="bold" text-anchor="middle" textLength="19.2" lengthAdjust="spacingAndGlyphs">Treg</text>
<text x="22.8" y="467" font-family="'Liberation Sans', sans-serif" font-size="8.4" fill="#111" font-weight="bold" text-anchor="middle" transform="rotate(-90 22.8 467)" textLength="49.5" lengthAdjust="spacingAndGlyphs">Percentage%</text>
<line x1="200.5" y1="422" x2="200.5" y2="509.5" stroke="#222" stroke-width="1.1" />
<line x1="199" y1="509" x2="331.8" y2="509" stroke="#222" stroke-width="1.1" />
<line x1="200.5" y1="421.8" x2="200.5" y2="509.5" stroke="#222" stroke-width="1.1" />
<line x1="198" y1="509" x2="200.5" y2="509" stroke="#222" stroke-width="1" />
<text x="194.6" y="511.4" font-family="'Liberation Sans', sans-serif" font-size="6.8" fill="#111" font-weight="bold" text-anchor="end">0</text>
<line x1="198" y1="465.65" x2="200.5" y2="465.65" stroke="#222" stroke-width="1" />
<text x="196" y="468.05" font-family="'Liberation Sans', sans-serif" font-size="6.8" fill="#111" font-weight="bold" text-anchor="end">50</text>
<line x1="198" y1="422.3" x2="200.5" y2="422.3" stroke="#222" stroke-width="1" />
<text x="197" y="424.7" font-family="'Liberation Sans', sans-serif" font-size="6.8" fill="#111" font-weight="bold" text-anchor="end">100</text>
<rect x="209" y="463.14" width="19" height="45.86" fill="#000088" stroke="none" stroke-width="1" />
<text x="218.5" y="459.74" font-family="'Liberation Sans', sans-serif" font-size="7.2" fill="#111" font-weight="bold" text-anchor="middle">52.9%</text>
<rect x="234.6" y="468.16" width="19.2" height="40.84" fill="#9E0000" stroke="none" stroke-width="1" />
<text x="244.2" y="464.76" font-family="'Liberation Sans', sans-serif" font-size="7.2" fill="#111" font-weight="bold" text-anchor="middle">47.1%</text>
<rect x="278" y="462.27" width="18.4" height="46.73" fill="#000088" stroke="none" stroke-width="1" />
<text x="287.2" y="458.87" font-family="'Liberation Sans', sans-serif" font-size="7.2" fill="#111" font-weight="bold" text-anchor="middle">53.9%</text>
<rect x="303.7" y="468.34" width="18.9" height="40.66" fill="#9E0000" stroke="none" stroke-width="1" />
<text x="313.15" y="464.94" font-family="'Liberation Sans', sans-serif" font-size="7.2" fill="#111" font-weight="bold" text-anchor="middle">46.9%</text>
<text x="212.3" y="432.5" font-family="'Liberation Sans', sans-serif" font-size="8.2" fill="#111" font-weight="bold"><tspan font-style="italic">P</tspan>=0.909</text>
<text x="233.2" y="521.3" font-family="'Liberation Sans', sans-serif" font-size="10.2" fill="#111" font-weight="bold" text-anchor="middle" textLength="18.5" lengthAdjust="spacingAndGlyphs">pCR</text>
<line x1="233.2" y1="509" x2="233.2" y2="511.2" stroke="#222" stroke-width="0.9" />
<text x="304" y="521.3" font-family="'Liberation Sans', sans-serif" font-size="10.2" fill="#111" font-weight="bold" text-anchor="middle" textLength="37.3" lengthAdjust="spacingAndGlyphs">non-pCR</text>
<line x1="304" y1="509" x2="304" y2="511.2" stroke="#222" stroke-width="0.9" />
<rect x="230.7" y="524.8" width="10.5" height="5.8" fill="#9E0000" stroke="none" stroke-width="1" />
<text x="243.8" y="529.7" font-family="'Liberation Sans', sans-serif" font-size="6.9" fill="#111" font-weight="bold">Present</text>
<rect x="277.5" y="524.8" width="10.5" height="5.8" fill="#000088" stroke="none" stroke-width="1" />
<text x="292.4" y="529.7" font-family="'Liberation Sans', sans-serif" font-size="6.9" fill="#111" font-weight="bold">Absent</text>
<text x="270.6" y="551.1" font-family="'Liberation Sans', sans-serif" font-size="9" fill="#111" font-weight="bold" text-anchor="middle" textLength="68.3" lengthAdjust="spacingAndGlyphs">M1 macrophage</text>
<text x="185.1" y="467.3" font-family="'Liberation Sans', sans-serif" font-size="8.4" fill="#111" font-weight="bold" text-anchor="middle" transform="rotate(-90 185.1 467.3)" textLength="49.7" lengthAdjust="spacingAndGlyphs">Percentage%</text>
<line x1="361.5" y1="423.15" x2="361.5" y2="518.5" stroke="#222" stroke-width="1.1" />
<line x1="359" y1="518" x2="361.5" y2="518" stroke="#222" stroke-width="1" />
<text x="355.6" y="520.4" font-family="'Liberation Sans', sans-serif" font-size="6.8" fill="#111" font-weight="bold" text-anchor="end">0</text>
<line x1="359" y1="486.55" x2="361.5" y2="486.55" stroke="#222" stroke-width="1" />
<text x="357" y="488.95" font-family="'Liberation Sans', sans-serif" font-size="6.8" fill="#111" font-weight="bold" text-anchor="end">50</text>
<line x1="359" y1="455.1" x2="361.5" y2="455.1" stroke="#222" stroke-width="1" />
<text x="358" y="457.5" font-family="'Liberation Sans', sans-serif" font-size="6.8" fill="#111" font-weight="bold" text-anchor="end">100</text>
<line x1="359" y1="423.65" x2="361.5" y2="423.65" stroke="#222" stroke-width="1" />
<text x="358" y="426.05" font-family="'Liberation Sans', sans-serif" font-size="6.8" fill="#111" font-weight="bold" text-anchor="end">150</text>
<line x1="360" y1="518" x2="504.7" y2="518" stroke="#333" stroke-width="1.1" />
<path d="M391.85 517.85L393.7 514.52L395.55 517.85ZM394.42 518.57L396.27 515.24L398.12 518.57ZM396.99 519.29L398.84 515.96L400.69 519.29ZM399.56 520.01L401.41 516.68L403.26 520.01ZM402.14 520.01L403.99 516.68L405.84 520.01ZM404.71 519.29L406.56 515.96L408.41 519.29ZM407.28 518.57L409.13 515.24L410.98 518.57ZM409.85 517.85L411.7 514.52L413.55 517.85ZM385.85 515.67L387.7 512.34L389.55 515.67ZM388.16 516L390.01 512.67L391.86 516ZM390.47 516.32L392.32 512.99L394.17 516.32ZM392.77 516.64L394.62 513.31L396.47 516.64ZM395.08 516.96L396.93 513.63L398.78 516.96ZM397.39 517.29L399.24 513.96L401.09 517.29ZM399.7 517.61L401.55 514.28L403.4 517.61ZM402 517.61L403.85 514.28L405.7 517.61ZM404.31 517.29L406.16 513.96L408.01 517.29ZM406.62 516.96L408.47 513.63L410.32 516.96ZM408.93 516.64L410.78 513.31L412.63 516.64ZM411.23 516.32L413.08 512.99L414.93 516.32ZM413.54 516L415.39 512.67L417.24 516ZM415.85 515.67L417.7 512.34L419.55 515.67ZM381.35 511.02L383.2 507.69L385.05 511.02ZM383.4 511.23L385.25 507.9L387.1 511.23ZM385.46 511.43L387.31 508.1L389.16 511.43ZM387.51 511.64L389.36 508.31L391.21 511.64ZM389.56 511.84L391.41 508.51L393.26 511.84ZM391.61 512.05L393.46 508.72L395.31 512.05ZM393.67 512.25L395.52 508.92L397.37 512.25ZM395.72 512.46L397.57 509.13L399.42 512.46ZM397.77 512.66L399.62 509.33L401.47 512.66ZM399.82 512.87L401.67 509.54L403.52 512.87ZM401.88 512.87L403.73 509.54L405.58 512.87ZM403.93 512.66L405.78 509.33L407.63 512.66ZM405.98 512.46L407.83 509.13L409.68 512.46ZM408.03 512.25L409.88 508.92L411.73 512.25ZM410.09 512.05L411.94 508.72L413.79 512.05ZM412.14 511.84L413.99 508.51L415.84 511.84ZM414.19 511.64L416.04 508.31L417.89 511.64ZM416.24 511.43L418.09 508.1L419.94 511.43ZM418.3 511.23L420.15 507.9L422 511.23ZM420.35 511.02L422.2 507.69L424.05 511.02ZM380.35 506.52L382.2 503.19L384.05 506.52ZM382.3 506.72L384.15 503.39L386 506.72ZM384.25 506.91L386.1 503.58L387.95 506.91ZM386.21 507.11L388.06 503.78L389.91 507.11ZM388.16 507.3L390.01 503.97L391.86 507.3ZM390.11 507.5L391.96 504.17L393.81 507.5ZM392.06 507.69L393.91 504.36L395.76 507.69ZM394.02 507.89L395.87 504.56L397.72 507.89ZM395.97 508.08L397.82 504.75L399.67 508.08ZM397.92 508.28L399.77 504.95L401.62 508.28ZM399.87 508.47L401.72 505.14L403.57 508.47ZM401.83 508.47L403.68 505.14L405.53 508.47ZM403.78 508.28L405.63 504.95L407.48 508.28ZM405.73 508.08L407.58 504.75L409.43 508.08ZM407.68 507.89L409.53 504.56L411.38 507.89ZM409.64 507.69L411.49 504.36L413.34 507.69ZM411.59 507.5L413.44 504.17L415.29 507.5ZM413.54 507.3L415.39 503.97L417.24 507.3ZM415.49 507.11L417.34 503.78L419.19 507.11ZM417.45 506.91L419.3 503.58L421.15 506.91ZM419.4 506.72L421.25 503.39L423.1 506.72ZM421.35 506.52L423.2 503.19L425.05 506.52ZM380.85 502.17L382.7 498.84L384.55 502.17ZM382.96 502.38L384.81 499.05L386.66 502.38ZM385.06 502.59L386.91 499.26L388.76 502.59ZM387.17 502.8L389.02 499.47L390.87 502.8ZM389.27 503.01L391.12 499.68L392.97 503.01ZM391.38 503.23L393.23 499.9L395.08 503.23ZM393.48 503.44L395.33 500.11L397.18 503.44ZM395.59 503.65L397.44 500.32L399.29 503.65ZM397.69 503.86L399.54 500.53L401.39 503.86ZM399.8 504.07L401.65 500.74L403.5 504.07ZM401.9 504.07L403.75 500.74L405.6 504.07ZM404.01 503.86L405.86 500.53L407.71 503.86ZM406.11 503.65L407.96 500.32L409.81 503.65ZM408.22 503.44L410.07 500.11L411.92 503.44ZM410.32 503.23L412.17 499.9L414.02 503.23ZM412.43 503.01L414.28 499.68L416.13 503.01ZM414.53 502.8L416.38 499.47L418.23 502.8ZM416.64 502.59L418.49 499.26L420.34 502.59ZM418.74 502.38L420.59 499.05L422.44 502.38ZM420.85 502.17L422.7 498.84L424.55 502.17ZM382.35 498.46L384.2 495.13L386.05 498.46ZM384.82 498.61L386.67 495.28L388.52 498.61ZM387.28 498.76L389.13 495.43L390.98 498.76ZM389.75 498.91L391.6 495.58L393.45 498.91ZM392.22 499.05L394.07 495.72L395.92 499.05ZM394.68 499.2L396.53 495.87L398.38 499.2ZM397.15 499.35L399 496.02L400.85 499.35ZM399.62 499.5L401.47 496.17L403.32 499.5ZM402.08 499.5L403.93 496.17L405.78 499.5ZM404.55 499.35L406.4 496.02L408.25 499.35ZM407.02 499.2L408.87 495.87L410.72 499.2ZM409.48 499.05L411.33 495.72L413.18 499.05ZM411.95 498.91L413.8 495.58L415.65 498.91ZM414.42 498.76L416.27 495.43L418.12 498.76ZM416.88 498.61L418.73 495.28L420.58 498.61ZM419.35 498.46L421.2 495.13L423.05 498.46ZM389.35 496.07L391.2 492.74L393.05 496.07ZM406.45 496.07L408.3 492.74L410.15 496.07ZM412.05 496.07L413.9 492.74L415.75 496.07ZM400.85 492.57L402.7 489.24L404.55 492.57ZM395.05 488.77L396.9 485.44L398.75 488.77ZM406.45 490.47L408.3 487.14L410.15 490.47ZM400.85 483.77L402.7 480.44L404.55 483.77ZM400.85 472.47L402.7 469.14L404.55 472.47Z" fill="#9E0000"/>
<path d="M450.65 517.29L452.5 513.96L454.35 517.29ZM452.65 517.85L454.5 514.52L456.35 517.85ZM454.65 518.41L456.5 515.08L458.35 518.41ZM456.65 518.97L458.5 515.64L460.35 518.97ZM458.65 519.53L460.5 516.2L462.35 519.53ZM460.65 520.09L462.5 516.76L464.35 520.09ZM462.65 520.09L464.5 516.76L466.35 520.09ZM464.65 519.53L466.5 516.2L468.35 519.53ZM466.65 518.97L468.5 515.64L470.35 518.97ZM468.65 518.41L470.5 515.08L472.35 518.41ZM470.65 517.85L472.5 514.52L474.35 517.85ZM472.65 517.29L474.5 513.96L476.35 517.29ZM444.65 515.39L446.5 512.06L448.35 515.39ZM446.44 515.64L448.29 512.31L450.14 515.64ZM448.23 515.89L450.08 512.56L451.93 515.89ZM450.02 516.14L451.87 512.81L453.72 516.14ZM451.81 516.39L453.66 513.06L455.51 516.39ZM453.6 516.65L455.45 513.32L457.3 516.65ZM455.39 516.9L457.24 513.57L459.09 516.9ZM457.18 517.15L459.03 513.82L460.88 517.15ZM458.97 517.4L460.82 514.07L462.67 517.4ZM460.76 517.65L462.61 514.32L464.46 517.65ZM462.54 517.65L464.39 514.32L466.24 517.65ZM464.33 517.4L466.18 514.07L468.03 517.4ZM466.12 517.15L467.97 513.82L469.82 517.15ZM467.91 516.9L469.76 513.57L471.61 516.9ZM469.7 516.65L471.55 513.32L473.4 516.65ZM471.49 516.39L473.34 513.06L475.19 516.39ZM473.28 516.14L475.13 512.81L476.98 516.14ZM475.07 515.89L476.92 512.56L478.77 515.89ZM476.86 515.64L478.71 512.31L480.56 515.64ZM478.65 515.39L480.5 512.06L482.35 515.39ZM441.15 510.92L443 507.59L444.85 510.92ZM442.67 511.07L444.52 507.74L446.37 511.07ZM444.19 511.23L446.04 507.9L447.89 511.23ZM445.71 511.38L447.56 508.05L449.41 511.38ZM447.22 511.53L449.07 508.2L450.92 511.53ZM448.74 511.68L450.59 508.35L452.44 511.68ZM450.26 511.83L452.11 508.5L453.96 511.83ZM451.78 511.99L453.63 508.66L455.48 511.99ZM453.3 512.14L455.15 508.81L457 512.14ZM454.82 512.29L456.67 508.96L458.52 512.29ZM456.34 512.44L458.19 509.11L460.04 512.44ZM457.85 512.59L459.7 509.26L461.55 512.59ZM459.37 512.74L461.22 509.41L463.07 512.74ZM460.89 512.9L462.74 509.57L464.59 512.9ZM462.41 512.9L464.26 509.57L466.11 512.9ZM463.93 512.74L465.78 509.41L467.63 512.74ZM465.45 512.59L467.3 509.26L469.15 512.59ZM466.96 512.44L468.81 509.11L470.66 512.44ZM468.48 512.29L470.33 508.96L472.18 512.29ZM470 512.14L471.85 508.81L473.7 512.14ZM471.52 511.99L473.37 508.66L475.22 511.99ZM473.04 511.83L474.89 508.5L476.74 511.83ZM474.56 511.68L476.41 508.35L478.26 511.68ZM476.08 511.53L477.93 508.2L479.78 511.53ZM477.59 511.38L479.44 508.05L481.29 511.38ZM479.11 511.23L480.96 507.9L482.81 511.23ZM480.63 511.07L482.48 507.74L484.33 511.07ZM482.15 510.92L484 507.59L485.85 510.92ZM441.15 506.93L443 503.6L444.85 506.93ZM442.56 507.05L444.41 503.72L446.26 507.05ZM443.98 507.16L445.83 503.83L447.68 507.16ZM445.39 507.27L447.24 503.94L449.09 507.27ZM446.81 507.38L448.66 504.05L450.51 507.38ZM448.22 507.5L450.07 504.17L451.92 507.5ZM449.63 507.61L451.48 504.28L453.33 507.61ZM451.05 507.72L452.9 504.39L454.75 507.72ZM452.46 507.84L454.31 504.51L456.16 507.84ZM453.87 507.95L455.72 504.62L457.57 507.95ZM455.29 508.06L457.14 504.73L458.99 508.06ZM456.7 508.18L458.55 504.85L460.4 508.18ZM458.12 508.29L459.97 504.96L461.82 508.29ZM459.53 508.4L461.38 505.07L463.23 508.4ZM460.94 508.52L462.79 505.19L464.64 508.52ZM462.36 508.52L464.21 505.19L466.06 508.52ZM463.77 508.4L465.62 505.07L467.47 508.4ZM465.18 508.29L467.03 504.96L468.88 508.29ZM466.6 508.18L468.45 504.85L470.3 508.18ZM468.01 508.06L469.86 504.73L471.71 508.06ZM469.43 507.95L471.28 504.62L473.13 507.95ZM470.84 507.84L472.69 504.51L474.54 507.84ZM472.25 507.72L474.1 504.39L475.95 507.72ZM473.67 507.61L475.52 504.28L477.37 507.61ZM475.08 507.5L476.93 504.17L478.78 507.5ZM476.49 507.38L478.34 504.05L480.19 507.38ZM477.91 507.27L479.76 503.94L481.61 507.27ZM479.32 507.16L481.17 503.83L483.02 507.16ZM480.74 507.05L482.59 503.72L484.44 507.05ZM482.15 506.93L484 503.6L485.85 506.93ZM441.15 502.74L443 499.41L444.85 502.74ZM442.56 502.84L444.41 499.51L446.26 502.84ZM443.98 502.94L445.83 499.61L447.68 502.94ZM445.39 503.03L447.24 499.7L449.09 503.03ZM446.81 503.13L448.66 499.8L450.51 503.13ZM448.22 503.23L450.07 499.9L451.92 503.23ZM449.63 503.33L451.48 500L453.33 503.33ZM451.05 503.43L452.9 500.1L454.75 503.43ZM452.46 503.53L454.31 500.2L456.16 503.53ZM453.87 503.63L455.72 500.3L457.57 503.63ZM455.29 503.73L457.14 500.4L458.99 503.73ZM456.7 503.83L458.55 500.5L460.4 503.83ZM458.12 503.93L459.97 500.6L461.82 503.93ZM459.53 504.02L461.38 500.69L463.23 504.02ZM460.94 504.12L462.79 500.79L464.64 504.12ZM462.36 504.12L464.21 500.79L466.06 504.12ZM463.77 504.02L465.62 500.69L467.47 504.02ZM465.18 503.93L467.03 500.6L468.88 503.93ZM466.6 503.83L468.45 500.5L470.3 503.83ZM468.01 503.73L469.86 500.4L471.71 503.73ZM469.43 503.63L471.28 500.3L473.13 503.63ZM470.84 503.53L472.69 500.2L474.54 503.53ZM472.25 503.43L474.1 500.1L475.95 503.43ZM473.67 503.33L475.52 500L477.37 503.33ZM475.08 503.23L476.93 499.9L478.78 503.23ZM476.49 503.13L478.34 499.8L480.19 503.13ZM477.91 503.03L479.76 499.7L481.61 503.03ZM479.32 502.94L481.17 499.61L483.02 502.94ZM480.74 502.84L482.59 499.51L484.44 502.84ZM482.15 502.74L484 499.41L485.85 502.74ZM441.15 498.54L443 495.21L444.85 498.54ZM442.56 498.63L444.41 495.3L446.26 498.63ZM443.98 498.71L445.83 495.38L447.68 498.71ZM445.39 498.8L447.24 495.47L449.09 498.8ZM446.81 498.88L448.66 495.55L450.51 498.88ZM448.22 498.97L450.07 495.64L451.92 498.97ZM449.63 499.05L451.48 495.72L453.33 499.05ZM451.05 499.14L452.9 495.81L454.75 499.14ZM452.46 499.22L454.31 495.89L456.16 499.22ZM453.87 499.31L455.72 495.98L457.57 499.31ZM455.29 499.39L457.14 496.06L458.99 499.39ZM456.7 499.48L458.55 496.15L460.4 499.48ZM458.12 499.56L459.97 496.23L461.82 499.56ZM459.53 499.65L461.38 496.32L463.23 499.65ZM460.94 499.73L462.79 496.4L464.64 499.73ZM462.36 499.73L464.21 496.4L466.06 499.73ZM463.77 499.65L465.62 496.32L467.47 499.65ZM465.18 499.56L467.03 496.23L468.88 499.56ZM466.6 499.48L468.45 496.15L470.3 499.48ZM468.01 499.39L469.86 496.06L471.71 499.39ZM469.43 499.31L471.28 495.98L473.13 499.31ZM470.84 499.22L472.69 495.89L474.54 499.22ZM472.25 499.14L474.1 495.81L475.95 499.14ZM473.67 499.05L475.52 495.72L477.37 499.05ZM475.08 498.97L476.93 495.64L478.78 498.97ZM476.49 498.88L478.34 495.55L480.19 498.88ZM477.91 498.8L479.76 495.47L481.61 498.8ZM479.32 498.71L481.17 495.38L483.02 498.71ZM480.74 498.63L482.59 495.3L484.44 498.63ZM482.15 498.54L484 495.21L485.85 498.54ZM441.15 494.35L443 491.02L444.85 494.35ZM442.67 494.42L444.52 491.09L446.37 494.42ZM444.19 494.5L446.04 491.17L447.89 494.5ZM445.71 494.58L447.56 491.25L449.41 494.58ZM447.22 494.65L449.07 491.32L450.92 494.65ZM448.74 494.73L450.59 491.4L452.44 494.73ZM450.26 494.8L452.11 491.47L453.96 494.8ZM451.78 494.88L453.63 491.55L455.48 494.88ZM453.3 494.95L455.15 491.62L457 494.95ZM454.82 495.03L456.67 491.7L458.52 495.03ZM456.34 495.11L458.19 491.78L460.04 495.11ZM457.85 495.18L459.7 491.85L461.55 495.18ZM459.37 495.26L461.22 491.93L463.07 495.26ZM460.89 495.33L462.74 492L464.59 495.33ZM462.41 495.33L464.26 492L466.11 495.33ZM463.93 495.26L465.78 491.93L467.63 495.26ZM465.45 495.18L467.3 491.85L469.15 495.18ZM466.96 495.11L468.81 491.78L470.66 495.11ZM468.48 495.03L470.33 491.7L472.18 495.03ZM470 494.95L471.85 491.62L473.7 494.95ZM471.52 494.88L473.37 491.55L475.22 494.88ZM473.04 494.8L474.89 491.47L476.74 494.8ZM474.56 494.73L476.41 491.4L478.26 494.73ZM476.08 494.65L477.93 491.32L479.78 494.65ZM477.59 494.58L479.44 491.25L481.29 494.58ZM479.11 494.5L480.96 491.17L482.81 494.5ZM480.63 494.42L482.48 491.09L484.33 494.42ZM482.15 494.35L484 491.02L485.85 494.35ZM442.15 490L444 486.67L445.85 490ZM444.01 490.09L445.86 486.76L447.71 490.09ZM445.86 490.18L447.71 486.85L449.56 490.18ZM447.72 490.28L449.57 486.95L451.42 490.28ZM449.58 490.37L451.43 487.04L453.28 490.37ZM451.44 490.46L453.29 487.13L455.14 490.46ZM453.29 490.55L455.14 487.22L456.99 490.55ZM455.15 490.65L457 487.32L458.85 490.65ZM457.01 490.74L458.86 487.41L460.71 490.74ZM458.86 490.83L460.71 487.5L462.56 490.83ZM460.72 490.93L462.57 487.6L464.42 490.93ZM462.58 490.93L464.43 487.6L466.28 490.93ZM464.44 490.83L466.29 487.5L468.14 490.83ZM466.29 490.74L468.14 487.41L469.99 490.74ZM468.15 490.65L470 487.32L471.85 490.65ZM470.01 490.55L471.86 487.22L473.71 490.55ZM471.86 490.46L473.71 487.13L475.56 490.46ZM473.72 490.37L475.57 487.04L477.42 490.37ZM475.58 490.28L477.43 486.95L479.28 490.28ZM477.44 490.18L479.29 486.85L481.14 490.18ZM479.29 490.09L481.14 486.76L482.99 490.09ZM481.15 490L483 486.67L484.85 490ZM448.65 486.57L450.5 483.24L452.35 486.57ZM458.65 486.57L460.5 483.24L462.35 486.57ZM464.25 486.57L466.1 483.24L467.95 486.57ZM474.65 486.57L476.5 483.24L478.35 486.57ZM478.65 486.57L480.5 483.24L482.35 486.57ZM443.75 482.07L445.6 478.74L447.45 482.07ZM448.85 482.07L450.7 478.74L452.55 482.07ZM453.75 482.07L455.6 478.74L457.45 482.07ZM458.45 482.07L460.3 478.74L462.15 482.07ZM464.25 482.07L466.1 478.74L467.95 482.07ZM469.15 482.07L471 478.74L472.85 482.07ZM474.25 482.07L476.1 478.74L477.95 482.07ZM479.15 482.07L481 478.74L482.85 482.07ZM452.85 475.57L454.7 472.24L456.55 475.57ZM461.65 475.57L463.5 472.24L465.35 475.57ZM469.85 475.57L471.7 472.24L473.55 475.57ZM458.45 462.97L460.3 459.64L462.15 462.97ZM464.25 457.37L466.1 454.04L467.95 457.37ZM461.15 454.77L463 451.44L464.85 454.77ZM461.65 445.57L463.5 442.24L465.35 445.57ZM462.15 434.17L464 430.84L465.85 434.17Z" fill="#000088"/>
<path d="M404.3 466.5V442.4H456.9V448.7" fill="none" stroke="#4B4B8F" stroke-width="1"/>
<text x="416" y="436.8" font-family="'Liberation Sans', sans-serif" font-size="8.2" fill="#111" font-weight="bold"><tspan font-style="italic">P</tspan>=0.026</text>
<text x="403.5" y="532.2" font-family="'Liberation Sans', sans-serif" font-size="10.2" fill="#111" font-weight="bold" text-anchor="middle" textLength="17" lengthAdjust="spacingAndGlyphs">pCR</text>
<text x="467.2" y="532.2" font-family="'Liberation Sans', sans-serif" font-size="10.2" fill="#111" font-weight="bold" text-anchor="middle" textLength="37" lengthAdjust="spacingAndGlyphs">non-pCR</text>
<text x="423.7" y="549.7" font-family="'Liberation Sans', sans-serif" font-size="9" fill="#111" font-weight="bold" text-anchor="middle" textLength="37.5" lengthAdjust="spacingAndGlyphs">Mast cell</text>
<text x="341.3" y="475.5" font-family="'Liberation Sans', sans-serif" font-size="7.9" fill="#111" font-weight="bold" text-anchor="middle" transform="rotate(-90 341.3 475.5)">Cell density (N/mm<tspan dy="-3" font-size="5">2</tspan></text>
<line x1="542.6" y1="423" x2="542.6" y2="517.9" stroke="#222" stroke-width="1.1" />
<line x1="540.1" y1="517.4" x2="542.6" y2="517.4" stroke="#222" stroke-width="1" />
<text x="535.6" y="519.8" font-family="'Liberation Sans', sans-serif" font-size="6.8" fill="#111" font-weight="bold" text-anchor="end">0</text>
<line x1="540.1" y1="498.62" x2="542.6" y2="498.62" stroke="#222" stroke-width="1" />
<text x="537" y="501.02" font-family="'Liberation Sans', sans-serif" font-size="6.8" fill="#111" font-weight="bold" text-anchor="end">50</text>
<line x1="540.1" y1="479.84" x2="542.6" y2="479.84" stroke="#222" stroke-width="1" />
<text x="538" y="482.24" font-family="'Liberation Sans', sans-serif" font-size="6.8" fill="#111" font-weight="bold" text-anchor="end">100</text>
<line x1="540.1" y1="461.06" x2="542.6" y2="461.06" stroke="#222" stroke-width="1" />
<text x="538" y="463.46" font-family="'Liberation Sans', sans-serif" font-size="6.8" fill="#111" font-weight="bold" text-anchor="end">150</text>
<line x1="540.1" y1="442.28" x2="542.6" y2="442.28" stroke="#222" stroke-width="1" />
<text x="538" y="444.68" font-family="'Liberation Sans', sans-serif" font-size="6.8" fill="#111" font-weight="bold" text-anchor="end">200</text>
<line x1="540.1" y1="423.5" x2="542.6" y2="423.5" stroke="#222" stroke-width="1" />
<text x="538" y="425.9" font-family="'Liberation Sans', sans-serif" font-size="6.8" fill="#111" font-weight="bold" text-anchor="end">250</text>
<line x1="541.1" y1="517.4" x2="685" y2="517.4" stroke="#333" stroke-width="1.1" />
<path d="M569.55 517.17L571.4 513.84L573.25 517.17ZM572.22 517.71L574.07 514.38L575.92 517.71ZM574.88 518.24L576.73 514.91L578.58 518.24ZM577.55 518.77L579.4 515.44L581.25 518.77ZM580.22 519.31L582.07 515.98L583.92 519.31ZM582.88 519.31L584.73 515.98L586.58 519.31ZM585.55 518.77L587.4 515.44L589.25 518.77ZM588.22 518.24L590.07 514.91L591.92 518.24ZM590.88 517.71L592.73 514.38L594.58 517.71ZM593.55 517.17L595.4 513.84L597.25 517.17ZM562.55 515.09L564.4 511.76L566.25 515.09ZM565.08 515.4L566.93 512.07L568.78 515.4ZM567.62 515.7L569.47 512.37L571.32 515.7ZM570.15 516L572 512.67L573.85 516ZM572.68 516.31L574.53 512.98L576.38 516.31ZM575.22 516.61L577.07 513.28L578.92 516.61ZM577.75 516.92L579.6 513.59L581.45 516.92ZM580.28 517.22L582.13 513.89L583.98 517.22ZM582.82 517.22L584.67 513.89L586.52 517.22ZM585.35 516.92L587.2 513.59L589.05 516.92ZM587.88 516.61L589.73 513.28L591.58 516.61ZM590.42 516.31L592.27 512.98L594.12 516.31ZM592.95 516L594.8 512.67L596.65 516ZM595.48 515.7L597.33 512.37L599.18 515.7ZM598.02 515.4L599.87 512.07L601.72 515.4ZM600.55 515.09L602.4 511.76L604.25 515.09ZM561.55 513.17L563.4 509.84L565.25 513.17ZM564.22 513.44L566.07 510.11L567.92 513.44ZM566.88 513.71L568.73 510.38L570.58 513.71ZM569.55 513.97L571.4 510.64L573.25 513.97ZM572.22 514.24L574.07 510.91L575.92 514.24ZM574.88 514.51L576.73 511.18L578.58 514.51ZM577.55 514.77L579.4 511.44L581.25 514.77ZM580.22 515.04L582.07 511.71L583.92 515.04ZM582.88 515.04L584.73 511.71L586.58 515.04ZM585.55 514.77L587.4 511.44L589.25 514.77ZM588.22 514.51L590.07 511.18L591.92 514.51ZM590.88 514.24L592.73 510.91L594.58 514.24ZM593.55 513.97L595.4 510.64L597.25 513.97ZM596.22 513.71L598.07 510.38L599.92 513.71ZM598.88 513.44L600.73 510.11L602.58 513.44ZM601.55 513.17L603.4 509.84L605.25 513.17ZM561.55 511.77L563.4 508.44L565.25 511.77ZM565.99 512.04L567.84 508.71L569.69 512.04ZM570.44 512.31L572.29 508.98L574.14 512.31ZM574.88 512.57L576.73 509.24L578.58 512.57ZM579.33 512.84L581.18 509.51L583.03 512.84ZM583.77 512.84L585.62 509.51L587.47 512.84ZM588.22 512.57L590.07 509.24L591.92 512.57ZM592.66 512.31L594.51 508.98L596.36 512.31ZM597.11 512.04L598.96 508.71L600.81 512.04ZM601.55 511.77L603.4 508.44L605.25 511.77ZM566.55 508.47L568.4 505.14L570.25 508.47ZM571.55 508.47L573.4 505.14L575.25 508.47ZM576.55 508.47L578.4 505.14L580.25 508.47ZM581.55 508.47L583.4 505.14L585.25 508.47ZM586.55 508.47L588.4 505.14L590.25 508.47ZM591.55 508.47L593.4 505.14L595.25 508.47ZM596.55 508.47L598.4 505.14L600.25 508.47ZM561.85 504.07L563.7 500.74L565.55 504.07ZM566.77 504.07L568.62 500.74L570.48 504.07ZM571.7 504.07L573.55 500.74L575.4 504.07ZM576.62 504.07L578.48 500.74L580.33 504.07ZM581.55 504.07L583.4 500.74L585.25 504.07ZM586.47 504.07L588.32 500.74L590.17 504.07ZM591.4 504.07L593.25 500.74L595.1 504.07ZM596.32 504.07L598.17 500.74L600.02 504.07ZM601.25 504.07L603.1 500.74L604.95 504.07ZM561.85 497.97L563.7 494.64L565.55 497.97ZM566.77 497.97L568.62 494.64L570.48 497.97ZM571.7 497.97L573.55 494.64L575.4 497.97ZM576.62 497.97L578.48 494.64L580.33 497.97ZM581.55 497.97L583.4 494.64L585.25 497.97ZM586.47 497.97L588.32 494.64L590.17 497.97ZM591.4 497.97L593.25 494.64L595.1 497.97ZM596.32 497.97L598.17 494.64L600.02 497.97ZM601.25 497.97L603.1 494.64L604.95 497.97ZM561.85 491.97L563.7 488.64L565.55 491.97ZM568.42 491.97L570.27 488.64L572.12 491.97ZM574.98 491.97L576.83 488.64L578.68 491.97ZM581.55 491.97L583.4 488.64L585.25 491.97ZM588.12 491.97L589.97 488.64L591.82 491.97ZM594.68 491.97L596.53 488.64L598.38 491.97ZM601.25 491.97L603.1 488.64L604.95 491.97ZM561.85 483.97L563.7 480.64L565.55 483.97ZM566.77 483.97L568.62 480.64L570.48 483.97ZM571.7 483.97L573.55 480.64L575.4 483.97ZM576.62 483.97L578.48 480.64L580.33 483.97ZM581.55 483.97L583.4 480.64L585.25 483.97ZM586.47 483.97L588.32 480.64L590.17 483.97ZM591.4 483.97L593.25 480.64L595.1 483.97ZM596.32 483.97L598.17 480.64L600.02 483.97ZM601.25 483.97L603.1 480.64L604.95 483.97ZM561.85 477.47L563.7 474.14L565.55 477.47ZM567.48 477.47L569.33 474.14L571.18 477.47ZM573.11 477.47L574.96 474.14L576.81 477.47ZM578.74 477.47L580.59 474.14L582.44 477.47ZM584.36 477.47L586.21 474.14L588.06 477.47ZM589.99 477.47L591.84 474.14L593.69 477.47ZM595.62 477.47L597.47 474.14L599.32 477.47ZM601.25 477.47L603.1 474.14L604.95 477.47ZM563.05 466.37L564.9 463.04L566.75 466.37ZM568.34 466.37L570.19 463.04L572.04 466.37ZM573.62 466.37L575.47 463.04L577.32 466.37ZM578.91 466.37L580.76 463.04L582.61 466.37ZM584.19 466.37L586.04 463.04L587.89 466.37ZM589.48 466.37L591.33 463.04L593.18 466.37ZM594.76 466.37L596.61 463.04L598.46 466.37ZM600.05 466.37L601.9 463.04L603.75 466.37ZM576.85 488.27L578.7 484.94L580.55 488.27ZM582.95 488.27L584.8 484.94L586.65 488.27ZM587.85 488.27L589.7 484.94L591.55 488.27ZM575.55 473.97L577.4 470.64L579.25 473.97ZM581.55 473.97L583.4 470.64L585.25 473.97ZM587.55 473.97L589.4 470.64L591.25 473.97ZM578.55 460.67L580.4 457.34L582.25 460.67ZM584.35 460.67L586.2 457.34L588.05 460.67ZM599.05 463.97L600.9 460.64L602.75 463.97ZM581.55 445.47L583.4 442.14L585.25 445.47Z" fill="#9E0000"/>
<path d="M627.65 516.07L629.5 512.74L631.35 516.07ZM630.2 516.71L632.05 513.38L633.9 516.71ZM632.74 517.35L634.59 514.02L636.44 517.35ZM635.29 517.98L637.14 514.65L638.99 517.98ZM637.83 518.62L639.68 515.29L641.53 518.62ZM640.38 519.25L642.23 515.92L644.08 519.25ZM642.92 519.25L644.77 515.92L646.62 519.25ZM645.47 518.62L647.32 515.29L649.17 518.62ZM648.01 517.98L649.86 514.65L651.71 517.98ZM650.56 517.35L652.41 514.02L654.26 517.35ZM653.1 516.71L654.95 513.38L656.8 516.71ZM655.65 516.07L657.5 512.74L659.35 516.07ZM621.85 514.4L623.7 511.07L625.55 514.4ZM623.93 514.69L625.78 511.36L627.63 514.69ZM626.02 514.98L627.87 511.65L629.72 514.98ZM628.1 515.28L629.95 511.95L631.8 515.28ZM630.19 515.57L632.04 512.24L633.89 515.57ZM632.27 515.86L634.12 512.53L635.97 515.86ZM634.36 516.15L636.21 512.82L638.06 516.15ZM636.44 516.44L638.29 513.11L640.14 516.44ZM638.52 516.73L640.37 513.4L642.22 516.73ZM640.61 517.03L642.46 513.7L644.31 517.03ZM642.69 517.03L644.54 513.7L646.39 517.03ZM644.78 516.73L646.63 513.4L648.48 516.73ZM646.86 516.44L648.71 513.11L650.56 516.44ZM648.94 516.15L650.79 512.82L652.64 516.15ZM651.03 515.86L652.88 512.53L654.73 515.86ZM653.11 515.57L654.96 512.24L656.81 515.57ZM655.2 515.28L657.05 511.95L658.9 515.28ZM657.28 514.98L659.13 511.65L660.98 514.98ZM659.37 514.69L661.22 511.36L663.07 514.69ZM661.45 514.4L663.3 511.07L665.15 514.4ZM621.85 512.4L623.7 509.07L625.55 512.4ZM624.49 512.71L626.34 509.38L628.19 512.71ZM627.13 513.03L628.98 509.7L630.83 513.03ZM629.77 513.35L631.62 510.02L633.47 513.35ZM632.41 513.66L634.26 510.33L636.11 513.66ZM635.05 513.98L636.9 510.65L638.75 513.98ZM637.69 514.3L639.54 510.97L641.39 514.3ZM640.33 514.61L642.18 511.28L644.03 514.61ZM642.97 514.61L644.82 511.28L646.67 514.61ZM645.61 514.3L647.46 510.97L649.31 514.3ZM648.25 513.98L650.1 510.65L651.95 513.98ZM650.89 513.66L652.74 510.33L654.59 513.66ZM653.53 513.35L655.38 510.02L657.23 513.35ZM656.17 513.03L658.02 509.7L659.87 513.03ZM658.81 512.71L660.66 509.38L662.51 512.71ZM661.45 512.4L663.3 509.07L665.15 512.4ZM621.85 509.4L623.7 506.07L625.55 509.4ZM623.93 509.65L625.78 506.32L627.63 509.65ZM626.02 509.9L627.87 506.57L629.72 509.9ZM628.1 510.15L629.95 506.82L631.8 510.15ZM630.19 510.4L632.04 507.07L633.89 510.4ZM632.27 510.65L634.12 507.32L635.97 510.65ZM634.36 510.9L636.21 507.57L638.06 510.9ZM636.44 511.15L638.29 507.82L640.14 511.15ZM638.52 511.4L640.37 508.07L642.22 511.4ZM640.61 511.65L642.46 508.32L644.31 511.65ZM642.69 511.65L644.54 508.32L646.39 511.65ZM644.78 511.4L646.63 508.07L648.48 511.4ZM646.86 511.15L648.71 507.82L650.56 511.15ZM648.94 510.9L650.79 507.57L652.64 510.9ZM651.03 510.65L652.88 507.32L654.73 510.65ZM653.11 510.4L654.96 507.07L656.81 510.4ZM655.2 510.15L657.05 506.82L658.9 510.15ZM657.28 509.9L659.13 506.57L660.98 509.9ZM659.37 509.65L661.22 506.32L663.07 509.65ZM661.45 509.4L663.3 506.07L665.15 509.4ZM621.85 505.59L623.7 502.26L625.55 505.59ZM623.93 505.8L625.78 502.47L627.63 505.8ZM626.02 506.01L627.87 502.68L629.72 506.01ZM628.1 506.22L629.95 502.89L631.8 506.22ZM630.19 506.43L632.04 503.1L633.89 506.43ZM632.27 506.63L634.12 503.3L635.97 506.63ZM634.36 506.84L636.21 503.51L638.06 506.84ZM636.44 507.05L638.29 503.72L640.14 507.05ZM638.52 507.26L640.37 503.93L642.22 507.26ZM640.61 507.47L642.46 504.14L644.31 507.47ZM642.69 507.47L644.54 504.14L646.39 507.47ZM644.78 507.26L646.63 503.93L648.48 507.26ZM646.86 507.05L648.71 503.72L650.56 507.05ZM648.94 506.84L650.79 503.51L652.64 506.84ZM651.03 506.63L652.88 503.3L654.73 506.63ZM653.11 506.43L654.96 503.1L656.81 506.43ZM655.2 506.22L657.05 502.89L658.9 506.22ZM657.28 506.01L659.13 502.68L660.98 506.01ZM659.37 505.8L661.22 502.47L663.07 505.8ZM661.45 505.59L663.3 502.26L665.15 505.59ZM621.85 501.39L623.7 498.06L625.55 501.39ZM623.93 501.6L625.78 498.27L627.63 501.6ZM626.02 501.81L627.87 498.48L629.72 501.81ZM628.1 502.02L629.95 498.69L631.8 502.02ZM630.19 502.23L632.04 498.9L633.89 502.23ZM632.27 502.43L634.12 499.1L635.97 502.43ZM634.36 502.64L636.21 499.31L638.06 502.64ZM636.44 502.85L638.29 499.52L640.14 502.85ZM638.52 503.06L640.37 499.73L642.22 503.06ZM640.61 503.27L642.46 499.94L644.31 503.27ZM642.69 503.27L644.54 499.94L646.39 503.27ZM644.78 503.06L646.63 499.73L648.48 503.06ZM646.86 502.85L648.71 499.52L650.56 502.85ZM648.94 502.64L650.79 499.31L652.64 502.64ZM651.03 502.43L652.88 499.1L654.73 502.43ZM653.11 502.23L654.96 498.9L656.81 502.23ZM655.2 502.02L657.05 498.69L658.9 502.02ZM657.28 501.81L659.13 498.48L660.98 501.81ZM659.37 501.6L661.22 498.27L663.07 501.6ZM661.45 501.39L663.3 498.06L665.15 501.39ZM621.85 497.59L623.7 494.26L625.55 497.59ZM623.93 497.76L625.78 494.43L627.63 497.76ZM626.02 497.92L627.87 494.59L629.72 497.92ZM628.1 498.09L629.95 494.76L631.8 498.09ZM630.19 498.26L632.04 494.93L633.89 498.26ZM632.27 498.42L634.12 495.09L635.97 498.42ZM634.36 498.59L636.21 495.26L638.06 498.59ZM636.44 498.76L638.29 495.43L640.14 498.76ZM638.52 498.92L640.37 495.59L642.22 498.92ZM640.61 499.09L642.46 495.76L644.31 499.09ZM642.69 499.09L644.54 495.76L646.39 499.09ZM644.78 498.92L646.63 495.59L648.48 498.92ZM646.86 498.76L648.71 495.43L650.56 498.76ZM648.94 498.59L650.79 495.26L652.64 498.59ZM651.03 498.42L652.88 495.09L654.73 498.42ZM653.11 498.26L654.96 494.93L656.81 498.26ZM655.2 498.09L657.05 494.76L658.9 498.09ZM657.28 497.92L659.13 494.59L660.98 497.92ZM659.37 497.76L661.22 494.43L663.07 497.76ZM661.45 497.59L663.3 494.26L665.15 497.59ZM621.85 493.39L623.7 490.06L625.55 493.39ZM623.93 493.56L625.78 490.23L627.63 493.56ZM626.02 493.72L627.87 490.39L629.72 493.72ZM628.1 493.89L629.95 490.56L631.8 493.89ZM630.19 494.06L632.04 490.73L633.89 494.06ZM632.27 494.22L634.12 490.89L635.97 494.22ZM634.36 494.39L636.21 491.06L638.06 494.39ZM636.44 494.56L638.29 491.23L640.14 494.56ZM638.52 494.72L640.37 491.39L642.22 494.72ZM640.61 494.89L642.46 491.56L644.31 494.89ZM642.69 494.89L644.54 491.56L646.39 494.89ZM644.78 494.72L646.63 491.39L648.48 494.72ZM646.86 494.56L648.71 491.23L650.56 494.56ZM648.94 494.39L650.79 491.06L652.64 494.39ZM651.03 494.22L652.88 490.89L654.73 494.22ZM653.11 494.06L654.96 490.73L656.81 494.06ZM655.2 493.89L657.05 490.56L658.9 493.89ZM657.28 493.72L659.13 490.39L660.98 493.72ZM659.37 493.56L661.22 490.23L663.07 493.56ZM661.45 493.39L663.3 490.06L665.15 493.39ZM621.85 489.39L623.7 486.06L625.55 489.39ZM624.18 489.55L626.03 486.22L627.88 489.55ZM626.51 489.71L628.36 486.38L630.21 489.71ZM628.84 489.88L630.69 486.55L632.54 489.88ZM631.17 490.04L633.02 486.71L634.87 490.04ZM633.5 490.2L635.35 486.87L637.2 490.2ZM635.83 490.36L637.68 487.03L639.53 490.36ZM638.16 490.53L640.01 487.2L641.86 490.53ZM640.49 490.69L642.34 487.36L644.19 490.69ZM642.81 490.69L644.66 487.36L646.51 490.69ZM645.14 490.53L646.99 487.2L648.84 490.53ZM647.47 490.36L649.32 487.03L651.17 490.36ZM649.8 490.2L651.65 486.87L653.5 490.2ZM652.13 490.04L653.98 486.71L655.83 490.04ZM654.46 489.88L656.31 486.55L658.16 489.88ZM656.79 489.71L658.64 486.38L660.49 489.71ZM659.12 489.55L660.97 486.22L662.82 489.55ZM661.45 489.39L663.3 486.06L665.15 489.39ZM621.85 485.38L623.7 482.05L625.55 485.38ZM624.18 485.52L626.03 482.19L627.88 485.52ZM626.51 485.66L628.36 482.33L630.21 485.66ZM628.84 485.8L630.69 482.47L632.54 485.8ZM631.17 485.94L633.02 482.61L634.87 485.94ZM633.5 486.08L635.35 482.75L637.2 486.08ZM635.83 486.22L637.68 482.89L639.53 486.22ZM638.16 486.36L640.01 483.03L641.86 486.36ZM640.49 486.5L642.34 483.17L644.19 486.5ZM642.81 486.5L644.66 483.17L646.51 486.5ZM645.14 486.36L646.99 483.03L648.84 486.36ZM647.47 486.22L649.32 482.89L651.17 486.22ZM649.8 486.08L651.65 482.75L653.5 486.08ZM652.13 485.94L653.98 482.61L655.83 485.94ZM654.46 485.8L656.31 482.47L658.16 485.8ZM656.79 485.66L658.64 482.33L660.49 485.66ZM659.12 485.52L660.97 482.19L662.82 485.52ZM661.45 485.38L663.3 482.05L665.15 485.38ZM621.85 481.38L623.7 478.05L625.55 481.38ZM624.49 481.51L626.34 478.18L628.19 481.51ZM627.13 481.65L628.98 478.32L630.83 481.65ZM629.77 481.78L631.62 478.45L633.47 481.78ZM632.41 481.91L634.26 478.58L636.11 481.91ZM635.05 482.04L636.9 478.71L638.75 482.04ZM637.69 482.17L639.54 478.84L641.39 482.17ZM640.33 482.31L642.18 478.98L644.03 482.31ZM642.97 482.31L644.82 478.98L646.67 482.31ZM645.61 482.17L647.46 478.84L649.31 482.17ZM648.25 482.04L650.1 478.71L651.95 482.04ZM650.89 481.91L652.74 478.58L654.59 481.91ZM653.53 481.78L655.38 478.45L657.23 481.78ZM656.17 481.65L658.02 478.32L659.87 481.65ZM658.81 481.51L660.66 478.18L662.51 481.51ZM661.45 481.38L663.3 478.05L665.15 481.38ZM622.15 477.2L624 473.87L625.85 477.2ZM624.75 477.33L626.6 474L628.45 477.33ZM627.35 477.46L629.2 474.13L631.05 477.46ZM629.95 477.59L631.8 474.26L633.65 477.59ZM632.55 477.72L634.4 474.39L636.25 477.72ZM635.15 477.85L637 474.52L638.85 477.85ZM637.75 477.98L639.6 474.65L641.45 477.98ZM640.35 478.11L642.2 474.78L644.05 478.11ZM642.95 478.11L644.8 474.78L646.65 478.11ZM645.55 477.98L647.4 474.65L649.25 477.98ZM648.15 477.85L650 474.52L651.85 477.85ZM650.75 477.72L652.6 474.39L654.45 477.72ZM653.35 477.59L655.2 474.26L657.05 477.59ZM655.95 477.46L657.8 474.13L659.65 477.46ZM658.55 477.33L660.4 474L662.25 477.33ZM661.15 477.2L663 473.87L664.85 477.2ZM623.15 472.83L625 469.5L626.85 472.83ZM626 472.95L627.85 469.62L629.7 472.95ZM628.84 473.06L630.69 469.73L632.54 473.06ZM631.69 473.17L633.54 469.84L635.39 473.17ZM634.53 473.29L636.38 469.96L638.23 473.29ZM637.38 473.4L639.23 470.07L641.08 473.4ZM640.23 473.52L642.08 470.19L643.93 473.52ZM643.07 473.52L644.92 470.19L646.77 473.52ZM645.92 473.4L647.77 470.07L649.62 473.4ZM648.77 473.29L650.62 469.96L652.47 473.29ZM651.61 473.17L653.46 469.84L655.31 473.17ZM654.46 473.06L656.31 469.73L658.16 473.06ZM657.3 472.95L659.15 469.62L661 472.95ZM660.15 472.83L662 469.5L663.85 472.83ZM625.65 467.27L627.5 463.94L629.35 467.27ZM630.22 467.27L632.07 463.94L633.92 467.27ZM634.79 467.27L636.64 463.94L638.49 467.27ZM639.36 467.27L641.21 463.94L643.06 467.27ZM643.94 467.27L645.79 463.94L647.64 467.27ZM648.51 467.27L650.36 463.94L652.21 467.27ZM653.08 467.27L654.93 463.94L656.78 467.27ZM657.65 467.27L659.5 463.94L661.35 467.27ZM636.35 461.47L638.2 458.14L640.05 461.47ZM647.75 461.47L649.6 458.14L651.45 461.47ZM653.05 461.47L654.9 458.14L656.75 461.47ZM630.25 457.17L632.1 453.84L633.95 457.17ZM641.65 454.67L643.5 451.34L645.35 454.67Z" fill="#000088"/>
<line x1="583.4" y1="478.9" x2="583.4" y2="517.4" stroke="#9E0000" stroke-width="0.9" />
<line x1="563.5" y1="497.6" x2="603.3" y2="497.6" stroke="#9E0000" stroke-width="0.9" />
<line x1="573.5" y1="478.9" x2="593.5" y2="478.9" stroke="#9E0000" stroke-width="0.9" />
<path d="M586 454.7V442.5H640.3V448.8" fill="none" stroke="#4B4B8F" stroke-width="1"/>
<text x="600" y="436.8" font-family="'Liberation Sans', sans-serif" font-size="8.2" fill="#111" font-weight="bold"><tspan font-style="italic">P</tspan>=0.146</text>
<text x="582.8" y="531.6" font-family="'Liberation Sans', sans-serif" font-size="10.2" fill="#111" font-weight="bold" text-anchor="middle" textLength="16.6" lengthAdjust="spacingAndGlyphs">pCR</text>
<text x="646" y="531.6" font-family="'Liberation Sans', sans-serif" font-size="10.2" fill="#111" font-weight="bold" text-anchor="middle" textLength="36" lengthAdjust="spacingAndGlyphs">non-pCR</text>
<text x="622.7" y="549.7" font-family="'Liberation Sans', sans-serif" font-size="9" fill="#111" font-weight="bold" text-anchor="middle" textLength="68.3" lengthAdjust="spacingAndGlyphs">M2 macrophage</text>
<text x="520.8" y="474.5" font-family="'Liberation Sans', sans-serif" font-size="7.9" fill="#111" font-weight="bold" text-anchor="middle" transform="rotate(-90 520.8 474.5)">Cell density (N/mm<tspan dy="-3" font-size="5">2</tspan></text>
<rect x="44.2" y="587.4" width="175.8" height="175.8" fill="#fff" stroke="#5A5A5A" stroke-width="1" />
<line x1="44.7" y1="753.4" x2="219.5" y2="753.4" stroke="#E3E3E3" stroke-width="0.7" stroke-dasharray="2.5,1.5"/>
<line x1="54.6" y1="587.9" x2="54.6" y2="762.7" stroke="#E3E3E3" stroke-width="0.7" stroke-dasharray="2.5,1.5"/>
<line x1="44.7" y1="736.09" x2="219.5" y2="736.09" stroke="#E3E3E3" stroke-width="0.7" stroke-dasharray="2.5,1.5"/>
<line x1="71.83" y1="587.9" x2="71.83" y2="762.7" stroke="#E3E3E3" stroke-width="0.7" stroke-dasharray="2.5,1.5"/>
<line x1="44.7" y1="718.78" x2="219.5" y2="718.78" stroke="#E3E3E3" stroke-width="0.7" stroke-dasharray="2.5,1.5"/>
<line x1="89.06" y1="587.9" x2="89.06" y2="762.7" stroke="#E3E3E3" stroke-width="0.7" stroke-dasharray="2.5,1.5"/>
<line x1="44.7" y1="701.47" x2="219.5" y2="701.47" stroke="#E3E3E3" stroke-width="0.7" stroke-dasharray="2.5,1.5"/>
<line x1="106.29" y1="587.9" x2="106.29" y2="762.7" stroke="#E3E3E3" stroke-width="0.7" stroke-dasharray="2.5,1.5"/>
<line x1="44.7" y1="684.16" x2="219.5" y2="684.16" stroke="#E3E3E3" stroke-width="0.7" stroke-dasharray="2.5,1.5"/>
<line x1="123.52" y1="587.9" x2="123.52" y2="762.7" stroke="#E3E3E3" stroke-width="0.7" stroke-dasharray="2.5,1.5"/>
<line x1="44.7" y1="666.85" x2="219.5" y2="666.85" stroke="#E3E3E3" stroke-width="0.7" stroke-dasharray="2.5,1.5"/>
<line x1="140.75" y1="587.9" x2="140.75" y2="762.7" stroke="#E3E3E3" stroke-width="0.7" stroke-dasharray="2.5,1.5"/>
<line x1="44.7" y1="649.54" x2="219.5" y2="649.54" stroke="#E3E3E3" stroke-width="0.7" stroke-dasharray="2.5,1.5"/>
<line x1="157.98" y1="587.9" x2="157.98" y2="762.7" stroke="#E3E3E3" stroke-width="0.7" stroke-dasharray="2.5,1.5"/>
<line x1="44.7" y1="632.23" x2="219.5" y2="632.23" stroke="#E3E3E3" stroke-width="0.7" stroke-dasharray="2.5,1.5"/>
<line x1="175.21" y1="587.9" x2="175.21" y2="762.7" stroke="#E3E3E3" stroke-width="0.7" stroke-dasharray="2.5,1.5"/>
<line x1="44.7" y1="614.92" x2="219.5" y2="614.92" stroke="#E3E3E3" stroke-width="0.7" stroke-dasharray="2.5,1.5"/>
<line x1="192.44" y1="587.9" x2="192.44" y2="762.7" stroke="#E3E3E3" stroke-width="0.7" stroke-dasharray="2.5,1.5"/>
<line x1="44.7" y1="597.61" x2="219.5" y2="597.61" stroke="#E3E3E3" stroke-width="0.7" stroke-dasharray="2.5,1.5"/>
<line x1="209.67" y1="587.9" x2="209.67" y2="762.7" stroke="#E3E3E3" stroke-width="0.7" stroke-dasharray="2.5,1.5"/>
<rect x="44.2" y="587.4" width="175.8" height="175.8" fill="none" stroke="#5A5A5A" stroke-width="1" />
<circle cx="54.6" cy="753.4" r="6.2" fill="#E46726"/>
<text x="54.6" y="754.55" font-family="'Liberation Sans', sans-serif" font-size="3.4" fill="#444" text-anchor="middle">1</text>
<circle cx="192.44" cy="753.4" r="3.85" fill="#ECF2F7"/>
<text x="192.44" y="754.55" font-family="'Liberation Sans', sans-serif" font-size="3.4" fill="#444" text-anchor="middle">-0.12</text>
<circle cx="71.83" cy="736.09" r="6.2" fill="#E46726"/>
<text x="71.83" y="737.24" font-family="'Liberation Sans', sans-serif" font-size="3.4" fill="#444" text-anchor="middle">1</text>
<circle cx="89.06" cy="736.09" r="4.33" fill="#F8D9C9"/>
<text x="89.06" y="737.24" font-family="'Liberation Sans', sans-serif" font-size="3.4" fill="#444" text-anchor="middle">0.23</text>
<circle cx="157.98" cy="736.09" r="4.04" fill="#E5EEF4"/>
<text x="157.98" y="737.24" font-family="'Liberation Sans', sans-serif" font-size="3.4" fill="#444" text-anchor="middle">-0.16</text>
<circle cx="175.21" cy="736.09" r="3.79" fill="#EDF3F7"/>
<text x="175.21" y="737.24" font-family="'Liberation Sans', sans-serif" font-size="3.4" fill="#444" text-anchor="middle">-0.11</text>
<circle cx="192.44" cy="736.09" r="3.95" fill="#E8F0F5"/>
<text x="192.44" y="737.24" font-family="'Liberation Sans', sans-serif" font-size="3.4" fill="#444" text-anchor="middle">-0.14</text>
<circle cx="209.67" cy="736.09" r="4.33" fill="#DBE7F0"/>
<text x="209.67" y="737.24" font-family="'Liberation Sans', sans-serif" font-size="3.4" fill="#444" text-anchor="middle">-0.23</text>
<circle cx="71.83" cy="718.78" r="4.33" fill="#F8D9C9"/>
<text x="71.83" y="719.93" font-family="'Liberation Sans', sans-serif" font-size="3.4" fill="#444" text-anchor="middle">0.23</text>
<circle cx="89.06" cy="718.78" r="6.2" fill="#E46726"/>
<text x="89.06" y="719.93" font-family="'Liberation Sans', sans-serif" font-size="3.4" fill="#444" text-anchor="middle">1</text>
<circle cx="106.29" cy="718.78" r="4.33" fill="#F8D9C9"/>
<text x="106.29" y="719.93" font-family="'Liberation Sans', sans-serif" font-size="3.4" fill="#444" text-anchor="middle">0.23</text>
<circle cx="123.52" cy="718.78" r="3.95" fill="#FBE8DD"/>
<text x="123.52" y="719.93" font-family="'Liberation Sans', sans-serif" font-size="3.4" fill="#444" text-anchor="middle">0.14</text>
<circle cx="175.21" cy="718.78" r="3.9" fill="#EAF1F6"/>
<text x="175.21" y="719.93" font-family="'Liberation Sans', sans-serif" font-size="3.4" fill="#444" text-anchor="middle">-0.13</text>
<circle cx="89.06" cy="701.47" r="4.33" fill="#F8D9C9"/>
<text x="89.06" y="702.62" font-family="'Liberation Sans', sans-serif" font-size="3.4" fill="#444" text-anchor="middle">0.23</text>
<circle cx="106.29" cy="701.47" r="6.2" fill="#E46726"/>
<text x="106.29" y="702.62" font-family="'Liberation Sans', sans-serif" font-size="3.4" fill="#444" text-anchor="middle">1</text>
<circle cx="123.52" cy="701.47" r="4.13" fill="#FAE1D4"/>
<text x="123.52" y="702.62" font-family="'Liberation Sans', sans-serif" font-size="3.4" fill="#444" text-anchor="middle">0.18</text>
<circle cx="140.75" cy="701.47" r="3.99" fill="#FBE6DB"/>
<text x="140.75" y="702.62" font-family="'Liberation Sans', sans-serif" font-size="3.4" fill="#444" text-anchor="middle">0.15</text>
<circle cx="209.67" cy="701.47" r="3.79" fill="#FCECE4"/>
<text x="209.67" y="702.62" font-family="'Liberation Sans', sans-serif" font-size="3.4" fill="#444" text-anchor="middle">0.11</text>
<circle cx="89.06" cy="684.16" r="3.95" fill="#FBE8DD"/>
<text x="89.06" y="685.31" font-family="'Liberation Sans', sans-serif" font-size="3.4" fill="#444" text-anchor="middle">0.14</text>
<circle cx="106.29" cy="684.16" r="4.13" fill="#FAE1D4"/>
<text x="106.29" y="685.31" font-family="'Liberation Sans', sans-serif" font-size="3.4" fill="#444" text-anchor="middle">0.18</text>
<circle cx="123.52" cy="684.16" r="6.2" fill="#E46726"/>
<text x="123.52" y="685.31" font-family="'Liberation Sans', sans-serif" font-size="3.4" fill="#444" text-anchor="middle">1</text>
<circle cx="140.75" cy="684.16" r="4.54" fill="#F7D0BC"/>
<text x="140.75" y="685.31" font-family="'Liberation Sans', sans-serif" font-size="3.4" fill="#444" text-anchor="middle">0.29</text>
<circle cx="175.21" cy="684.16" r="3.99" fill="#FBE6DB"/>
<text x="175.21" y="685.31" font-family="'Liberation Sans', sans-serif" font-size="3.4" fill="#444" text-anchor="middle">0.15</text>
<circle cx="192.44" cy="684.16" r="4.5" fill="#F7D2BE"/>
<text x="192.44" y="685.31" font-family="'Liberation Sans', sans-serif" font-size="3.4" fill="#444" text-anchor="middle">0.28</text>
<circle cx="209.67" cy="684.16" r="4.13" fill="#FAE1D4"/>
<text x="209.67" y="685.31" font-family="'Liberation Sans', sans-serif" font-size="3.4" fill="#444" text-anchor="middle">0.18</text>
<circle cx="106.29" cy="666.85" r="3.99" fill="#FBE6DB"/>
<text x="106.29" y="668" font-family="'Liberation Sans', sans-serif" font-size="3.4" fill="#444" text-anchor="middle">0.15</text>
<circle cx="123.52" cy="666.85" r="4.54" fill="#F7D0BC"/>
<text x="123.52" y="668" font-family="'Liberation Sans', sans-serif" font-size="3.4" fill="#444" text-anchor="middle">0.29</text>
<circle cx="140.75" cy="666.85" r="6.2" fill="#E46726"/>
<text x="140.75" y="668" font-family="'Liberation Sans', sans-serif" font-size="3.4" fill="#444" text-anchor="middle">1</text>
<circle cx="175.21" cy="666.85" r="3.9" fill="#FBE9E0"/>
<text x="175.21" y="668" font-family="'Liberation Sans', sans-serif" font-size="3.4" fill="#444" text-anchor="middle">0.13</text>
<circle cx="192.44" cy="666.85" r="4.6" fill="#F6CDB8"/>
<text x="192.44" y="668" font-family="'Liberation Sans', sans-serif" font-size="3.4" fill="#444" text-anchor="middle">0.31</text>
<circle cx="209.67" cy="666.85" r="4.13" fill="#FAE1D4"/>
<text x="209.67" y="668" font-family="'Liberation Sans', sans-serif" font-size="3.4" fill="#444" text-anchor="middle">0.18</text>
<circle cx="71.83" cy="649.54" r="4.04" fill="#E5EEF4"/>
<text x="71.83" y="650.69" font-family="'Liberation Sans', sans-serif" font-size="3.4" fill="#444" text-anchor="middle">-0.16</text>
<circle cx="157.98" cy="649.54" r="6.2" fill="#E46726"/>
<text x="157.98" y="650.69" font-family="'Liberation Sans', sans-serif" font-size="3.4" fill="#444" text-anchor="middle">1</text>
<circle cx="192.44" cy="649.54" r="3.99" fill="#FBE6DB"/>
<text x="192.44" y="650.69" font-family="'Liberation Sans', sans-serif" font-size="3.4" fill="#444" text-anchor="middle">0.15</text>
<circle cx="209.67" cy="649.54" r="4.21" fill="#F9DED0"/>
<text x="209.67" y="650.69" font-family="'Liberation Sans', sans-serif" font-size="3.4" fill="#444" text-anchor="middle">0.2</text>
<circle cx="71.83" cy="632.23" r="3.79" fill="#EDF3F7"/>
<text x="71.83" y="633.38" font-family="'Liberation Sans', sans-serif" font-size="3.4" fill="#444" text-anchor="middle">-0.11</text>
<circle cx="89.06" cy="632.23" r="3.9" fill="#EAF1F6"/>
<text x="89.06" y="633.38" font-family="'Liberation Sans', sans-serif" font-size="3.4" fill="#444" text-anchor="middle">-0.13</text>
<circle cx="123.52" cy="632.23" r="3.99" fill="#FBE6DB"/>
<text x="123.52" y="633.38" font-family="'Liberation Sans', sans-serif" font-size="3.4" fill="#444" text-anchor="middle">0.15</text>
<circle cx="140.75" cy="632.23" r="3.9" fill="#FBE9E0"/>
<text x="140.75" y="633.38" font-family="'Liberation Sans', sans-serif" font-size="3.4" fill="#444" text-anchor="middle">0.13</text>
<circle cx="175.21" cy="632.23" r="6.2" fill="#E46726"/>
<text x="175.21" y="633.38" font-family="'Liberation Sans', sans-serif" font-size="3.4" fill="#444" text-anchor="middle">1</text>
<circle cx="192.44" cy="632.23" r="4.21" fill="#F9DED0"/>
<text x="192.44" y="633.38" font-family="'Liberation Sans', sans-serif" font-size="3.4" fill="#444" text-anchor="middle">0.2</text>
<circle cx="209.67" cy="632.23" r="4.44" fill="#F7D5C3"/>
<text x="209.67" y="633.38" font-family="'Liberation Sans', sans-serif" font-size="3.4" fill="#444" text-anchor="middle">0.26</text>
<circle cx="54.6" cy="614.92" r="3.85" fill="#ECF2F7"/>
<text x="54.6" y="616.07" font-family="'Liberation Sans', sans-serif" font-size="3.4" fill="#444" text-anchor="middle">-0.12</text>
<circle cx="71.83" cy="614.92" r="3.95" fill="#E8F0F5"/>
<text x="71.83" y="616.07" font-family="'Liberation Sans', sans-serif" font-size="3.4" fill="#444" text-anchor="middle">-0.14</text>
<circle cx="123.52" cy="614.92" r="4.5" fill="#F7D2BE"/>
<text x="123.52" y="616.07" font-family="'Liberation Sans', sans-serif" font-size="3.4" fill="#444" text-anchor="middle">0.28</text>
<circle cx="140.75" cy="614.92" r="4.6" fill="#F6CDB8"/>
<text x="140.75" y="616.07" font-family="'Liberation Sans', sans-serif" font-size="3.4" fill="#444" text-anchor="middle">0.31</text>
<circle cx="157.98" cy="614.92" r="3.99" fill="#FBE6DB"/>
<text x="157.98" y="616.07" font-family="'Liberation Sans', sans-serif" font-size="3.4" fill="#444" text-anchor="middle">0.15</text>
<circle cx="175.21" cy="614.92" r="4.21" fill="#F9DED0"/>
<text x="175.21" y="616.07" font-family="'Liberation Sans', sans-serif" font-size="3.4" fill="#444" text-anchor="middle">0.2</text>
<circle cx="192.44" cy="614.92" r="6.2" fill="#E46726"/>
<text x="192.44" y="616.07" font-family="'Liberation Sans', sans-serif" font-size="3.4" fill="#444" text-anchor="middle">1</text>
<circle cx="209.67" cy="614.92" r="4.67" fill="#F6CAB3"/>
<text x="209.67" y="616.07" font-family="'Liberation Sans', sans-serif" font-size="3.4" fill="#444" text-anchor="middle">0.33</text>
<circle cx="71.83" cy="597.61" r="4.33" fill="#DBE7F0"/>
<text x="71.83" y="598.76" font-family="'Liberation Sans', sans-serif" font-size="3.4" fill="#444" text-anchor="middle">-0.23</text>
<circle cx="106.29" cy="597.61" r="3.79" fill="#FCECE4"/>
<text x="106.29" y="598.76" font-family="'Liberation Sans', sans-serif" font-size="3.4" fill="#444" text-anchor="middle">0.11</text>
<circle cx="123.52" cy="597.61" r="4.13" fill="#FAE1D4"/>
<text x="123.52" y="598.76" font-family="'Liberation Sans', sans-serif" font-size="3.4" fill="#444" text-anchor="middle">0.18</text>
<circle cx="140.75" cy="597.61" r="4.13" fill="#FAE1D4"/>
<text x="140.75" y="598.76" font-family="'Liberation Sans', sans-serif" font-size="3.4" fill="#444" text-anchor="middle">0.18</text>
<circle cx="157.98" cy="597.61" r="4.21" fill="#F9DED0"/>
<text x="157.98" y="598.76" font-family="'Liberation Sans', sans-serif" font-size="3.4" fill="#444" text-anchor="middle">0.2</text>
<circle cx="175.21" cy="597.61" r="4.44" fill="#F7D5C3"/>
<text x="175.21" y="598.76" font-family="'Liberation Sans', sans-serif" font-size="3.4" fill="#444" text-anchor="middle">0.26</text>
<circle cx="192.44" cy="597.61" r="4.67" fill="#F6CAB3"/>
<text x="192.44" y="598.76" font-family="'Liberation Sans', sans-serif" font-size="3.4" fill="#444" text-anchor="middle">0.33</text>
<circle cx="209.67" cy="597.61" r="6.2" fill="#E46726"/>
<text x="209.67" y="598.76" font-family="'Liberation Sans', sans-serif" font-size="3.4" fill="#444" text-anchor="middle">1</text>
<line x1="41.8" y1="753.4" x2="44.2" y2="753.4" stroke="#333" stroke-width="0.8" />
<line x1="54.6" y1="763.2" x2="54.6" y2="765.6" stroke="#333" stroke-width="0.8" />
<text x="27.7" y="756.3" font-family="'Liberation Serif', serif" font-size="8.4" fill="#222" text-anchor="middle" textLength="16.6" lengthAdjust="spacingAndGlyphs">Stage</text>
<text x="52" y="777.6" font-family="'Liberation Serif', serif" font-size="8.4" fill="#222" text-anchor="middle" textLength="16.7" lengthAdjust="spacingAndGlyphs">Stage</text>
<line x1="41.8" y1="736.09" x2="44.2" y2="736.09" stroke="#333" stroke-width="0.8" />
<line x1="71.83" y1="763.2" x2="71.83" y2="765.6" stroke="#333" stroke-width="0.8" />
<text x="28.7" y="738.99" font-family="'Liberation Serif', serif" font-size="8.4" fill="#222" text-anchor="middle" textLength="10.1" lengthAdjust="spacingAndGlyphs">HR</text>
<text x="70.7" y="777.6" font-family="'Liberation Serif', serif" font-size="8.4" fill="#222" text-anchor="middle" textLength="10.4" lengthAdjust="spacingAndGlyphs">HR</text>
<line x1="41.8" y1="718.78" x2="44.2" y2="718.78" stroke="#333" stroke-width="0.8" />
<line x1="89.06" y1="763.2" x2="89.06" y2="765.6" stroke="#333" stroke-width="0.8" />
<text x="27.8" y="721.68" font-family="'Liberation Serif', serif" font-size="8.4" fill="#222" text-anchor="middle" textLength="14.6" lengthAdjust="spacingAndGlyphs">Mast</text>
<text x="89" y="777.6" font-family="'Liberation Serif', serif" font-size="8.4" fill="#222" text-anchor="middle" textLength="14.8" lengthAdjust="spacingAndGlyphs">Mast</text>
<line x1="41.8" y1="701.47" x2="44.2" y2="701.47" stroke="#333" stroke-width="0.8" />
<line x1="106.29" y1="763.2" x2="106.29" y2="765.6" stroke="#333" stroke-width="0.8" />
<text x="26.3" y="704.37" font-family="'Liberation Serif', serif" font-size="8.4" fill="#222" text-anchor="middle" textLength="10" lengthAdjust="spacingAndGlyphs">M1</text>
<text x="106.8" y="777.6" font-family="'Liberation Serif', serif" font-size="8.4" fill="#222" text-anchor="middle" textLength="10.5" lengthAdjust="spacingAndGlyphs">M1</text>
<line x1="41.8" y1="684.16" x2="44.2" y2="684.16" stroke="#333" stroke-width="0.8" />
<line x1="123.52" y1="763.2" x2="123.52" y2="765.6" stroke="#333" stroke-width="0.8" />
<text x="30.9" y="687.06" font-family="'Liberation Serif', serif" font-size="8.4" fill="#222" text-anchor="middle" textLength="14.3" lengthAdjust="spacingAndGlyphs">Treg</text>
<text x="122" y="777.6" font-family="'Liberation Serif', serif" font-size="8.4" fill="#222" text-anchor="middle" textLength="14.2" lengthAdjust="spacingAndGlyphs">Treg</text>
<line x1="41.8" y1="666.85" x2="44.2" y2="666.85" stroke="#333" stroke-width="0.8" />
<line x1="140.75" y1="763.2" x2="140.75" y2="765.6" stroke="#333" stroke-width="0.8" />
<text x="29" y="669.75" font-family="'Liberation Serif', serif" font-size="8.4" fill="#222" text-anchor="middle" textLength="10.5" lengthAdjust="spacingAndGlyphs">M2</text>
<text x="139.1" y="777.6" font-family="'Liberation Serif', serif" font-size="8.4" fill="#222" text-anchor="middle" textLength="11" lengthAdjust="spacingAndGlyphs">M2</text>
<line x1="41.8" y1="649.54" x2="44.2" y2="649.54" stroke="#333" stroke-width="0.8" />
<line x1="157.98" y1="763.2" x2="157.98" y2="765.6" stroke="#333" stroke-width="0.8" />
<text x="26" y="652.44" font-family="'Liberation Serif', serif" font-size="8.4" fill="#222" text-anchor="middle" textLength="18.1" lengthAdjust="spacingAndGlyphs">HER2</text>
<text x="155.8" y="777.6" font-family="'Liberation Serif', serif" font-size="8.4" fill="#222" text-anchor="middle" textLength="17.9" lengthAdjust="spacingAndGlyphs">HER2</text>
<line x1="41.8" y1="632.23" x2="44.2" y2="632.23" stroke="#333" stroke-width="0.8" />
<line x1="175.21" y1="763.2" x2="175.21" y2="765.6" stroke="#333" stroke-width="0.8" />
<text x="27" y="635.13" font-family="'Liberation Serif', serif" font-size="8.4" fill="#222" text-anchor="middle" textLength="14.3" lengthAdjust="spacingAndGlyphs">Ki67</text>
<text x="175.7" y="777.6" font-family="'Liberation Serif', serif" font-size="8.4" fill="#222" text-anchor="middle" textLength="15.4" lengthAdjust="spacingAndGlyphs">Ki67</text>
<line x1="41.8" y1="614.92" x2="44.2" y2="614.92" stroke="#333" stroke-width="0.8" />
<line x1="192.44" y1="763.2" x2="192.44" y2="765.6" stroke="#333" stroke-width="0.8" />
<text x="28.75" y="617.82" font-family="'Liberation Serif', serif" font-size="8.4" fill="#222" text-anchor="middle" textLength="17.7" lengthAdjust="spacingAndGlyphs">sTILs</text>
<text x="194.6" y="777.6" font-family="'Liberation Serif', serif" font-size="8.4" fill="#222" text-anchor="middle" textLength="18.2" lengthAdjust="spacingAndGlyphs">sTILs</text>
<line x1="41.8" y1="597.61" x2="44.2" y2="597.61" stroke="#333" stroke-width="0.8" />
<line x1="209.67" y1="763.2" x2="209.67" y2="765.6" stroke="#333" stroke-width="0.8" />
<text x="28.5" y="600.51" font-family="'Liberation Serif', serif" font-size="8.4" fill="#222" text-anchor="middle" textLength="19" lengthAdjust="spacingAndGlyphs">Grade</text>
<text x="215.7" y="777.6" font-family="'Liberation Serif', serif" font-size="8.4" fill="#222" text-anchor="middle" textLength="18.7" lengthAdjust="spacingAndGlyphs">Grade</text>
<defs><linearGradient id="cb" x1="0" y1="0" x2="0" y2="1"><stop offset="0" stop-color="#E46726"/><stop offset="0.5" stop-color="#FFFFFF"/><stop offset="1" stop-color="#6D9EC1"/></linearGradient></defs>
<rect x="230.4" y="654.8" width="9.2" height="50.8" fill="url(#cb)" stroke="none" stroke-width="1" />
<line x1="230.4" y1="654.8" x2="232.2" y2="654.8" stroke="#fff" stroke-width="0.5" />
<line x1="237.8" y1="654.8" x2="239.6" y2="654.8" stroke="#fff" stroke-width="0.5" />
<text x="242.8" y="657.1" font-family="'Liberation Sans', sans-serif" font-size="6.2" fill="#333" textLength="7.2" lengthAdjust="spacingAndGlyphs">1.0</text>
<line x1="230.4" y1="667.5" x2="232.2" y2="667.5" stroke="#fff" stroke-width="0.5" />
<line x1="237.8" y1="667.5" x2="239.6" y2="667.5" stroke="#fff" stroke-width="0.5" />
<text x="242.8" y="669.8" font-family="'Liberation Sans', sans-serif" font-size="6.2" fill="#333" textLength="7.2" lengthAdjust="spacingAndGlyphs">0.5</text>
<line x1="230.4" y1="680.2" x2="232.2" y2="680.2" stroke="#fff" stroke-width="0.5" />
<line x1="237.8" y1="680.2" x2="239.6" y2="680.2" stroke="#fff" stroke-width="0.5" />
<text x="242.8" y="682.5" font-family="'Liberation Sans', sans-serif" font-size="6.2" fill="#333" textLength="7.2" lengthAdjust="spacingAndGlyphs">0.0</text>
<line x1="230.4" y1="692.9" x2="232.2" y2="692.9" stroke="#fff" stroke-width="0.5" />
<line x1="237.8" y1="692.9" x2="239.6" y2="692.9" stroke="#fff" stroke-width="0.5" />
<text x="242.8" y="695.2" font-family="'Liberation Sans', sans-serif" font-size="6.2" fill="#333" textLength="10.2" lengthAdjust="spacingAndGlyphs">-0.5</text>
<line x1="230.4" y1="705.6" x2="232.2" y2="705.6" stroke="#fff" stroke-width="0.5" />
<line x1="237.8" y1="705.6" x2="239.6" y2="705.6" stroke="#fff" stroke-width="0.5" />
<text x="242.8" y="707.9" font-family="'Liberation Sans', sans-serif" font-size="6.2" fill="#333" textLength="10.2" lengthAdjust="spacingAndGlyphs">-1.0</text>
<g fill="none" stroke="#222" stroke-width="1.05" transform="translate(230.5 0) scale(0.8 1) translate(-230.5 0)"><path d="M230.8 646.2h4.4M233 645.2v6M230.6 649.5l2.4-2.2 2.3 2.2M236 646h3v4.8h-3zM236 648.4h3"/><path d="M241 645.7l.8 1M243.8 645.7l-.8 1M240.6 647.4h4.6M240.4 649.3h5M242.9 647.4v1.9l-2.4 2M242.9 649.3l2.6 2"/><path d="M247 645.5v5.8M246.2 647.8l1.6-1M248.2 647.4h4M248.2 649.4h4M247.8 651.2h4.8M250.2 645.5v5.7"/></g>
<rect x="282.2" y="591.1" width="173.3" height="176.9" fill="#fff" stroke="#8A8A8A" stroke-width="0.9" />
<line x1="282.2" y1="768" x2="455.5" y2="591.1" stroke="#C8C8C8" stroke-width="0.6" stroke-dasharray="1.5,1.2"/>
<line x1="280.7" y1="768" x2="282.2" y2="768" stroke="#777" stroke-width="0.5" />
<line x1="282.2" y1="768" x2="282.2" y2="769.5" stroke="#777" stroke-width="0.5" />
<text x="280" y="769.2" font-family="'Liberation Sans', sans-serif" font-size="3.6" fill="#666" text-anchor="end">0.00</text>
<text x="282.2" y="773.2" font-family="'Liberation Sans', sans-serif" font-size="3.6" fill="#666" text-anchor="middle">0.00</text>
<line x1="280.7" y1="723.77" x2="282.2" y2="723.77" stroke="#777" stroke-width="0.5" />
<line x1="325.52" y1="768" x2="325.52" y2="769.5" stroke="#777" stroke-width="0.5" />
<text x="280" y="724.98" font-family="'Liberation Sans', sans-serif" font-size="3.6" fill="#666" text-anchor="end">0.25</text>
<text x="325.52" y="773.2" font-family="'Liberation Sans', sans-serif" font-size="3.6" fill="#666" text-anchor="middle">0.25</text>
<line x1="280.7" y1="679.55" x2="282.2" y2="679.55" stroke="#777" stroke-width="0.5" />
<line x1="368.85" y1="768" x2="368.85" y2="769.5" stroke="#777" stroke-width="0.5" />
<text x="280" y="680.75" font-family="'Liberation Sans', sans-serif" font-size="3.6" fill="#666" text-anchor="end">0.50</text>
<text x="368.85" y="773.2" font-family="'Liberation Sans', sans-serif" font-size="3.6" fill="#666" text-anchor="middle">0.50</text>
<line x1="280.7" y1="635.33" x2="282.2" y2="635.33" stroke="#777" stroke-width="0.5" />
<line x1="412.18" y1="768" x2="412.18" y2="769.5" stroke="#777" stroke-width="0.5" />
<text x="280" y="636.53" font-family="'Liberation Sans', sans-serif" font-size="3.6" fill="#666" text-anchor="end">0.75</text>
<text x="412.18" y="773.2" font-family="'Liberation Sans', sans-serif" font-size="3.6" fill="#666" text-anchor="middle">0.75</text>
<line x1="280.7" y1="591.1" x2="282.2" y2="591.1" stroke="#777" stroke-width="0.5" />
<line x1="455.5" y1="768" x2="455.5" y2="769.5" stroke="#777" stroke-width="0.5" />
<text x="280" y="592.3" font-family="'Liberation Sans', sans-serif" font-size="3.6" fill="#666" text-anchor="end">1.00</text>
<text x="455.5" y="773.2" font-family="'Liberation Sans', sans-serif" font-size="3.6" fill="#666" text-anchor="middle">1.00</text>
<path d="M282.2 768L282.2 767.24L282.2 766.36L282.2 765.44L282.21 764.51L282.21 763.57L282.22 762.62L282.22 761.68L282.23 760.73L282.24 759.79L282.25 758.85L282.26 757.91L282.28 756.98L282.29 756.05L282.31 755.12L282.33 754.2L282.35 753.28L282.37 752.37L282.39 751.46L282.41 750.55L282.44 749.65L282.46 748.75L282.49 747.86L282.52 746.98L282.56 746.09L282.59 745.21L282.62 744.34L282.66 743.47L282.7 742.6L282.74 741.74L282.78 740.89L282.82 740.03L282.87 739.19L282.92 738.34L282.96 737.5L283.02 736.67L283.07 735.84L283.12 735.01L283.18 734.19L283.23 733.37L283.29 732.55L283.35 731.74L283.42 730.93L283.48 730.13L283.55 729.33L283.62 728.54L283.69 727.74L283.76 726.96L283.83 726.17L283.91 725.39L283.99 724.62L284.07 723.84L284.15 723.07L284.23 722.31L284.32 721.55L284.4 720.79L284.49 720.03L284.58 719.28L284.68 718.54L284.77 717.79L284.87 717.05L284.97 716.31L285.07 715.58L285.17 714.85L285.28 714.12L285.38 713.4L285.49 712.68L285.6 711.96L285.71 711.25L285.83 710.53L285.95 709.83L286.06 709.12L286.18 708.42L286.31 707.72L286.43 707.03L286.56 706.34L286.69 705.65L286.82 704.96L286.95 704.28L287.09 703.6L287.22 702.92L287.36 702.25L287.5 701.58L287.65 700.91L287.79 700.25L287.94 699.59L288.09 698.93L288.24 698.27L288.4 697.62L288.55 696.97L288.71 696.32L288.87 695.68L289.03 695.03L289.2 694.39L289.36 693.76L289.53 693.12L289.7 692.49L289.88 691.87L290.05 691.24L290.23 690.62L290.41 690L290.59 689.38L290.77 688.77L290.96 688.15L291.15 687.55L291.34 686.94L291.53 686.33L291.73 685.73L291.92 685.13L292.12 684.54L292.32 683.94L292.53 683.35L292.73 682.76L292.94 682.18L293.15 681.59L293.36 681.01L293.58 680.43L293.8 679.86L294.01 679.28L294.24 678.71L294.46 678.14L294.69 677.58L294.91 677.01L295.14 676.45L295.38 675.89L295.61 675.33L295.85 674.78L296.09 674.23L296.33 673.68L296.57 673.13L296.82 672.58L297.07 672.04L297.32 671.5L297.57 670.96L297.83 670.42L298.09 669.89L298.35 669.36L298.61 668.83L298.87 668.3L299.14 667.78L299.41 667.25L299.68 666.73L299.95 666.21L300.23 665.7L300.51 665.18L300.79 664.67L301.07 664.16L301.36 663.65L301.65 663.15L301.94 662.65L302.23 662.14L302.52 661.65L302.82 661.15L303.12 660.65L303.42 660.16L303.73 659.67L304.03 659.18L304.34 658.7L304.65 658.21L304.97 657.73L305.29 657.25L305.6 656.77L305.92 656.29L306.25 655.82L306.57 655.35L306.9 654.88L307.23 654.41L307.57 653.94L307.9 653.48L308.24 653.02L308.58 652.56L308.92 652.1L309.27 651.64L309.61 651.19L309.96 650.73L310.32 650.28L310.67 649.84L311.03 649.39L311.39 648.94L311.75 648.5L312.11 648.06L312.48 647.62L312.85 647.19L313.22 646.75L313.6 646.32L313.97 645.89L314.35 645.46L314.73 645.03L315.12 644.6L315.5 644.18L315.89 643.76L316.28 643.34L316.68 642.92L317.07 642.5L317.47 642.09L317.87 641.67L318.28 641.26L318.68 640.85L319.09 640.45L319.5 640.04L319.92 639.64L320.33 639.23L320.75 638.83L321.17 638.44L321.6 638.04L322.02 637.64L322.45 637.25L322.88 636.86L323.32 636.47L323.75 636.08L324.19 635.7L324.63 635.31L325.08 634.93L325.52 634.55L325.97 634.17L326.42 633.79L326.88 633.42L327.33 633.04L327.79 632.67L328.25 632.3L328.72 631.93L329.18 631.56L329.65 631.2L330.12 630.83L330.6 630.47L331.07 630.11L331.55 629.75L332.03 629.39L332.52 629.04L333 628.69L333.49 628.33L333.99 627.98L334.48 627.63L334.98 627.29L335.48 626.94L335.98 626.6L336.48 626.25L336.99 625.91L337.5 625.58L338.01 625.24L338.53 624.9L339.05 624.57L339.57 624.24L340.09 623.9L340.61 623.57L341.14 623.25L341.67 622.92L342.21 622.6L342.74 622.27L343.28 621.95L343.82 621.63L344.37 621.31L344.91 621L345.46 620.68L346.01 620.37L346.57 620.06L347.12 619.75L347.68 619.44L348.24 619.13L348.81 618.83L349.38 618.52L349.94 618.22L350.52 617.92L351.09 617.62L351.67 617.32L352.25 617.03L352.83 616.73L353.42 616.44L354.01 616.15L354.6 615.86L355.19 615.57L355.79 615.28L356.39 614.99L356.99 614.71L357.59 614.43L358.2 614.15L358.81 613.87L359.42 613.59L360.03 613.31L360.65 613.04L361.27 612.77L361.89 612.49L362.52 612.22L363.15 611.95L363.78 611.69L364.41 611.42L365.05 611.16L365.68 610.89L366.33 610.63L366.97 610.37L367.62 610.11L368.27 609.86L368.92 609.6L369.57 609.35L370.23 609.1L370.89 608.84L371.55 608.6L372.22 608.35L372.89 608.1L373.56 607.86L374.23 607.61L374.91 607.37L375.59 607.13L376.27 606.89L376.95 606.65L377.64 606.42L378.33 606.18L379.02 605.95L379.72 605.72L380.41 605.49L381.12 605.26L381.82 605.03L382.52 604.81L383.23 604.58L383.94 604.36L384.66 604.14L385.38 603.92L386.1 603.7L386.82 603.48L387.54 603.27L388.27 603.05L389 602.84L389.73 602.63L390.47 602.42L391.21 602.21L391.95 602L392.7 601.8L393.44 601.6L394.19 601.39L394.95 601.19L395.7 600.99L396.46 600.8L397.22 600.6L397.98 600.41L398.75 600.21L399.52 600.02L400.29 599.83L401.06 599.64L401.84 599.45L402.62 599.27L403.4 599.08L404.19 598.9L404.98 598.72L405.77 598.54L406.56 598.36L407.36 598.18L408.16 598.01L408.96 597.84L409.77 597.66L410.58 597.49L411.39 597.32L412.2 597.16L413.02 596.99L413.83 596.82L414.66 596.66L415.48 596.5L416.31 596.34L417.14 596.18L417.97 596.03L418.81 595.87L419.65 595.72L420.49 595.56L421.33 595.41L422.18 595.27L423.03 595.12L423.88 594.97L424.74 594.83L425.59 594.69L426.46 594.55L427.32 594.41L428.19 594.27L429.06 594.14L429.93 594L430.8 593.87L431.68 593.74L432.56 593.61L433.44 593.48L434.33 593.36L435.22 593.24L436.11 593.12L437.01 593L437.9 592.88L438.81 592.76L439.71 592.65L440.61 592.54L441.52 592.43L442.44 592.32L443.35 592.22L444.27 592.11L445.19 592.01L446.11 591.92L447.04 591.82L447.97 591.73L448.9 591.64L449.83 591.55L450.77 591.46L451.71 591.38L452.65 591.3L453.6 591.23L454.55 591.16L455.5 591.1" fill="none" stroke="#E8705A" stroke-width="0.95"/>
<path d="M282.2 768L282.2 767.28L282.2 766.44L282.2 765.56L282.21 764.66L282.21 763.75L282.22 762.84L282.22 761.93L282.23 761.01L282.24 760.1L282.25 759.18L282.26 758.27L282.28 757.36L282.29 756.46L282.31 755.56L282.33 754.66L282.35 753.76L282.37 752.87L282.39 751.98L282.41 751.1L282.44 750.22L282.46 749.34L282.49 748.47L282.52 747.6L282.56 746.74L282.59 745.88L282.62 745.02L282.66 744.17L282.7 743.32L282.74 742.47L282.78 741.63L282.82 740.8L282.87 739.96L282.92 739.13L282.96 738.31L283.02 737.49L283.07 736.67L283.12 735.86L283.18 735.05L283.23 734.24L283.29 733.44L283.35 732.64L283.42 731.84L283.48 731.05L283.55 730.26L283.62 729.48L283.69 728.7L283.76 727.92L283.83 727.15L283.91 726.38L283.99 725.61L284.07 724.85L284.15 724.09L284.23 723.33L284.32 722.58L284.4 721.83L284.49 721.08L284.58 720.34L284.68 719.6L284.77 718.86L284.87 718.13L284.97 717.4L285.07 716.67L285.17 715.95L285.28 715.23L285.38 714.51L285.49 713.8L285.6 713.09L285.71 712.38L285.83 711.68L285.95 710.97L286.06 710.28L286.18 709.58L286.31 708.89L286.43 708.2L286.56 707.51L286.69 706.83L286.82 706.15L286.95 705.47L287.09 704.79L287.22 704.12L287.36 703.45L287.5 702.78L287.65 702.12L287.79 701.46L287.94 700.8L288.09 700.15L288.24 699.49L288.4 698.84L288.55 698.2L288.71 697.55L288.87 696.91L289.03 696.27L289.2 695.63L289.36 695L289.53 694.37L289.7 693.74L289.88 693.11L290.05 692.49L290.23 691.87L290.41 691.25L290.59 690.64L290.77 690.02L290.96 689.41L291.15 688.81L291.34 688.2L291.53 687.6L291.73 687L291.92 686.4L292.12 685.8L292.32 685.21L292.53 684.62L292.73 684.03L292.94 683.45L293.15 682.86L293.36 682.28L293.58 681.7L293.8 681.13L294.01 680.55L294.24 679.98L294.46 679.41L294.69 678.85L294.91 678.28L295.14 677.72L295.38 677.16L295.61 676.6L295.85 676.05L296.09 675.49L296.33 674.94L296.57 674.39L296.82 673.85L297.07 673.3L297.32 672.76L297.57 672.22L297.83 671.68L298.09 671.15L298.35 670.62L298.61 670.09L298.87 669.56L299.14 669.03L299.41 668.51L299.68 667.98L299.95 667.46L300.23 666.95L300.51 666.43L300.79 665.92L301.07 665.4L301.36 664.89L301.65 664.39L301.94 663.88L302.23 663.38L302.52 662.88L302.82 662.38L303.12 661.88L303.42 661.39L303.73 660.89L304.03 660.4L304.34 659.91L304.65 659.43L304.97 658.94L305.29 658.46L305.6 657.98L305.92 657.5L306.25 657.02L306.57 656.55L306.9 656.07L307.23 655.6L307.57 655.13L307.9 654.67L308.24 654.2L308.58 653.74L308.92 653.27L309.27 652.82L309.61 652.36L309.96 651.9L310.32 651.45L310.67 651L311.03 650.55L311.39 650.1L311.75 649.65L312.11 649.21L312.48 648.76L312.85 648.32L313.22 647.89L313.6 647.45L313.97 647.01L314.35 646.58L314.73 646.15L315.12 645.72L315.5 645.29L315.89 644.87L316.28 644.44L316.68 644.02L317.07 643.6L317.47 643.18L317.87 642.76L318.28 642.35L318.68 641.93L319.09 641.52L319.5 641.11L319.92 640.7L320.33 640.3L320.75 639.89L321.17 639.49L321.6 639.09L322.02 638.69L322.45 638.29L322.88 637.9L323.32 637.5L323.75 637.11L324.19 636.72L324.63 636.33L325.08 635.94L325.52 635.56L325.97 635.17L326.42 634.79L326.88 634.41L327.33 634.03L327.79 633.65L328.25 633.28L328.72 632.9L329.18 632.53L329.65 632.16L330.12 631.79L330.6 631.43L331.07 631.06L331.55 630.7L332.03 630.34L332.52 629.97L333 629.62L333.49 629.26L333.99 628.9L334.48 628.55L334.98 628.2L335.48 627.85L335.98 627.5L336.48 627.15L336.99 626.8L337.5 626.46L338.01 626.12L338.53 625.78L339.05 625.44L339.57 625.1L340.09 624.76L340.61 624.43L341.14 624.09L341.67 623.76L342.21 623.43L342.74 623.11L343.28 622.78L343.82 622.45L344.37 622.13L344.91 621.81L345.46 621.49L346.01 621.17L346.57 620.85L347.12 620.54L347.68 620.22L348.24 619.91L348.81 619.6L349.38 619.29L349.94 618.98L350.52 618.67L351.09 618.37L351.67 618.06L352.25 617.76L352.83 617.46L353.42 617.16L354.01 616.87L354.6 616.57L355.19 616.28L355.79 615.98L356.39 615.69L356.99 615.4L357.59 615.12L358.2 614.83L358.81 614.54L359.42 614.26L360.03 613.98L360.65 613.7L361.27 613.42L361.89 613.14L362.52 612.86L363.15 612.59L363.78 612.32L364.41 612.05L365.05 611.78L365.68 611.51L366.33 611.24L366.97 610.97L367.62 610.71L368.27 610.45L368.92 610.19L369.57 609.93L370.23 609.67L370.89 609.41L371.55 609.16L372.22 608.9L372.89 608.65L373.56 608.4L374.23 608.15L374.91 607.9L375.59 607.66L376.27 607.41L376.95 607.17L377.64 606.93L378.33 606.69L379.02 606.45L379.72 606.21L380.41 605.97L381.12 605.74L381.82 605.51L382.52 605.27L383.23 605.04L383.94 604.82L384.66 604.59L385.38 604.36L386.1 604.14L386.82 603.92L387.54 603.69L388.27 603.47L389 603.26L389.73 603.04L390.47 602.82L391.21 602.61L391.95 602.4L392.7 602.19L393.44 601.98L394.19 601.77L394.95 601.56L395.7 601.36L396.46 601.15L397.22 600.95L397.98 600.75L398.75 600.55L399.52 600.36L400.29 600.16L401.06 599.97L401.84 599.77L402.62 599.58L403.4 599.39L404.19 599.2L404.98 599.02L405.77 598.83L406.56 598.65L407.36 598.46L408.16 598.28L408.96 598.1L409.77 597.93L410.58 597.75L411.39 597.57L412.2 597.4L413.02 597.23L413.83 597.06L414.66 596.89L415.48 596.72L416.31 596.56L417.14 596.39L417.97 596.23L418.81 596.07L419.65 595.91L420.49 595.76L421.33 595.6L422.18 595.45L423.03 595.29L423.88 595.14L424.74 594.99L425.59 594.85L426.46 594.7L427.32 594.56L428.19 594.41L429.06 594.27L429.93 594.13L430.8 594L431.68 593.86L432.56 593.73L433.44 593.6L434.33 593.47L435.22 593.34L436.11 593.21L437.01 593.09L437.9 592.97L438.81 592.85L439.71 592.73L440.61 592.61L441.52 592.5L442.44 592.39L443.35 592.28L444.27 592.17L445.19 592.06L446.11 591.96L447.04 591.86L447.97 591.76L448.9 591.67L449.83 591.57L450.77 591.48L451.71 591.4L452.65 591.32L453.6 591.24L454.55 591.17L455.5 591.1" fill="none" stroke="#3E9A3E" stroke-width="0.95"/>
<text x="269.8" y="682" font-family="'Liberation Sans', sans-serif" font-size="8.6" fill="#111" font-weight="bold" text-anchor="middle" transform="rotate(-90 269.8 682)" textLength="38.5" lengthAdjust="spacingAndGlyphs">sensitivity</text>
<text x="367.2" y="783.5" font-family="'Liberation Sans', sans-serif" font-size="8.6" fill="#111" font-weight="bold" text-anchor="middle" textLength="45" lengthAdjust="spacingAndGlyphs">1-specificity</text>
<text x="381" y="726" font-family="'Liberation Sans', sans-serif" font-size="7.2" fill="#222" textLength="14" lengthAdjust="spacingAndGlyphs">AUC</text>
<line x1="380" y1="732.5" x2="405.8" y2="732.5" stroke="#E8705A" stroke-width="1" />
<line x1="380" y1="738.9" x2="405.8" y2="738.9" stroke="#3E9A3E" stroke-width="1" />
<text x="408" y="733.6" font-family="'Liberation Sans', sans-serif" font-size="7.2" fill="#222" textLength="39.5" lengthAdjust="spacingAndGlyphs">IPMim:0.829</text>
<text x="408" y="741.8" font-family="'Liberation Sans', sans-serif" font-size="7.2" fill="#222" textLength="32" lengthAdjust="spacingAndGlyphs">IPM:0.821</text>
<text x="481.5" y="603.2" font-family="'Liberation Serif', serif" font-size="6.6" fill="#222" textLength="14.3" lengthAdjust="spacingAndGlyphs">Points</text>
<text x="482" y="623.2" font-family="'Liberation Serif', serif" font-size="6.6" fill="#222" textLength="17" lengthAdjust="spacingAndGlyphs">T Stage</text>
<text x="482" y="642.6" font-family="'Liberation Serif', serif" font-size="6.6" fill="#222" textLength="21" lengthAdjust="spacingAndGlyphs">TIL_score</text>
<text x="482" y="662.6" font-family="'Liberation Serif', serif" font-size="6.6" fill="#222" textLength="6.5" lengthAdjust="spacingAndGlyphs">HR</text>
<text x="482" y="682.6" font-family="'Liberation Serif', serif" font-size="6.6" fill="#222" textLength="13.5" lengthAdjust="spacingAndGlyphs">HER2</text>
<text x="481" y="704" font-family="'Liberation Serif', serif" font-size="6.6" fill="#222" textLength="15" lengthAdjust="spacingAndGlyphs">Grade</text>
<text x="467" y="723" font-family="'Liberation Serif', serif" font-size="6.6" fill="#222" textLength="49" lengthAdjust="spacingAndGlyphs">Density of mast cell</text>
<text x="482.3" y="742" font-family="'Liberation Serif', serif" font-size="6.6" fill="#222" textLength="26.3" lengthAdjust="spacingAndGlyphs">Total Points</text>
<text x="470.5" y="762.6" font-family="'Liberation Serif', serif" font-size="6.6" fill="#222" textLength="44.7" lengthAdjust="spacingAndGlyphs">Probability of pCR</text>
<line x1="532.2" y1="601.3" x2="676.8" y2="601.3" stroke="#333" stroke-width="0.9" />
<line x1="532.2" y1="601.3" x2="532.2" y2="599.1" stroke="#333" stroke-width="0.6" />
<line x1="535.09" y1="601.3" x2="535.09" y2="599.7" stroke="#333" stroke-width="0.6" />
<line x1="537.98" y1="601.3" x2="537.98" y2="599.7" stroke="#333" stroke-width="0.6" />
<line x1="540.88" y1="601.3" x2="540.88" y2="599.7" stroke="#333" stroke-width="0.6" />
<line x1="543.77" y1="601.3" x2="543.77" y2="599.7" stroke="#333" stroke-width="0.6" />
<line x1="546.66" y1="601.3" x2="546.66" y2="599.1" stroke="#333" stroke-width="0.6" />
<line x1="549.55" y1="601.3" x2="549.55" y2="599.7" stroke="#333" stroke-width="0.6" />
<line x1="552.44" y1="601.3" x2="552.44" y2="599.7" stroke="#333" stroke-width="0.6" />
<line x1="555.34" y1="601.3" x2="555.34" y2="599.7" stroke="#333" stroke-width="0.6" />
<line x1="558.23" y1="601.3" x2="558.23" y2="599.7" stroke="#333" stroke-width="0.6" />
<line x1="561.12" y1="601.3" x2="561.12" y2="599.1" stroke="#333" stroke-width="0.6" />
<line x1="564.01" y1="601.3" x2="564.01" y2="599.7" stroke="#333" stroke-width="0.6" />
<line x1="566.9" y1="601.3" x2="566.9" y2="599.7" stroke="#333" stroke-width="0.6" />
<line x1="569.8" y1="601.3" x2="569.8" y2="599.7" stroke="#333" stroke-width="0.6" />
<line x1="572.69" y1="601.3" x2="572.69" y2="599.7" stroke="#333" stroke-width="0.6" />
<line x1="575.58" y1="601.3" x2="575.58" y2="599.1" stroke="#333" stroke-width="0.6" />
<line x1="578.47" y1="601.3" x2="578.47" y2="599.7" stroke="#333" stroke-width="0.6" />
<line x1="581.36" y1="601.3" x2="581.36" y2="599.7" stroke="#333" stroke-width="0.6" />
<line x1="584.26" y1="601.3" x2="584.26" y2="599.7" stroke="#333" stroke-width="0.6" />
<line x1="587.15" y1="601.3" x2="587.15" y2="599.7" stroke="#333" stroke-width="0.6" />
<line x1="590.04" y1="601.3" x2="590.04" y2="599.1" stroke="#333" stroke-width="0.6" />
<line x1="592.93" y1="601.3" x2="592.93" y2="599.7" stroke="#333" stroke-width="0.6" />
<line x1="595.82" y1="601.3" x2="595.82" y2="599.7" stroke="#333" stroke-width="0.6" />
<line x1="598.72" y1="601.3" x2="598.72" y2="599.7" stroke="#333" stroke-width="0.6" />
<line x1="601.61" y1="601.3" x2="601.61" y2="599.7" stroke="#333" stroke-width="0.6" />
<line x1="604.5" y1="601.3" x2="604.5" y2="599.1" stroke="#333" stroke-width="0.6" />
<line x1="607.39" y1="601.3" x2="607.39" y2="599.7" stroke="#333" stroke-width="0.6" />
<line x1="610.28" y1="601.3" x2="610.28" y2="599.7" stroke="#333" stroke-width="0.6" />
<line x1="613.18" y1="601.3" x2="613.18" y2="599.7" stroke="#333" stroke-width="0.6" />
<line x1="616.07" y1="601.3" x2="616.07" y2="599.7" stroke="#333" stroke-width="0.6" />
<line x1="618.96" y1="601.3" x2="618.96" y2="599.1" stroke="#333" stroke-width="0.6" />
<line x1="621.85" y1="601.3" x2="621.85" y2="599.7" stroke="#333" stroke-width="0.6" />
<line x1="624.74" y1="601.3" x2="624.74" y2="599.7" stroke="#333" stroke-width="0.6" />
<line x1="627.64" y1="601.3" x2="627.64" y2="599.7" stroke="#333" stroke-width="0.6" />
<line x1="630.53" y1="601.3" x2="630.53" y2="599.7" stroke="#333" stroke-width="0.6" />
<line x1="633.42" y1="601.3" x2="633.42" y2="599.1" stroke="#333" stroke-width="0.6" />
<line x1="636.31" y1="601.3" x2="636.31" y2="599.7" stroke="#333" stroke-width="0.6" />
<line x1="639.2" y1="601.3" x2="639.2" y2="599.7" stroke="#333" stroke-width="0.6" />
<line x1="642.1" y1="601.3" x2="642.1" y2="599.7" stroke="#333" stroke-width="0.6" />
<line x1="644.99" y1="601.3" x2="644.99" y2="599.7" stroke="#333" stroke-width="0.6" />
<line x1="647.88" y1="601.3" x2="647.88" y2="599.1" stroke="#333" stroke-width="0.6" />
<line x1="650.77" y1="601.3" x2="650.77" y2="599.7" stroke="#333" stroke-width="0.6" />
<line x1="653.66" y1="601.3" x2="653.66" y2="599.7" stroke="#333" stroke-width="0.6" />
<line x1="656.56" y1="601.3" x2="656.56" y2="599.7" stroke="#333" stroke-width="0.6" />
<line x1="659.45" y1="601.3" x2="659.45" y2="599.7" stroke="#333" stroke-width="0.6" />
<line x1="662.34" y1="601.3" x2="662.34" y2="599.1" stroke="#333" stroke-width="0.6" />
<line x1="665.23" y1="601.3" x2="665.23" y2="599.7" stroke="#333" stroke-width="0.6" />
<line x1="668.12" y1="601.3" x2="668.12" y2="599.7" stroke="#333" stroke-width="0.6" />
<line x1="671.02" y1="601.3" x2="671.02" y2="599.7" stroke="#333" stroke-width="0.6" />
<line x1="673.91" y1="601.3" x2="673.91" y2="599.7" stroke="#333" stroke-width="0.6" />
<line x1="676.8" y1="601.3" x2="676.8" y2="599.1" stroke="#333" stroke-width="0.6" />
<text x="532.2" y="597.4" font-family="'Liberation Serif', serif" font-size="5.1" fill="#555" text-anchor="middle">0</text>
<text x="546.66" y="597.4" font-family="'Liberation Serif', serif" font-size="5.1" fill="#555" text-anchor="middle">10</text>
<text x="561.12" y="597.4" font-family="'Liberation Serif', serif" font-size="5.1" fill="#555" text-anchor="middle">20</text>
<text x="575.58" y="597.4" font-family="'Liberation Serif', serif" font-size="5.1" fill="#555" text-anchor="middle">30</text>
<text x="590.04" y="597.4" font-family="'Liberation Serif', serif" font-size="5.1" fill="#555" text-anchor="middle">40</text>
<text x="604.5" y="597.4" font-family="'Liberation Serif', serif" font-size="5.1" fill="#555" text-anchor="middle">50</text>
<text x="618.96" y="597.4" font-family="'Liberation Serif', serif" font-size="5.1" fill="#555" text-anchor="middle">60</text>
<text x="633.42" y="597.4" font-family="'Liberation Serif', serif" font-size="5.1" fill="#555" text-anchor="middle">70</text>
<text x="647.88" y="597.4" font-family="'Liberation Serif', serif" font-size="5.1" fill="#555" text-anchor="middle">80</text>
<text x="662.34" y="597.4" font-family="'Liberation Serif', serif" font-size="5.1" fill="#555" text-anchor="middle">90</text>
<text x="676.8" y="597.4" font-family="'Liberation Serif', serif" font-size="5.1" fill="#555" text-anchor="middle">100</text>
<line x1="532.2" y1="621.3" x2="571.24" y2="621.3" stroke="#AAA" stroke-width="1" />
<line x1="532.2" y1="621.3" x2="532.2" y2="622.9" stroke="#555" stroke-width="0.7" />
<text x="532.2" y="628.9" font-family="'Liberation Serif', serif" font-size="5.1" fill="#555" text-anchor="middle">4</text>
<line x1="545.21" y1="619.7" x2="545.21" y2="621.3" stroke="#555" stroke-width="0.7" />
<text x="545.21" y="617.5" font-family="'Liberation Serif', serif" font-size="5.1" fill="#555" text-anchor="middle">3</text>
<line x1="557.5" y1="621.3" x2="557.5" y2="622.9" stroke="#555" stroke-width="0.7" />
<text x="557.5" y="628.9" font-family="'Liberation Serif', serif" font-size="5.1" fill="#555" text-anchor="middle">2</text>
<line x1="571.24" y1="619.7" x2="571.24" y2="621.3" stroke="#555" stroke-width="0.7" />
<text x="571.24" y="617.5" font-family="'Liberation Serif', serif" font-size="5.1" fill="#555" text-anchor="middle">1</text>
<line x1="532.2" y1="640.8" x2="641.37" y2="640.8" stroke="#333" stroke-width="1" />
<line x1="532.2" y1="640.8" x2="532.2" y2="642.8" stroke="#333" stroke-width="0.65" />
<line x1="540" y1="640.8" x2="540" y2="642.2" stroke="#333" stroke-width="0.65" />
<line x1="547.8" y1="640.8" x2="547.8" y2="642.8" stroke="#333" stroke-width="0.65" />
<line x1="555.59" y1="640.8" x2="555.59" y2="642.2" stroke="#333" stroke-width="0.65" />
<line x1="563.39" y1="640.8" x2="563.39" y2="642.8" stroke="#333" stroke-width="0.65" />
<line x1="571.19" y1="640.8" x2="571.19" y2="642.2" stroke="#333" stroke-width="0.65" />
<line x1="578.99" y1="640.8" x2="578.99" y2="642.8" stroke="#333" stroke-width="0.65" />
<line x1="586.79" y1="640.8" x2="586.79" y2="642.2" stroke="#333" stroke-width="0.65" />
<line x1="594.58" y1="640.8" x2="594.58" y2="642.8" stroke="#333" stroke-width="0.65" />
<line x1="602.38" y1="640.8" x2="602.38" y2="642.2" stroke="#333" stroke-width="0.65" />
<line x1="610.18" y1="640.8" x2="610.18" y2="642.8" stroke="#333" stroke-width="0.65" />
<line x1="617.98" y1="640.8" x2="617.98" y2="642.2" stroke="#333" stroke-width="0.65" />
<line x1="625.78" y1="640.8" x2="625.78" y2="642.8" stroke="#333" stroke-width="0.65" />
<line x1="633.57" y1="640.8" x2="633.57" y2="642.2" stroke="#333" stroke-width="0.65" />
<line x1="641.37" y1="640.8" x2="641.37" y2="642.8" stroke="#333" stroke-width="0.65" />
<text x="532.2" y="648" font-family="'Liberation Serif', serif" font-size="5.1" fill="#555" text-anchor="middle">0.15</text>
<text x="547.8" y="648" font-family="'Liberation Serif', serif" font-size="5.1" fill="#555" text-anchor="middle">0.25</text>
<text x="563.39" y="648" font-family="'Liberation Serif', serif" font-size="5.1" fill="#555" text-anchor="middle">0.35</text>
<text x="578.99" y="648" font-family="'Liberation Serif', serif" font-size="5.1" fill="#555" text-anchor="middle">0.45</text>
<text x="594.58" y="648" font-family="'Liberation Serif', serif" font-size="5.1" fill="#555" text-anchor="middle">0.55</text>
<text x="610.18" y="648" font-family="'Liberation Serif', serif" font-size="5.1" fill="#555" text-anchor="middle">0.65</text>
<text x="625.78" y="648" font-family="'Liberation Serif', serif" font-size="5.1" fill="#555" text-anchor="middle">0.75</text>
<text x="641.37" y="648" font-family="'Liberation Serif', serif" font-size="5.1" fill="#555" text-anchor="middle">0.85</text>
<line x1="532.2" y1="660.7" x2="548.83" y2="660.7" stroke="#333" stroke-width="0.9" />
<line x1="532.2" y1="660.7" x2="532.2" y2="662.3" stroke="#444" stroke-width="0.7" />
<line x1="548.83" y1="660.7" x2="548.83" y2="659.1" stroke="#444" stroke-width="0.7" />
<text x="532.2" y="667.9" font-family="'Liberation Serif', serif" font-size="5.1" fill="#555" text-anchor="middle">1</text>
<text x="548.83" y="656.9" font-family="'Liberation Serif', serif" font-size="5.1" fill="#555" text-anchor="middle">0</text>
<line x1="532.2" y1="680.6" x2="606.67" y2="680.6" stroke="#333" stroke-width="1" />
<line x1="532.2" y1="680.6" x2="532.2" y2="682.2" stroke="#444" stroke-width="0.7" />
<line x1="606.67" y1="680.6" x2="606.67" y2="679" stroke="#444" stroke-width="0.7" />
<text x="532.2" y="687.8" font-family="'Liberation Serif', serif" font-size="5.1" fill="#555" text-anchor="middle">0</text>
<text x="606.67" y="676.8" font-family="'Liberation Serif', serif" font-size="5.1" fill="#555" text-anchor="middle">1</text>
<line x1="532.2" y1="700.5" x2="582.81" y2="700.5" stroke="#A8A8A8" stroke-width="1.1" />
<line x1="532.2" y1="700.5" x2="532.2" y2="702.1" stroke="#444" stroke-width="0.7" />
<text x="532.2" y="707.5" font-family="'Liberation Serif', serif" font-size="5.1" fill="#555" text-anchor="middle">1</text>
<line x1="557.5" y1="698.9" x2="557.5" y2="700.5" stroke="#444" stroke-width="0.7" />
<text x="557.5" y="696.7" font-family="'Liberation Serif', serif" font-size="5.1" fill="#555" text-anchor="middle">2</text>
<line x1="582.81" y1="700.5" x2="582.81" y2="702.1" stroke="#444" stroke-width="0.7" />
<text x="582.81" y="707.5" font-family="'Liberation Serif', serif" font-size="5.1" fill="#555" text-anchor="middle">3</text>
<line x1="532.2" y1="719.9" x2="676.8" y2="719.9" stroke="#333" stroke-width="0.9" />
<line x1="532.2" y1="719.9" x2="532.2" y2="721.7" stroke="#333" stroke-width="0.7" />
<line x1="542.53" y1="719.9" x2="542.53" y2="721.7" stroke="#333" stroke-width="0.7" />
<line x1="552.86" y1="719.9" x2="552.86" y2="721.7" stroke="#333" stroke-width="0.7" />
<line x1="563.19" y1="719.9" x2="563.19" y2="721.7" stroke="#333" stroke-width="0.7" />
<line x1="573.51" y1="719.9" x2="573.51" y2="721.7" stroke="#333" stroke-width="0.7" />
<line x1="583.84" y1="719.9" x2="583.84" y2="721.7" stroke="#333" stroke-width="0.7" />
<line x1="594.17" y1="719.9" x2="594.17" y2="721.7" stroke="#333" stroke-width="0.7" />
<line x1="604.5" y1="719.9" x2="604.5" y2="721.7" stroke="#333" stroke-width="0.7" />
<line x1="614.83" y1="719.9" x2="614.83" y2="721.7" stroke="#333" stroke-width="0.7" />
<line x1="625.16" y1="719.9" x2="625.16" y2="721.7" stroke="#333" stroke-width="0.7" />
<line x1="635.49" y1="719.9" x2="635.49" y2="721.7" stroke="#333" stroke-width="0.7" />
<line x1="645.81" y1="719.9" x2="645.81" y2="721.7" stroke="#333" stroke-width="0.7" />
<line x1="656.14" y1="719.9" x2="656.14" y2="721.7" stroke="#333" stroke-width="0.7" />
<line x1="666.47" y1="719.9" x2="666.47" y2="721.7" stroke="#333" stroke-width="0.7" />
<line x1="676.8" y1="719.9" x2="676.8" y2="721.7" stroke="#333" stroke-width="0.7" />
<text x="532.2" y="727.3" font-family="'Liberation Serif', serif" font-size="5.1" fill="#555" text-anchor="middle">140</text>
<text x="552.86" y="727.3" font-family="'Liberation Serif', serif" font-size="5.1" fill="#555" text-anchor="middle">120</text>
<text x="573.51" y="727.3" font-family="'Liberation Serif', serif" font-size="5.1" fill="#555" text-anchor="middle">100</text>
<text x="583.84" y="727.3" font-family="'Liberation Serif', serif" font-size="5.1" fill="#555" text-anchor="middle">90</text>
<text x="594.17" y="727.3" font-family="'Liberation Serif', serif" font-size="5.1" fill="#555" text-anchor="middle">80</text>
<text x="604.5" y="727.3" font-family="'Liberation Serif', serif" font-size="5.1" fill="#555" text-anchor="middle">70</text>
<text x="614.83" y="727.3" font-family="'Liberation Serif', serif" font-size="5.1" fill="#555" text-anchor="middle">60</text>
<text x="625.16" y="727.3" font-family="'Liberation Serif', serif" font-size="5.1" fill="#555" text-anchor="middle">50</text>
<text x="635.49" y="727.3" font-family="'Liberation Serif', serif" font-size="5.1" fill="#555" text-anchor="middle">40</text>
<text x="645.81" y="727.3" font-family="'Liberation Serif', serif" font-size="5.1" fill="#555" text-anchor="middle">30</text>
<text x="656.14" y="727.3" font-family="'Liberation Serif', serif" font-size="5.1" fill="#555" text-anchor="middle">20</text>
<text x="666.47" y="727.3" font-family="'Liberation Serif', serif" font-size="5.1" fill="#555" text-anchor="middle">10</text>
<text x="676.8" y="727.3" font-family="'Liberation Serif', serif" font-size="5.1" fill="#555" text-anchor="middle">0</text>
<line x1="532.2" y1="739.8" x2="676.8" y2="739.8" stroke="#222" stroke-width="1.1" />
<line x1="532.2" y1="739.8" x2="532.2" y2="741.4" stroke="#333" stroke-width="0.6" />
<line x1="537.02" y1="739.8" x2="537.02" y2="741.4" stroke="#333" stroke-width="0.6" />
<line x1="541.84" y1="739.8" x2="541.84" y2="741.4" stroke="#333" stroke-width="0.6" />
<line x1="546.66" y1="739.8" x2="546.66" y2="741.4" stroke="#333" stroke-width="0.6" />
<line x1="551.48" y1="739.8" x2="551.48" y2="741.4" stroke="#333" stroke-width="0.6" />
<line x1="556.3" y1="739.8" x2="556.3" y2="741.4" stroke="#333" stroke-width="0.6" />
<line x1="561.12" y1="739.8" x2="561.12" y2="741.4" stroke="#333" stroke-width="0.6" />
<line x1="565.94" y1="739.8" x2="565.94" y2="741.4" stroke="#333" stroke-width="0.6" />
<line x1="570.76" y1="739.8" x2="570.76" y2="741.4" stroke="#333" stroke-width="0.6" />
<line x1="575.58" y1="739.8" x2="575.58" y2="741.4" stroke="#333" stroke-width="0.6" />
<line x1="580.4" y1="739.8" x2="580.4" y2="741.4" stroke="#333" stroke-width="0.6" />
<line x1="585.22" y1="739.8" x2="585.22" y2="741.4" stroke="#333" stroke-width="0.6" />
<line x1="590.04" y1="739.8" x2="590.04" y2="741.4" stroke="#333" stroke-width="0.6" />
<line x1="594.86" y1="739.8" x2="594.86" y2="741.4" stroke="#333" stroke-width="0.6" />
<line x1="599.68" y1="739.8" x2="599.68" y2="741.4" stroke="#333" stroke-width="0.6" />
<line x1="604.5" y1="739.8" x2="604.5" y2="741.4" stroke="#333" stroke-width="0.6" />
<line x1="609.32" y1="739.8" x2="609.32" y2="741.4" stroke="#333" stroke-width="0.6" />
<line x1="614.14" y1="739.8" x2="614.14" y2="741.4" stroke="#333" stroke-width="0.6" />
<line x1="618.96" y1="739.8" x2="618.96" y2="741.4" stroke="#333" stroke-width="0.6" />
<line x1="623.78" y1="739.8" x2="623.78" y2="741.4" stroke="#333" stroke-width="0.6" />
<line x1="628.6" y1="739.8" x2="628.6" y2="741.4" stroke="#333" stroke-width="0.6" />
<line x1="633.42" y1="739.8" x2="633.42" y2="741.4" stroke="#333" stroke-width="0.6" />
<line x1="638.24" y1="739.8" x2="638.24" y2="741.4" stroke="#333" stroke-width="0.6" />
<line x1="643.06" y1="739.8" x2="643.06" y2="741.4" stroke="#333" stroke-width="0.6" />
<line x1="647.88" y1="739.8" x2="647.88" y2="741.4" stroke="#333" stroke-width="0.6" />
<line x1="652.7" y1="739.8" x2="652.7" y2="741.4" stroke="#333" stroke-width="0.6" />
<line x1="657.52" y1="739.8" x2="657.52" y2="741.4" stroke="#333" stroke-width="0.6" />
<line x1="662.34" y1="739.8" x2="662.34" y2="741.4" stroke="#333" stroke-width="0.6" />
<line x1="667.16" y1="739.8" x2="667.16" y2="741.4" stroke="#333" stroke-width="0.6" />
<line x1="671.98" y1="739.8" x2="671.98" y2="741.4" stroke="#333" stroke-width="0.6" />
<line x1="676.8" y1="739.8" x2="676.8" y2="741.4" stroke="#333" stroke-width="0.6" />
<text x="532.2" y="747" font-family="'Liberation Serif', serif" font-size="5.1" fill="#555" text-anchor="middle">0</text>
<text x="556.3" y="747" font-family="'Liberation Serif', serif" font-size="5.1" fill="#555" text-anchor="middle">50</text>
<text x="580.4" y="747" font-family="'Liberation Serif', serif" font-size="5.1" fill="#555" text-anchor="middle">100</text>
<text x="604.5" y="747" font-family="'Liberation Serif', serif" font-size="5.1" fill="#555" text-anchor="middle">150</text>
<text x="628.6" y="747" font-family="'Liberation Serif', serif" font-size="5.1" fill="#555" text-anchor="middle">200</text>
<text x="652.7" y="747" font-family="'Liberation Serif', serif" font-size="5.1" fill="#555" text-anchor="middle">250</text>
<text x="676.8" y="747" font-family="'Liberation Serif', serif" font-size="5.1" fill="#555" text-anchor="middle">300</text>
<line x1="606.4" y1="759.1" x2="665.4" y2="759.1" stroke="#333" stroke-width="0.9" />
<line x1="606.4" y1="759.1" x2="606.4" y2="760.7" stroke="#333" stroke-width="0.7" />
<line x1="617.5" y1="759.1" x2="617.5" y2="760.7" stroke="#333" stroke-width="0.7" />
<line x1="624.5" y1="759.1" x2="624.5" y2="760.7" stroke="#333" stroke-width="0.7" />
<line x1="630.6" y1="759.1" x2="630.6" y2="760.7" stroke="#333" stroke-width="0.7" />
<line x1="636.4" y1="759.1" x2="636.4" y2="760.7" stroke="#333" stroke-width="0.7" />
<line x1="641.5" y1="759.1" x2="641.5" y2="760.7" stroke="#333" stroke-width="0.7" />
<line x1="647.3" y1="759.1" x2="647.3" y2="760.7" stroke="#333" stroke-width="0.7" />
<line x1="654.3" y1="759.1" x2="654.3" y2="760.7" stroke="#333" stroke-width="0.7" />
<line x1="665.4" y1="759.1" x2="665.4" y2="760.7" stroke="#333" stroke-width="0.7" />
<text x="605.2" y="766.1" font-family="'Liberation Serif', serif" font-size="4.6" fill="#555" text-anchor="middle">0.1</text>
<text x="615" y="766.1" font-family="'Liberation Serif', serif" font-size="4.6" fill="#555" text-anchor="middle">0.2</text>
<text x="623.4" y="766.1" font-family="'Liberation Serif', serif" font-size="4.6" fill="#555" text-anchor="middle">0.3</text>
<text x="630" y="766.1" font-family="'Liberation Serif', serif" font-size="4.6" fill="#555" text-anchor="middle">0.4</text>
<text x="636.9" y="766.1" font-family="'Liberation Serif', serif" font-size="4.6" fill="#555" text-anchor="middle">0.5</text>
<text x="641.4" y="766.1" font-family="'Liberation Serif', serif" font-size="4.6" fill="#555" text-anchor="middle">0.6</text>
<text x="648.2" y="766.1" font-family="'Liberation Serif', serif" font-size="4.6" fill="#555" text-anchor="middle">0.7</text>
<text x="656" y="766.1" font-family="'Liberation Serif', serif" font-size="4.6" fill="#555" text-anchor="middle">0.8</text>
<text x="665" y="766.1" font-family="'Liberation Serif', serif" font-size="4.6" fill="#555" text-anchor="middle">0.9</text></svg></body></html>
